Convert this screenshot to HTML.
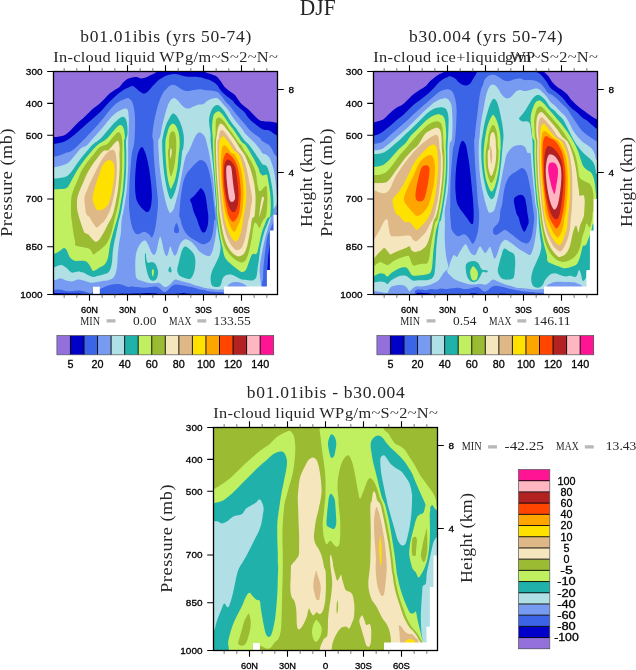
<!DOCTYPE html>
<html lang="en">
<head>
<meta charset="utf-8">
<title>DJF In-cloud liquid WP</title>
<style>
html,body{margin:0;padding:0;background:#fff;}
body{width:636px;height:670px;overflow:hidden;}
svg{display:block;}
.se{font-family:"Liberation Serif", "DejaVu Serif", serif;fill:#262626;}
.sa{font-family:"Liberation Sans", "DejaVu Sans", sans-serif;}
</style>
</head>
<body>
<svg width="636" height="670" viewBox="0 0 636 670">
<rect width="636" height="670" fill="#fff"/>
<text x="299.8" y="15.1" font-size="23.5" class="se" textLength="35.8" lengthAdjust="spacingAndGlyphs">DJF</text>
<g id="p1">
<clipPath id="cp_p1"><rect x="53.5" y="71.5" width="224" height="223"/></clipPath>
<g clip-path="url(#cp_p1)">
<rect x="53.5" y="71.5" width="224" height="223" fill="#3c64e6"/>
<g transform="translate(53.5 71.5)">
<path d="M-4.3 85.2C-4.3 85.2 -2.2 85.4 -0.5 85.2C1.2 85.0 3.7 84.6 5.8 84.0C7.9 83.4 10.2 82.1 12.1 81.4C14.0 80.7 15.4 80.9 17.1 80.0C18.8 79.1 20.4 77.7 22.1 76.2C23.8 74.7 25.5 72.9 27.2 71.2C28.9 69.5 30.5 67.9 32.2 66.2C33.9 64.5 35.5 62.9 37.2 61.1C38.9 59.3 40.6 57.4 42.3 55.5C44.0 53.6 45.6 51.8 47.3 49.8C49.0 47.8 50.6 45.6 52.3 43.5C54.0 41.4 55.7 39.1 57.4 37.2C59.1 35.3 60.7 33.6 62.4 32.2C64.1 30.9 65.7 30.0 67.4 29.1C69.1 28.2 71.2 27.3 72.5 26.9C73.8 26.5 72.7 26.8 75.0 26.5C77.3 26.2 82.6 25.9 86.6 25.3C90.6 24.7 95.2 23.8 99.2 22.8C103.2 21.9 107.9 20.9 110.5 19.6C113.1 18.3 113.4 16.2 114.9 15.2C116.4 14.1 117.7 13.3 119.3 13.3C120.9 13.3 122.6 14.3 124.3 15.2C126.0 16.0 127.7 17.7 129.4 18.4C131.1 19.1 132.5 19.4 134.4 19.4C136.3 19.4 138.6 18.7 140.7 18.4C142.8 18.1 145.3 17.7 147.0 17.7C148.7 17.7 149.1 18.2 150.8 18.4C152.5 18.6 155.0 18.7 157.1 19.0C159.2 19.3 161.7 19.6 163.4 20.3C165.1 21.0 165.8 22.0 167.1 23.4C168.3 24.8 169.4 26.6 170.9 28.4C172.4 30.2 174.5 32.4 175.9 34.1C177.3 35.8 178.4 37.2 179.5 38.6C180.6 40.0 181.5 41.1 182.5 42.4C183.5 43.6 184.6 44.9 185.6 46.1C186.6 47.3 187.6 48.4 188.6 49.5C189.6 50.6 190.6 51.7 191.6 52.9C192.6 54.1 193.5 55.4 194.6 56.7C195.7 58.0 197.1 59.4 198.4 60.5C199.7 61.6 200.9 62.6 202.2 63.5C203.4 64.4 204.8 65.1 205.9 66.1C207.0 67.1 207.6 68.7 208.6 69.6C209.6 70.5 210.8 70.8 212.0 71.5C213.2 72.2 214.6 72.7 215.7 73.8C216.8 74.9 217.9 76.8 218.8 78.3C219.7 79.8 219.8 81.3 221.0 82.8C222.2 84.3 226.3 87.4 226.3 87.4L227.5 227.6L-4.3 227.6L-4.3 85.2Z" fill="#789bf2"/>
<path d="M76.5 23.4C76.5 23.4 75.0 25.4 75.3 26.5C75.6 27.6 77.6 28.1 78.4 29.7C79.2 31.3 79.8 33.7 80.3 36.0C80.8 38.3 81.1 40.8 81.3 43.5C81.5 46.2 81.6 49.1 81.6 52.3C81.6 55.4 81.5 59.0 81.3 62.4C81.1 65.8 81.1 69.2 80.6 72.5C80.1 75.8 79.0 78.4 78.4 82.1C77.8 85.8 77.6 90.5 77.2 94.7C76.8 98.9 76.5 103.0 76.3 107.2C76.0 111.4 75.8 115.6 75.7 119.8C75.6 124.0 75.5 129.1 75.5 132.4C75.5 135.7 75.6 136.6 75.9 139.5C76.2 142.4 76.6 146.4 77.2 149.6C77.8 152.8 78.6 156.2 79.7 158.4C80.8 160.6 82.3 162.5 84.1 162.8C85.9 163.1 88.5 160.3 90.4 160.3C92.3 160.3 94.1 161.9 95.4 162.8C96.8 163.7 97.5 166.4 98.5 165.9C99.5 165.4 100.4 162.3 101.1 159.6C101.8 156.9 102.4 152.9 102.9 149.6C103.4 146.2 103.7 142.8 104.0 139.5C104.3 136.2 104.6 133.2 104.5 129.9C104.4 126.6 104.0 123.6 103.6 119.8C103.2 116.0 102.7 111.4 102.3 107.2C101.9 103.0 101.4 98.9 101.1 94.7C100.8 90.5 100.4 86.3 100.2 82.1C100.0 77.9 100.0 72.4 99.8 69.5C99.6 66.6 98.9 67.4 98.9 64.9C98.9 62.5 99.3 58.1 99.8 54.8C100.3 51.4 101.0 48.1 101.7 44.8C102.4 41.4 103.3 37.9 104.2 34.7C105.1 31.6 106.2 28.4 107.3 25.9C108.3 23.4 109.8 21.5 110.5 19.6C111.2 17.7 111.8 14.6 111.8 14.6L76.5 23.4Z" fill="#3c64e6"/>
<path d="M-4.3 -4.3L-4.3 72.5C-4.3 72.5 -2.0 72.6 -0.5 72.5C1.0 72.4 2.8 72.1 4.5 71.8C6.2 71.5 7.9 71.2 9.6 70.6C11.3 70.0 12.9 69.1 14.6 68.1C16.3 67.0 17.9 65.7 19.6 64.3C21.3 62.9 23.0 61.4 24.7 59.9C26.4 58.4 28.0 57.0 29.7 55.5C31.4 54.0 33.0 52.6 34.7 51.1C36.4 49.6 38.1 48.2 39.8 46.7C41.5 45.2 43.1 43.9 44.8 42.3C46.5 40.7 48.1 39.0 49.8 37.2C51.5 35.4 53.1 33.4 54.8 31.6C56.5 29.8 58.2 28.1 59.9 26.5C61.6 24.9 63.2 23.5 64.9 22.1C66.6 20.8 68.2 19.4 69.9 18.4C71.6 17.4 73.5 16.5 75.0 15.9C76.5 15.3 77.7 14.4 79.0 14.6C80.3 14.8 81.5 16.2 82.8 17.1C84.1 18.1 85.3 19.5 86.6 20.3C87.9 21.1 89.2 22.1 90.4 22.1C91.7 22.1 92.8 21.3 94.1 20.3C95.3 19.3 96.6 17.3 97.9 15.9C99.2 14.5 100.4 13.4 101.7 12.1C103.0 10.8 104.0 9.5 105.5 8.3C107.0 7.2 108.8 6.0 110.5 5.2C112.2 4.4 113.6 3.7 115.5 3.3C117.4 2.9 119.7 2.5 121.8 2.6C123.9 2.7 126.0 3.5 128.1 3.9C130.2 4.3 132.3 5.0 134.4 5.2C136.5 5.4 138.6 5.1 140.7 5.2C142.8 5.3 145.3 5.5 147.0 5.8C148.7 6.1 149.1 6.5 150.8 7.0C152.5 7.5 155.2 8.1 157.1 8.9C159.0 9.8 160.7 10.9 162.1 12.1C163.5 13.3 164.2 14.5 165.3 15.9C166.4 17.3 167.1 18.8 168.4 20.3C169.8 21.8 171.7 23.3 173.4 24.7C175.1 26.1 177.5 27.6 178.8 28.8C180.1 30.0 180.0 30.7 181.0 31.8C182.0 32.9 183.5 34.1 184.8 35.2C186.1 36.3 187.3 37.4 188.6 38.6C189.8 39.8 191.3 41.1 192.3 42.4C193.3 43.6 193.7 45.0 194.6 46.1C195.5 47.2 196.5 48.2 197.6 49.2C198.7 50.2 200.1 51.2 201.4 52.2C202.7 53.2 203.9 54.3 205.2 55.2C206.5 56.1 207.9 57.2 209.0 57.8C210.1 58.4 210.9 58.4 212.0 58.6C213.1 58.8 214.6 58.6 215.7 59.0C216.8 59.4 217.8 60.2 218.8 60.9C219.8 61.6 220.4 62.3 221.8 63.1C223.2 63.9 227.1 65.8 227.1 65.8L227.5 -4.3L-4.3 -4.3Z" fill="#0000c8"/>
<path d="M-4.3 -4.3L-4.3 65.5C-4.3 65.5 -2.2 65.6 -0.5 65.5C1.2 65.4 3.9 65.2 5.8 64.9C7.7 64.6 9.1 64.5 10.8 63.7C12.5 62.9 14.2 61.4 15.9 59.9C17.6 58.4 19.2 56.5 20.9 54.8C22.6 53.1 24.2 51.4 25.9 49.8C27.6 48.2 29.2 47.0 30.9 45.4C32.6 43.8 34.3 42.0 36.0 40.4C37.7 38.8 39.3 37.4 41.0 36.0C42.7 34.6 44.3 33.7 46.0 32.2C47.7 30.7 49.4 28.9 51.1 27.2C52.8 25.5 54.4 23.6 56.1 22.1C57.8 20.6 59.4 19.5 61.1 18.4C62.8 17.2 64.7 16.5 66.2 15.2C67.7 13.9 68.4 12.2 69.9 10.8C71.4 9.4 72.8 7.9 75.0 7.0C77.2 6.1 80.6 5.5 82.8 5.5C85.0 5.5 86.2 7.0 87.9 7.0C89.6 7.0 91.2 6.4 92.9 5.8C94.6 5.2 96.2 4.2 97.9 3.3C99.6 2.4 101.9 1.8 102.9 0.5C104.0 -0.8 104.2 -4.3 104.2 -4.3L-4.3 -4.3Z" fill="#9370db"/>
<path d="M149.5 -4.3C149.5 -4.3 149.5 -1.1 150.8 0.1C152.1 1.3 155.0 1.8 157.1 2.6C159.2 3.5 161.7 4.0 163.4 5.2C165.1 6.4 165.8 7.9 167.1 9.6C168.3 11.3 169.4 13.5 170.9 15.2C172.4 16.9 174.2 18.2 175.9 19.6C177.7 21.0 180.1 22.2 181.4 23.5C182.8 24.8 183.1 26.0 184.0 27.3C184.9 28.6 186.0 30.1 187.1 31.4C188.2 32.6 189.6 33.7 190.8 34.8C192.1 35.9 193.3 36.7 194.6 37.8C195.9 38.9 197.1 40.3 198.4 41.6C199.7 42.9 200.9 44.3 202.2 45.4C203.4 46.5 204.9 47.7 205.9 48.4C206.9 49.1 207.1 49.2 208.2 49.5C209.3 49.8 211.2 50.0 212.7 50.1C214.2 50.2 215.8 50.1 217.3 50.3C218.8 50.4 220.2 50.8 221.8 51.0C223.4 51.2 227.1 51.8 227.1 51.8L227.5 -4.3L149.5 -4.3Z" fill="#9370db"/>
<path d="M88.5 75.5C89.5 75.7 90.7 78.5 91.6 80.8C92.5 83.1 93.4 86.4 94.1 89.6C94.8 92.8 95.5 96.3 96.0 99.7C96.5 103.1 96.9 106.5 97.3 109.8C97.7 113.1 98.0 116.7 98.2 119.8C98.4 122.9 98.5 125.7 98.2 128.6C98.0 131.5 97.5 135.4 96.7 137.4C95.9 139.4 94.7 140.5 93.5 140.6C92.3 140.7 91.0 139.2 89.7 138.1C88.5 136.9 87.2 135.5 86.0 133.7C84.8 131.9 83.5 130.1 82.8 127.4C82.1 124.7 81.8 120.7 81.6 117.3C81.4 113.9 81.5 110.5 81.6 107.2C81.7 103.9 81.9 100.6 82.2 97.2C82.5 93.8 82.9 90.0 83.4 87.1C83.9 84.2 84.5 81.5 85.3 79.6C86.1 77.7 87.5 75.3 88.5 75.5Z" fill="#0000c8"/>
<path d="M147.0 88.4C148.5 88.4 150.6 89.2 152.0 90.9C153.4 92.6 154.3 95.7 155.2 98.4C156.0 101.1 156.5 104.1 157.1 107.2C157.7 110.3 158.1 113.9 158.6 117.3C159.1 120.7 159.4 124.1 159.8 127.4C160.2 130.8 160.6 134.1 160.9 137.4C161.2 140.8 162.0 145.5 161.9 147.5C161.8 149.5 161.0 147.6 160.6 149.6C160.2 151.6 160.2 156.5 159.6 159.6C159.0 162.7 158.4 166.3 157.1 168.4C155.8 170.5 153.5 171.5 152.0 172.2C150.5 172.9 149.7 172.9 148.2 172.5C146.7 172.1 145.1 170.8 143.2 169.7C141.3 168.6 138.8 167.4 136.9 165.9C135.0 164.4 133.3 162.8 131.9 160.9C130.5 159.0 129.5 156.9 128.7 154.6C127.8 152.3 127.3 148.6 126.8 147.0C126.3 145.4 125.9 146.6 125.8 145.0C125.7 143.4 126.0 139.9 126.2 137.4C126.4 134.9 126.5 132.8 126.8 129.9C127.1 127.0 127.6 123.2 128.1 119.8C128.6 116.4 129.2 112.7 130.0 109.8C130.8 106.9 131.7 104.5 133.1 102.2C134.5 99.9 136.5 97.8 138.2 95.9C139.9 94.0 141.7 92.2 143.2 90.9C144.7 89.7 145.5 88.4 147.0 88.4Z" fill="#3c64e6"/>
<path d="M147.6 116.7C148.8 117.1 150.4 119.7 151.4 122.3C152.4 124.9 152.8 129.0 153.3 132.4C153.8 135.8 154.3 140.3 154.6 142.5C154.8 144.7 154.9 144.0 154.8 145.8C154.8 147.6 154.7 151.0 154.3 153.3C153.9 155.6 153.0 158.1 152.3 159.4C151.6 160.7 150.9 160.8 150.2 160.9C149.5 161.0 148.9 161.0 148.2 159.9C147.4 158.8 146.5 156.8 145.7 154.6C144.9 152.4 144.1 149.4 143.2 147.0C142.3 144.6 140.9 142.3 140.1 139.9C139.3 137.5 138.8 134.4 138.2 132.4C137.6 130.4 136.3 129.4 136.7 128.0C137.1 126.6 139.4 125.6 140.7 124.2C142.0 122.8 143.3 121.0 144.5 119.8C145.7 118.5 146.4 116.3 147.6 116.7Z" fill="#0000c8"/>
<path d="M123.1 151.4C123.9 151.6 125.4 156.7 125.6 158.4C125.8 160.1 125.0 161.1 124.3 161.5C123.6 161.9 121.8 161.6 121.2 160.9C120.6 160.2 120.3 158.7 120.6 157.1C120.9 155.5 122.3 151.2 123.1 151.4Z" fill="#3c64e6"/>
<path d="M-4.3 95.9C-4.3 95.9 -2.2 96.1 -0.5 95.9C1.2 95.7 3.7 95.2 5.8 94.7C7.9 94.2 10.4 93.5 12.1 92.8C13.8 92.1 14.4 91.7 15.9 90.3C17.4 88.9 19.0 86.8 20.9 84.6C22.8 82.4 25.1 78.8 27.2 77.0C29.3 75.2 31.6 75.2 33.5 73.7C35.4 72.2 36.8 70.0 38.5 68.1C40.2 66.2 41.8 64.3 43.5 62.4C45.2 60.5 46.9 58.7 48.6 56.7C50.3 54.7 51.9 52.4 53.6 50.4C55.3 48.4 56.9 46.5 58.6 44.8C60.3 43.1 62.0 41.5 63.7 40.4C65.4 39.2 67.4 38.5 68.7 37.9C70.0 37.3 70.9 36.9 71.8 37.0C72.7 37.1 73.7 36.8 74.3 38.5C74.9 40.2 75.1 44.1 75.3 47.3C75.5 50.4 75.3 53.7 75.2 57.4C75.1 61.1 74.8 65.4 74.7 69.5C74.6 73.6 74.7 77.9 74.7 82.1C74.7 86.3 74.7 90.5 74.6 94.7C74.5 98.9 74.2 103.0 74.0 107.2C73.8 111.4 73.5 116.0 73.1 119.8C72.7 123.6 72.1 126.6 71.6 129.9C71.1 133.2 70.5 136.8 69.9 139.9C69.3 143.0 68.5 145.2 68.1 148.7C67.7 152.2 67.8 157.0 67.4 160.9C67.0 164.8 66.0 168.4 65.5 172.2C65.0 176.0 64.6 179.9 64.3 183.5C64.0 187.1 64.0 190.7 63.7 193.6C63.4 196.5 63.0 199.0 62.4 201.1C61.8 203.2 61.2 204.9 59.9 206.2C58.6 207.5 56.5 208.2 54.8 208.7C53.1 209.2 51.7 209.0 49.8 209.3C47.9 209.6 45.6 210.3 43.5 210.6C41.4 210.9 39.3 211.4 37.2 211.2C35.1 211.0 33.0 209.8 30.9 209.3C28.8 208.8 26.8 208.0 24.7 208.1C22.6 208.2 20.5 209.8 18.4 209.9C16.3 210.0 14.0 209.2 12.1 208.7C10.2 208.2 8.5 206.9 7.0 206.8C5.5 206.7 4.5 207.8 3.3 208.1C2.0 208.4 0.8 208.6 -0.5 208.7C-1.8 208.8 -4.3 208.7 -4.3 208.7L-4.3 95.9Z" fill="#b0e0e6"/>
<path d="M117.0 141.4C116.2 141.5 115.7 140.4 114.9 138.7C114.1 137.0 113.2 134.2 112.4 131.1C111.6 127.9 110.7 123.8 109.9 119.8C109.1 115.8 108.3 111.4 107.7 107.2C107.1 103.0 106.5 98.9 106.1 94.7C105.7 90.5 105.4 86.3 105.2 82.1C105.0 77.9 104.5 72.4 104.8 69.5C105.0 66.6 106.1 67.4 106.7 64.9C107.3 62.5 107.9 58.1 108.6 54.8C109.3 51.4 110.3 47.9 111.1 44.8C111.9 41.7 112.6 38.6 113.6 36.0C114.5 33.4 115.6 30.7 116.8 29.1C118.0 27.5 119.3 26.5 120.6 26.5C121.8 26.5 123.0 27.9 124.3 29.1C125.5 30.3 126.8 32.2 128.1 33.5C129.4 34.8 130.6 36.0 131.9 36.6C133.2 37.2 134.4 37.2 135.7 37.0C136.9 36.8 137.9 35.9 139.4 35.3C140.9 34.7 142.8 33.6 144.5 33.2C146.2 32.8 148.0 33.4 149.5 32.8C151.0 32.2 151.8 30.6 153.3 29.7C154.8 28.8 156.6 27.7 158.3 27.2C160.0 26.7 162.0 26.2 163.4 26.5C164.8 26.8 165.4 28.1 166.5 29.1C167.6 30.2 168.3 31.2 169.7 32.8C171.1 34.4 173.1 36.3 174.7 38.5C176.3 40.7 178.2 44.2 179.5 46.1C180.8 48.0 181.5 48.6 182.5 49.9C183.5 51.2 184.6 52.4 185.6 53.7C186.6 55.0 187.6 56.1 188.6 57.5C189.6 58.9 190.6 60.8 191.6 62.0C192.6 63.2 193.6 64.0 194.6 65.0C195.6 66.0 196.6 67.0 197.6 68.0C198.6 69.0 199.6 69.5 200.7 70.7C201.8 71.9 203.4 74.0 204.4 75.3C205.4 76.6 205.9 77.2 206.7 78.3C207.5 79.4 208.1 81.0 209.0 81.7C209.9 82.5 211.0 82.2 212.0 82.8C213.0 83.4 214.1 84.1 215.0 85.1C215.9 86.1 216.7 87.5 217.3 88.9C217.9 90.3 218.3 91.8 218.8 93.4C219.3 95.0 219.9 96.8 220.3 98.7C220.7 100.6 221.1 102.7 221.4 104.7C221.7 106.7 222.0 108.8 222.2 110.8C222.4 112.8 222.5 114.9 222.7 116.8C222.8 118.7 223.0 119.7 223.1 122.3C223.2 124.9 223.8 129.5 223.1 132.4C222.4 135.3 219.8 136.6 218.7 139.5C217.6 142.4 217.5 146.7 216.8 149.6C216.1 152.5 215.1 154.4 214.3 157.1C213.5 159.8 212.6 162.6 211.8 165.9C211.0 169.2 210.0 173.6 209.3 177.2C208.6 180.8 207.9 183.9 207.4 187.3C206.9 190.7 206.2 194.1 206.1 197.4C206.0 200.8 206.6 204.5 206.8 207.4C207.0 210.3 207.7 213.2 207.4 215.0C207.1 216.8 211.0 217.6 204.9 218.1C198.8 218.6 177.8 218.1 170.9 218.1C164.0 218.1 166.6 218.4 163.4 218.1C160.2 217.8 154.7 217.0 152.0 216.5C149.3 216.0 148.7 215.5 147.0 215.0C145.3 214.5 144.0 214.3 141.9 213.7C139.8 213.1 136.9 211.9 134.4 211.2C131.9 210.5 128.9 209.8 126.8 209.3C124.7 208.8 123.0 208.0 121.8 208.1C120.5 208.2 120.3 209.0 119.3 209.9C118.2 210.8 116.8 212.8 115.5 213.7C114.2 214.6 113.0 215.6 111.8 215.6C110.6 215.6 109.6 214.4 108.6 213.7C107.5 213.0 106.9 211.5 105.5 211.2C104.1 210.9 102.3 211.8 100.4 211.8C98.5 211.8 96.2 211.6 94.1 211.2C92.0 210.8 89.8 210.1 87.9 209.3C86.0 208.5 83.8 208.4 82.8 206.2C81.8 204.0 81.9 199.7 81.8 196.1C81.7 192.5 81.8 188.0 82.2 184.8C82.6 181.7 83.1 179.5 84.1 177.2C85.0 174.9 86.7 172.2 87.9 170.9C89.2 169.6 90.4 168.7 91.6 169.1C92.8 169.5 93.8 171.7 94.8 173.5C95.8 175.3 96.4 178.1 97.3 179.8C98.2 181.5 99.5 183.5 100.4 183.5C101.3 183.5 102.2 181.9 102.9 179.8C103.6 177.7 104.2 173.3 104.8 170.9C105.4 168.5 106.1 165.3 106.7 165.3C107.3 165.3 108.0 168.5 108.6 170.9C109.2 173.3 109.8 177.5 110.5 179.8C111.2 182.1 112.3 184.6 113.0 184.8C113.7 185.0 114.3 182.7 114.9 181.0C115.5 179.3 116.2 174.9 116.8 174.7C117.4 174.5 118.0 178.2 118.7 179.8C119.4 181.4 120.4 184.0 121.2 184.2C122.0 184.4 123.0 182.6 123.7 181.0C124.4 179.4 124.9 176.5 125.6 174.7C126.3 172.9 127.0 171.5 128.1 170.3C129.2 169.2 130.4 167.9 131.9 167.8C133.4 167.7 135.2 168.5 136.9 169.7C138.6 170.8 140.4 173.0 141.9 174.7C143.4 176.4 144.1 178.3 145.7 179.8C147.3 181.3 149.7 182.8 151.5 183.5C153.3 184.2 155.1 185.2 156.4 184.2C157.8 183.1 158.7 180.4 159.6 177.2C160.5 173.9 161.5 168.9 162.1 164.7C162.7 160.5 163.2 156.3 163.4 152.1C163.6 147.9 163.4 142.8 163.1 139.5C162.8 136.2 162.0 135.7 161.6 132.4C161.2 129.1 160.9 124.0 160.6 119.8C160.3 115.6 160.0 111.0 159.6 107.2C159.2 103.4 158.6 100.8 158.1 97.2C157.6 93.7 157.0 89.3 156.4 85.9C155.8 82.5 155.2 79.7 154.6 77.0C154.0 74.3 153.2 71.4 152.7 69.5C152.2 67.6 152.1 66.7 151.5 65.5C150.9 64.3 149.9 63.1 148.9 62.4C147.9 61.7 146.8 60.9 145.7 61.1C144.6 61.3 143.6 62.2 142.6 63.7C141.6 65.2 140.4 67.6 139.4 69.9C138.4 72.2 137.6 74.8 136.3 77.5C135.1 80.2 133.1 82.6 131.9 85.9C130.8 89.2 130.1 93.7 129.4 97.2C128.7 100.8 128.2 103.4 127.5 107.2C126.8 111.0 125.8 116.0 125.0 119.8C124.2 123.6 123.2 126.9 122.4 129.9C121.6 133.0 120.8 136.2 119.9 138.1C119.0 140.0 117.8 141.3 117.0 141.4Z" fill="#b0e0e6"/>
<path d="M-4.3 107.2C-4.3 107.2 -2.2 107.3 -0.5 107.2C1.2 107.1 3.7 106.9 5.8 106.6C7.9 106.3 10.4 106.0 12.1 105.3C13.8 104.6 14.4 104.1 15.9 102.5C17.4 100.9 19.0 98.5 20.9 95.9C22.8 93.3 25.1 89.8 27.2 87.1C29.3 84.4 31.4 82.0 33.5 79.6C35.6 77.2 37.7 74.5 39.8 72.6C41.9 70.7 44.1 69.8 46.0 68.1C47.9 66.4 49.4 64.3 51.1 62.4C52.8 60.5 54.4 58.6 56.1 56.7C57.8 54.8 59.4 52.8 61.1 51.1C62.8 49.4 64.7 47.7 66.2 46.7C67.7 45.8 68.9 45.2 69.9 45.4C71.0 45.6 71.9 46.5 72.5 47.9C73.1 49.3 73.5 51.2 73.7 53.6C74.0 56.0 74.2 59.8 74.0 62.4C73.8 65.0 72.7 66.2 72.5 69.5C72.3 72.8 72.8 77.9 72.8 82.1C72.8 86.3 72.8 90.5 72.7 94.7C72.6 98.9 72.4 103.0 72.1 107.2C71.8 111.4 71.4 116.0 70.9 119.8C70.4 123.6 69.8 126.6 69.3 129.9C68.8 133.2 68.3 136.8 67.7 139.9C67.1 143.0 66.1 146.2 65.5 148.7C64.9 151.1 64.8 152.1 64.3 154.6C63.8 157.1 63.0 160.5 62.4 163.4C61.8 166.3 61.0 169.3 60.5 172.2C60.0 175.1 59.5 178.1 59.2 181.0C58.9 183.9 58.9 187.3 58.6 189.8C58.3 192.3 58.0 194.2 57.4 196.1C56.8 198.0 56.1 199.9 54.8 201.1C53.5 202.2 51.5 202.5 49.8 203.0C48.1 203.5 46.5 203.9 44.8 204.3C43.1 204.7 41.5 205.6 39.8 205.5C38.1 205.4 36.4 204.4 34.7 203.7C33.0 203.0 31.4 201.7 29.7 201.1C28.0 200.5 26.6 199.9 24.7 199.9C22.8 199.9 20.1 201.4 18.4 201.1C16.7 200.8 15.9 199.1 14.6 198.0C13.3 196.9 12.1 195.5 10.8 194.8C9.5 194.1 8.2 193.6 7.0 193.6C5.8 193.6 4.5 194.4 3.3 194.8C2.0 195.2 0.8 195.9 -0.5 196.1C-1.8 196.3 -4.3 196.1 -4.3 196.1L-4.3 107.2Z" fill="#20b2aa"/>
<path d="M119.3 42.0C120.3 41.6 121.4 42.4 122.4 43.5C123.5 44.6 124.6 46.7 125.6 48.6C126.5 50.5 127.4 52.5 128.1 54.8C128.8 57.1 129.6 59.9 130.0 62.4C130.4 64.9 130.5 67.4 130.4 69.9C130.3 72.4 129.9 75.9 129.6 77.5C129.3 79.1 129.0 77.2 128.7 79.6C128.3 82.0 128.1 87.9 127.5 92.1C126.9 96.3 126.1 100.5 125.3 104.7C124.5 108.9 123.3 114.0 122.4 117.3C121.5 120.5 120.8 122.5 119.9 124.2C119.0 125.9 118.0 128.3 117.0 127.6C116.0 126.9 114.9 123.2 114.0 119.8C113.1 116.4 112.2 111.4 111.5 107.2C110.8 103.0 110.3 98.9 109.9 94.7C109.5 90.5 109.2 86.3 109.0 82.1C108.8 77.9 108.6 72.0 108.6 69.5C108.6 67.0 108.7 69.0 109.0 67.4C109.3 65.8 109.8 62.4 110.5 59.9C111.2 57.4 112.0 54.6 113.0 52.3C114.0 50.0 115.2 47.7 116.2 46.0C117.2 44.3 118.3 42.4 119.3 42.0Z" fill="#20b2aa"/>
<path d="M163.4 33.5C164.6 33.3 165.2 33.7 166.5 34.7C167.8 35.8 169.3 37.6 170.9 39.8C172.5 42.0 174.5 45.7 175.9 47.9C177.3 50.1 178.4 51.4 179.5 52.9C180.6 54.4 181.5 55.3 182.5 56.7C183.5 58.1 184.6 59.7 185.6 61.2C186.6 62.7 187.6 64.4 188.6 65.8C189.6 67.2 190.6 68.4 191.6 69.5C192.6 70.6 193.6 71.2 194.6 72.3C195.6 73.4 196.6 74.6 197.6 76.0C198.6 77.4 199.7 79.1 200.7 80.6C201.7 82.1 202.7 83.6 203.7 85.1C204.7 86.6 205.8 88.3 206.7 89.6C207.6 90.9 208.1 92.0 209.0 92.7C209.9 93.4 211.1 93.2 212.0 93.8C212.9 94.4 213.6 95.2 214.2 96.4C214.8 97.6 215.2 99.4 215.7 101.0C216.1 102.6 216.5 104.3 216.9 106.2C217.3 108.1 217.7 110.5 218.0 112.3C218.3 114.1 218.5 114.7 218.8 116.8C219.1 118.9 219.5 121.8 219.7 124.8C219.9 127.8 220.0 132.0 220.0 134.9C220.0 137.8 220.3 140.5 219.7 142.5C219.1 144.5 217.2 145.2 216.2 147.0C215.2 148.8 214.5 151.2 213.7 153.3C212.9 155.4 212.0 157.1 211.2 159.6C210.4 162.1 209.4 165.5 208.7 168.4C208.0 171.3 207.3 174.0 206.8 177.2C206.3 180.3 205.9 184.2 205.5 187.3C205.1 190.5 204.6 193.2 204.2 196.1C203.8 199.0 203.7 202.8 203.0 204.9C202.3 207.0 201.2 208.1 199.8 208.7C198.4 209.3 196.7 208.8 194.8 208.7C192.9 208.6 190.6 208.7 188.5 208.1C186.4 207.5 184.1 205.8 182.2 204.9C180.3 204.1 178.9 203.2 177.2 203.0C175.5 202.8 173.6 203.0 172.2 203.7C170.8 204.4 169.8 205.7 169.0 207.4C168.2 209.1 168.0 212.3 167.1 213.7C166.2 215.1 164.9 215.6 163.4 215.6C161.9 215.6 159.4 215.3 158.3 213.7C157.2 212.1 157.0 208.7 157.1 206.2C157.2 203.7 158.2 200.9 159.0 198.6C159.8 196.3 160.9 194.8 162.1 192.3C163.2 189.8 165.1 186.4 165.9 183.5C166.7 180.6 167.2 177.8 167.1 174.7C167.0 171.6 165.9 168.5 165.3 164.7C164.7 160.9 164.0 156.3 163.6 152.1C163.2 147.9 162.9 142.8 162.7 139.5C162.5 136.2 162.7 135.7 162.5 132.4C162.3 129.1 161.8 124.0 161.5 119.8C161.2 115.6 160.9 111.4 160.6 107.2C160.3 103.0 160.0 98.9 159.6 94.7C159.2 90.5 158.7 86.3 158.3 82.1C157.9 77.9 157.3 72.8 157.1 69.5C156.9 66.2 157.3 65.0 157.1 62.4C156.9 59.8 156.1 56.1 155.8 53.6C155.6 51.1 155.4 49.4 155.6 47.3C155.8 45.2 156.4 42.9 157.1 41.0C157.8 39.1 158.5 37.2 159.6 36.0C160.7 34.8 162.2 33.7 163.4 33.5Z" fill="#20b2aa"/>
<path d="M-4.3 117.9C-4.3 117.9 -2.2 118.0 -0.5 117.9C1.2 117.9 3.7 117.8 5.8 117.6C7.9 117.4 10.5 117.6 12.1 117.0C13.7 116.4 14.0 115.8 15.2 114.2C16.3 112.6 17.4 110.0 19.0 107.2C20.6 104.4 22.7 100.3 24.7 97.2C26.7 94.1 28.8 91.1 30.9 88.4C33.0 85.7 35.1 83.2 37.2 80.8C39.3 78.4 41.0 76.0 43.5 73.9C46.0 71.8 50.0 70.0 52.3 68.1C54.6 66.2 55.7 64.3 57.4 62.4C59.1 60.5 60.9 58.2 62.4 56.7C63.9 55.2 65.2 54.0 66.2 53.6C67.2 53.2 68.0 53.4 68.7 54.2C69.4 55.0 70.1 56.6 70.6 58.6C71.0 60.6 71.4 64.4 71.4 66.2C71.4 68.0 70.7 66.8 70.6 69.5C70.5 72.2 70.9 77.9 70.9 82.1C71.0 86.3 71.0 90.5 70.9 94.7C70.8 98.9 70.5 103.0 70.2 107.2C69.9 111.4 69.6 116.0 69.1 119.8C68.6 123.6 68.0 126.6 67.4 129.9C66.8 133.2 66.1 137.0 65.5 139.9C64.9 142.8 64.4 144.8 63.7 147.5C63.0 150.2 62.0 153.0 61.1 155.9C60.2 158.8 59.3 162.0 58.6 164.7C57.9 167.4 57.2 169.7 56.7 172.2C56.2 174.7 55.9 177.3 55.5 179.8C55.1 182.3 54.9 185.1 54.2 187.3C53.5 189.5 52.5 191.5 51.1 193.0C49.7 194.5 47.5 195.2 46.0 196.1C44.5 197.0 43.4 198.1 42.3 198.6C41.1 199.1 40.1 200.0 39.1 199.2C38.1 198.4 37.1 195.2 36.0 193.6C34.9 192.0 33.7 190.5 32.2 189.8C30.7 189.1 29.0 189.3 27.2 189.2C25.4 189.1 23.3 189.7 21.5 189.2C19.7 188.7 17.8 187.5 16.5 186.0C15.2 184.5 14.9 182.0 14.0 180.4C13.1 178.8 12.2 176.7 10.8 176.6C9.4 176.5 7.7 178.8 5.8 179.8C3.9 180.9 1.2 182.4 -0.5 182.9C-2.2 183.4 -4.3 182.9 -4.3 182.9L-4.3 117.9Z" fill="#c0f060"/>
<path d="M118.7 52.3C119.8 51.9 120.9 52.5 121.8 53.6C122.7 54.7 123.6 56.7 124.3 58.6C125.0 60.5 125.5 62.6 125.8 64.9C126.1 67.2 126.2 70.0 126.2 72.5C126.2 75.0 125.8 78.4 125.6 80.0C125.4 81.6 125.5 79.6 125.3 82.1C125.0 84.5 124.7 90.5 124.1 94.7C123.5 98.9 122.6 104.1 121.8 107.2C121.0 110.3 120.1 111.9 119.3 113.5C118.5 115.1 117.8 118.0 117.0 117.0C116.2 116.0 115.0 110.9 114.3 107.2C113.6 103.5 113.2 98.9 112.8 94.7C112.4 90.5 112.1 86.3 112.0 82.1C111.9 77.9 111.7 72.8 112.0 69.5C112.3 66.2 113.0 64.6 113.6 62.4C114.2 60.2 114.7 57.8 115.5 56.1C116.3 54.4 117.7 52.7 118.7 52.3Z" fill="#c0f060"/>
<path d="M164.0 40.0C165.2 39.6 165.9 40.1 167.1 41.0C168.2 41.9 169.4 43.4 170.9 45.4C172.4 47.4 174.5 51.0 175.9 53.0C177.3 55.0 178.4 56.0 179.5 57.5C180.6 59.0 181.5 60.5 182.5 62.0C183.5 63.5 184.6 65.0 185.6 66.5C186.6 68.0 187.6 69.9 188.6 71.0C189.6 72.1 190.6 71.9 191.6 73.0C192.6 74.1 193.6 76.0 194.6 77.6C195.6 79.2 196.6 81.0 197.6 82.8C198.6 84.5 199.8 86.4 200.7 88.1C201.6 89.8 202.2 91.2 202.9 92.7C203.7 94.2 204.6 95.8 205.2 97.2C205.8 98.6 205.7 99.9 206.3 101.0C206.9 102.1 208.2 103.6 209.0 104.0C209.8 104.4 210.4 103.7 211.2 103.6C211.9 103.5 213.0 102.8 213.5 103.2C214.0 103.6 213.9 104.9 214.2 106.2C214.4 107.5 214.8 109.3 215.0 110.8C215.2 112.3 215.4 113.4 215.7 115.3C216.0 117.2 216.4 119.9 216.7 122.3C216.9 124.7 217.1 127.4 217.2 129.9C217.3 132.4 217.3 134.9 217.2 137.4C217.1 139.9 217.0 143.4 216.4 145.0C215.8 146.6 214.6 145.6 213.7 147.0C212.8 148.4 212.0 151.2 211.2 153.3C210.4 155.4 209.4 157.3 208.7 159.6C208.0 161.9 207.4 164.5 206.8 167.2C206.2 169.9 205.5 173.5 204.9 176.0C204.3 178.5 204.1 181.2 203.0 182.3C201.9 183.5 200.0 181.2 198.6 182.9C197.2 184.6 195.9 189.7 194.8 192.3C193.8 194.9 193.4 197.2 192.3 198.6C191.2 200.0 190.0 200.7 188.5 200.5C187.0 200.3 185.4 198.8 183.5 197.4C181.6 196.0 179.2 194.2 177.2 192.3C175.2 190.4 172.9 188.7 171.5 186.0C170.1 183.3 169.8 179.6 169.0 176.0C168.2 172.4 167.2 168.7 166.5 164.7C165.8 160.7 165.1 156.3 164.6 152.1C164.1 147.9 163.6 142.8 163.4 139.5C163.2 136.2 163.6 135.7 163.4 132.4C163.2 129.1 162.8 124.0 162.5 119.8C162.2 115.6 161.8 111.4 161.5 107.2C161.2 103.0 160.9 98.9 160.6 94.7C160.3 90.5 160.0 86.3 159.8 82.1C159.6 77.9 159.4 72.2 159.3 69.5C159.2 66.8 159.4 68.2 159.3 66.2C159.2 64.2 158.7 60.1 158.6 57.4C158.5 54.7 158.7 52.1 159.0 49.8C159.3 47.5 159.4 45.1 160.2 43.5C161.0 41.9 162.8 40.4 164.0 40.0Z" fill="#c0f060"/>
<path d="M53.6 72.5C55.7 71.0 57.0 68.6 58.6 66.8C60.2 65.0 61.7 62.8 63.0 61.8C64.3 60.8 65.4 60.6 66.2 61.1C67.0 61.6 67.6 63.0 68.1 64.9C68.5 66.8 68.8 69.6 68.9 72.5C69.0 75.4 68.7 78.4 68.7 82.1C68.7 85.8 68.8 90.5 68.7 94.7C68.6 98.9 68.4 103.0 68.1 107.2C67.8 111.4 67.3 116.0 66.8 119.8C66.3 123.6 65.8 126.8 65.2 129.9C64.6 133.1 64.1 135.8 63.4 138.7C62.7 141.6 61.8 144.6 61.1 147.5C60.4 150.4 59.9 153.0 59.2 155.9C58.5 158.8 57.7 162.0 56.7 164.7C55.7 167.4 54.5 170.1 53.0 172.2C51.5 174.3 49.5 175.8 47.9 177.2C46.3 178.6 44.9 179.4 43.5 180.4C42.1 181.4 40.8 183.2 39.8 182.9C38.8 182.6 38.2 179.6 37.2 178.5C36.2 177.4 35.2 177.1 33.5 176.6C31.8 176.1 29.1 175.7 27.2 175.3C25.3 174.9 23.1 175.0 22.1 174.1C21.2 173.2 21.9 172.1 21.5 169.7C21.1 167.3 20.1 162.9 19.6 159.6C19.1 156.2 18.7 152.0 18.4 149.6C18.1 147.2 17.8 147.4 17.7 145.0C17.6 142.6 17.4 138.3 17.5 134.9C17.6 131.5 17.5 128.0 18.1 124.8C18.7 121.6 19.8 118.9 20.9 116.0C22.0 113.1 23.4 110.1 24.7 107.2C25.9 104.3 26.9 101.1 28.4 98.4C29.9 95.7 31.6 93.4 33.5 90.9C35.4 88.4 37.7 85.8 39.8 83.3C41.9 80.8 43.7 77.6 46.0 75.8C48.3 74.0 51.5 74.0 53.6 72.5Z" fill="#9abb32"/>
<path d="M118.7 59.9C119.5 59.7 120.6 60.0 121.2 61.1C121.8 62.2 122.1 64.1 122.4 66.2C122.7 68.3 122.8 71.2 122.8 73.7C122.8 76.2 122.6 78.7 122.4 81.3C122.2 83.9 122.0 86.8 121.6 89.6C121.2 92.4 120.6 95.9 119.9 98.4C119.2 100.9 118.1 104.9 117.4 104.7C116.7 104.5 115.9 99.9 115.5 97.2C115.1 94.5 115.1 91.3 114.9 88.4C114.7 85.5 114.4 81.6 114.5 79.6C114.6 77.6 115.1 78.0 115.3 76.2C115.5 74.4 115.3 71.0 115.5 68.7C115.7 66.4 116.0 63.9 116.5 62.4C117.0 60.9 117.9 60.1 118.7 59.9Z" fill="#9abb32"/>
<path d="M165.3 46.0C166.2 45.9 166.8 46.4 167.8 47.3C168.8 48.1 170.2 49.3 171.5 51.1C172.8 52.9 174.6 56.1 175.9 58.0C177.2 59.9 178.4 61.2 179.5 62.7C180.6 64.2 181.5 65.8 182.5 67.3C183.5 68.8 184.7 70.7 185.6 71.8C186.5 72.9 186.9 72.6 187.8 73.8C188.7 75.0 189.8 77.5 190.8 79.1C191.8 80.7 192.9 82.0 193.9 83.6C194.9 85.2 196.0 87.0 196.9 88.5C197.8 90.0 198.3 91.1 199.1 92.7C199.8 94.3 200.8 96.3 201.4 97.9C202.0 99.5 202.2 100.9 202.5 102.5C202.8 104.1 203.1 106.0 203.3 107.7C203.6 109.5 203.5 111.0 204.0 113.0C204.5 115.0 205.0 119.6 206.4 119.8C207.8 120.0 211.2 114.2 212.4 114.2C213.6 114.2 213.4 117.4 213.7 119.8C213.9 122.2 213.9 125.7 213.9 128.6C213.9 131.5 213.7 134.7 213.4 137.4C213.2 140.1 213.0 143.2 212.4 145.0C211.8 146.8 210.7 146.9 209.9 148.3C209.1 149.7 208.0 151.9 207.4 153.3C206.8 154.7 206.8 156.7 206.1 156.5C205.4 156.3 203.8 152.9 203.0 152.1C202.2 151.2 201.6 150.8 201.1 151.4C200.6 152.0 200.2 153.7 199.8 155.9C199.4 158.1 199.1 161.6 198.6 164.7C198.1 167.8 197.3 171.8 196.7 174.7C196.1 177.6 195.5 180.0 194.8 182.3C194.1 184.6 193.4 187.1 192.3 188.6C191.2 190.1 190.2 191.1 188.5 191.1C186.8 191.1 184.2 189.9 182.2 188.6C180.2 187.3 178.4 185.6 176.6 183.5C174.8 181.4 172.9 179.1 171.5 176.0C170.1 172.9 169.0 168.7 168.1 164.7C167.2 160.7 166.5 156.3 165.9 152.1C165.3 147.9 164.8 142.8 164.6 139.5C164.3 136.2 164.6 135.7 164.4 132.4C164.2 129.1 163.7 124.0 163.4 119.8C163.1 115.6 162.8 111.4 162.5 107.2C162.2 103.0 161.9 98.9 161.7 94.7C161.5 90.5 161.2 86.3 161.1 82.1C161.0 77.9 160.7 72.8 160.9 69.5C161.1 66.2 161.9 64.8 162.1 62.4C162.3 59.9 162.0 57.2 162.1 54.8C162.2 52.4 162.2 49.4 162.7 47.9C163.2 46.4 164.5 46.1 165.3 46.0Z" fill="#9abb32"/>
<path d="M54.8 78.7C56.5 77.6 58.4 74.7 59.9 73.1C61.4 71.5 62.8 69.6 63.7 69.3C64.6 69.0 65.1 69.8 65.5 71.2C65.9 72.6 66.1 75.7 66.2 77.5C66.3 79.3 65.9 79.2 65.9 82.1C65.9 85.0 66.3 90.5 66.2 94.7C66.1 98.9 65.8 103.0 65.5 107.2C65.2 111.4 64.8 116.0 64.3 119.8C63.8 123.6 63.0 126.8 62.4 129.9C61.8 133.1 61.2 136.0 60.5 138.7C59.8 141.4 59.0 144.0 58.0 146.2C57.0 148.4 55.9 149.9 54.8 152.1C53.6 154.3 52.4 157.3 51.1 159.6C49.9 161.9 48.3 164.3 47.3 165.9C46.2 167.5 45.6 168.4 44.8 169.1C44.0 169.8 43.3 170.6 42.3 170.3C41.2 170.0 39.8 168.4 38.5 167.2C37.2 165.9 36.0 163.9 34.7 162.8C33.4 161.8 31.9 162.3 30.9 160.9C29.8 159.5 29.2 156.9 28.4 154.6C27.6 152.3 26.6 149.5 25.9 147.0C25.2 144.5 24.4 141.1 24.0 139.5C23.6 137.9 23.8 139.4 23.7 137.4C23.6 135.4 23.3 130.3 23.7 127.4C24.1 124.5 24.9 122.5 25.9 119.8C26.9 117.1 28.4 113.9 29.7 111.0C31.0 108.1 32.1 104.9 33.5 102.2C34.9 99.5 36.2 97.2 37.9 94.7C39.6 92.2 41.5 89.6 43.5 87.1C45.5 84.6 47.9 81.0 49.8 79.6C51.7 78.2 53.1 79.8 54.8 78.7Z" fill="#f5e6be"/>
<path d="M117.2 76.8C117.5 76.2 118.1 77.5 118.2 78.6C118.3 79.7 118.1 81.8 117.9 83.3C117.7 84.8 117.4 87.6 117.2 87.4C117.0 87.2 116.5 83.9 116.5 82.1C116.5 80.3 116.9 77.4 117.2 76.8Z" fill="#f5e6be"/>
<path d="M167.1 52.1C167.9 51.7 168.6 52.6 169.7 53.6C170.8 54.6 172.1 56.3 173.4 58.0C174.8 59.7 176.3 61.7 177.8 63.7C179.3 65.7 180.8 67.8 182.2 69.9C183.6 72.0 184.5 74.0 186.0 76.2C187.5 78.4 189.5 80.7 191.0 83.3C192.5 85.9 193.6 89.2 194.8 92.1C196.0 95.0 197.1 97.8 198.0 100.9C198.9 104.1 199.9 107.8 200.5 111.0C201.1 114.2 201.4 116.9 201.7 119.8C202.0 122.7 202.1 125.7 202.1 128.6C202.1 131.5 201.9 134.7 201.7 137.4C201.5 140.1 201.4 143.4 200.9 145.0C200.4 146.6 199.2 145.2 198.6 147.0C198.0 148.8 197.8 152.8 197.3 155.9C196.8 159.1 196.0 162.8 195.4 165.9C194.8 169.0 194.4 172.0 193.6 174.7C192.8 177.4 191.7 180.6 190.4 182.3C189.1 184.0 187.2 184.5 186.0 184.8C184.8 185.1 184.1 184.7 182.9 184.2C181.8 183.7 180.6 183.2 179.1 181.6C177.6 180.0 175.6 177.5 174.1 174.7C172.6 171.9 171.4 168.5 170.3 164.7C169.2 160.9 168.5 156.3 167.8 152.1C167.1 147.9 166.3 142.8 165.9 139.5C165.5 136.2 165.8 135.7 165.6 132.4C165.4 129.1 164.9 124.0 164.6 119.8C164.3 115.6 163.9 111.4 163.6 107.2C163.3 103.0 163.2 98.9 163.0 94.7C162.8 90.5 162.6 86.3 162.5 82.1C162.4 77.9 162.3 72.8 162.5 69.5C162.7 66.2 163.2 64.6 163.6 62.4C163.9 60.2 164.0 57.8 164.6 56.1C165.2 54.4 166.2 52.5 167.1 52.1Z" fill="#f5e6be"/>
<path d="M208.7 125.5C209.2 125.0 210.4 125.5 210.5 126.7C210.6 127.9 209.8 130.2 209.3 132.4C208.8 134.6 208.0 137.8 207.4 139.9C206.8 142.0 206.1 145.4 205.9 145.0C205.7 144.6 206.1 139.9 206.4 137.4C206.7 134.9 207.2 131.9 207.6 129.9C208.0 127.9 208.2 126.0 208.7 125.5Z" fill="#f5e6be"/>
<path d="M59.2 78.3C60.4 78.4 61.2 79.1 61.8 80.8C62.4 82.5 62.7 85.5 63.0 88.4C63.3 91.3 63.4 95.1 63.4 98.4C63.4 101.8 63.1 105.1 62.8 108.5C62.5 111.9 61.9 115.4 61.4 118.6C60.9 121.8 60.3 124.5 59.6 127.4C58.9 130.3 58.3 133.5 57.4 136.2C56.5 138.9 55.4 141.4 54.2 143.7C53.0 146.0 51.5 148.6 50.4 150.0C49.3 151.4 48.8 151.2 47.9 152.1C47.0 153.0 45.6 154.6 44.8 155.2C44.0 155.8 43.7 156.4 42.9 155.9C42.1 155.4 40.9 153.8 39.8 152.1C38.6 150.4 37.2 147.4 36.0 145.8C34.8 144.2 33.5 144.3 32.8 142.5C32.1 140.7 31.9 137.6 31.6 134.9C31.3 132.2 30.5 129.0 30.9 126.1C31.3 123.2 32.9 120.2 34.1 117.3C35.3 114.4 36.6 111.2 37.9 108.5C39.1 105.8 40.4 103.4 41.6 100.9C42.9 98.4 44.0 95.9 45.4 93.4C46.8 90.9 48.2 88.1 49.8 85.9C51.4 83.7 53.2 81.5 54.8 80.2C56.4 78.9 58.0 78.2 59.2 78.3Z" fill="#deb887"/>
<path d="M168.4 58.6C169.3 58.6 170.3 59.8 171.5 61.1C172.7 62.4 173.9 64.3 175.3 66.2C176.7 68.1 178.3 70.4 179.7 72.5C181.1 74.6 182.1 76.9 183.5 78.7C184.9 80.5 186.5 81.1 187.9 83.3C189.3 85.5 190.6 88.9 191.7 92.1C192.8 95.2 193.5 98.8 194.2 102.2C194.9 105.6 195.5 109.0 196.1 112.3C196.7 115.6 197.6 119.6 198.0 122.3C198.4 125.0 198.7 126.3 198.6 128.6C198.5 130.9 197.7 133.5 197.3 136.2C196.9 138.9 196.5 142.8 196.1 145.0C195.7 147.2 195.3 146.9 194.8 149.6C194.3 152.2 193.6 157.3 192.9 160.9C192.2 164.5 191.2 168.3 190.4 170.9C189.6 173.5 188.8 175.3 187.9 176.6C187.0 177.9 185.9 178.3 184.8 178.5C183.8 178.7 182.9 178.8 181.6 177.9C180.3 177.0 178.7 175.2 177.2 172.8C175.7 170.4 174.1 166.9 172.8 163.4C171.6 159.9 170.5 156.1 169.7 152.1C168.9 148.1 168.2 142.8 167.8 139.5C167.4 136.2 167.4 135.7 167.1 132.4C166.8 129.1 166.2 124.0 165.9 119.8C165.6 115.6 165.2 111.4 165.0 107.2C164.8 103.0 164.6 98.9 164.4 94.7C164.2 90.5 164.1 86.3 164.0 82.1C163.9 77.9 163.8 72.0 164.0 69.5C164.2 67.0 165.0 68.8 165.3 67.4C165.7 66.0 165.6 62.6 166.1 61.1C166.6 59.6 167.5 58.6 168.4 58.6Z" fill="#deb887"/>
<path d="M56.1 88.6C57.4 88.8 59.1 89.9 59.9 91.5C60.7 93.1 61.0 95.8 61.1 98.4C61.2 101.0 60.8 104.3 60.5 107.2C60.2 110.1 59.7 113.1 59.2 116.0C58.7 118.9 58.1 122.1 57.4 124.8C56.7 127.5 55.8 130.4 54.8 132.4C53.8 134.4 52.5 135.8 51.1 136.8C49.8 137.9 48.1 138.5 46.7 138.7C45.3 138.9 43.9 138.9 42.9 138.1C41.9 137.3 41.6 135.5 41.0 133.7C40.4 131.9 39.2 129.7 39.1 127.4C39.0 125.1 39.8 122.5 40.4 119.8C41.0 117.1 42.0 113.9 42.9 111.0C43.8 108.1 45.0 104.9 46.0 102.2C47.0 99.5 47.6 96.7 48.6 94.7C49.6 92.7 51.0 91.3 52.3 90.3C53.5 89.3 54.8 88.4 56.1 88.6Z" fill="#ffe100"/>
<path d="M169.7 64.7C170.8 64.5 171.7 66.7 172.8 68.1C174.0 69.5 175.3 71.3 176.6 73.1C177.8 74.9 178.8 77.0 180.3 78.7C181.8 80.4 184.0 81.1 185.4 83.3C186.8 85.5 187.6 88.9 188.5 92.1C189.4 95.2 190.4 98.6 191.0 102.2C191.6 105.8 192.0 109.7 192.3 113.5C192.6 117.3 193.0 121.0 192.9 124.8C192.8 128.6 192.2 132.6 191.7 136.2C191.2 139.8 190.3 142.9 189.8 146.2C189.3 149.5 189.1 152.8 188.5 155.9C187.9 159.0 186.9 162.4 186.0 164.7C185.1 167.0 184.1 169.2 182.9 169.7C181.8 170.2 180.5 169.5 179.1 167.8C177.7 166.1 176.0 162.6 174.7 159.6C173.4 156.6 172.3 152.9 171.5 149.6C170.7 146.2 170.1 142.4 169.7 139.5C169.3 136.6 169.4 135.7 169.0 132.4C168.6 129.1 167.9 124.0 167.5 119.8C167.1 115.6 166.8 111.4 166.5 107.2C166.2 103.0 166.1 98.9 165.9 94.7C165.8 90.5 165.6 86.3 165.6 82.1C165.6 77.9 165.4 72.4 166.1 69.5C166.8 66.6 168.6 64.9 169.7 64.7Z" fill="#ffe100"/>
<path d="M170.9 73.7C171.8 73.6 172.9 74.9 174.1 76.2C175.2 77.5 176.7 80.2 177.8 81.3C179.0 82.4 179.8 81.3 181.0 82.7C182.2 84.1 183.7 86.8 184.8 89.6C186.0 92.4 187.1 96.1 187.9 99.7C188.7 103.3 189.2 107.0 189.5 111.0C189.8 115.0 190.1 119.4 190.0 123.6C189.9 127.8 189.6 132.4 189.2 136.2C188.8 140.0 188.2 143.1 187.3 146.2C186.5 149.3 185.2 152.2 184.1 154.6C183.0 156.9 182.2 160.1 181.0 160.3C179.8 160.5 178.3 157.9 177.2 155.9C176.0 153.9 175.0 151.0 174.1 148.3C173.2 145.6 172.3 143.2 171.5 139.5C170.7 135.8 170.0 130.4 169.4 126.1C168.8 121.8 168.4 117.7 168.1 113.5C167.8 109.3 167.6 105.1 167.5 100.9C167.4 96.7 167.3 92.4 167.5 88.4C167.7 84.4 167.8 79.5 168.4 77.0C169.0 74.5 170.0 73.8 170.9 73.7Z" fill="#ffa500"/>
<path d="M172.8 81.4C174.2 80.8 176.2 83.0 177.8 84.6C179.4 86.2 181.0 88.4 182.2 90.9C183.4 93.4 184.3 96.4 185.0 99.7C185.7 103.0 186.2 107.2 186.6 111.0C187.0 114.8 187.3 118.5 187.3 122.3C187.3 126.1 187.0 130.1 186.6 133.7C186.2 137.3 186.0 140.9 184.8 143.7C183.7 146.4 181.3 150.1 179.7 150.2C178.1 150.3 176.5 147.1 175.3 144.5C174.2 141.9 173.6 138.4 172.8 134.9C172.0 131.4 171.3 127.6 170.7 123.6C170.1 119.6 169.7 115.2 169.4 111.0C169.1 106.8 168.9 102.2 169.0 98.4C169.1 94.6 169.1 91.2 169.7 88.4C170.3 85.6 171.5 82.0 172.8 81.4Z" fill="#ff4500"/>
<path d="M174.4 88.1C175.6 88.0 177.3 89.6 178.5 90.9C179.7 92.2 180.8 93.6 181.6 95.9C182.4 98.2 182.7 101.6 183.2 104.7C183.7 107.8 184.2 111.5 184.5 114.8C184.8 118.1 185.1 121.7 185.0 124.8C184.9 127.9 184.7 131.2 184.1 133.7C183.5 136.2 182.5 138.9 181.6 139.9C180.7 140.9 179.6 140.7 178.5 139.9C177.4 139.1 176.2 137.2 175.3 134.9C174.4 132.6 173.5 129.2 172.8 126.1C172.1 122.9 171.6 119.3 171.2 116.0C170.8 112.7 170.6 109.1 170.5 106.0C170.4 102.9 170.3 99.6 170.5 97.2C170.7 94.8 170.8 93.0 171.5 91.5C172.2 90.0 173.2 88.2 174.4 88.1Z" fill="#b22222"/>
<path d="M173.2 94.7C173.9 93.4 176.2 93.8 177.0 94.4C177.8 95.0 177.8 96.3 178.2 98.4C178.5 100.5 178.8 104.1 179.1 107.2C179.4 110.3 179.9 114.0 180.3 117.3C180.7 120.5 181.9 124.5 181.6 126.7C181.3 128.9 179.4 130.3 178.5 130.5C177.6 130.7 176.6 129.8 175.9 128.0C175.2 126.2 174.8 122.6 174.4 119.8C174.0 117.0 173.7 113.9 173.4 111.0C173.1 108.1 172.8 104.9 172.8 102.2C172.8 99.5 172.5 96.0 173.2 94.7Z" fill="#ffb6c1"/>
<path d="M92.3 181.6C92.5 182.2 92.6 185.7 92.9 187.3C93.2 188.9 93.2 190.6 94.1 191.1C95.0 191.6 97.2 190.2 98.5 190.4C99.8 190.6 100.8 191.1 101.7 192.3C102.6 193.5 103.5 195.7 104.0 197.4C104.5 199.1 104.7 200.7 104.5 202.4C104.3 204.1 103.7 206.2 102.9 207.4C102.1 208.6 100.8 209.2 99.8 209.3C98.8 209.4 97.7 209.2 96.7 208.1C95.8 206.9 94.8 204.4 94.1 202.4C93.4 200.4 93.0 198.2 92.6 196.1C92.2 194.0 91.8 191.9 91.6 189.8C91.4 187.7 91.3 184.9 91.4 183.5C91.5 182.1 92.0 181.0 92.3 181.6Z" fill="#20b2aa"/>
<path d="M99.4 197.4C99.7 197.4 100.3 198.4 100.4 199.2C100.5 200.0 100.4 201.4 100.2 202.4C100.0 203.4 99.7 204.9 99.4 204.9C99.1 204.9 98.7 203.4 98.5 202.4C98.3 201.4 98.3 200.0 98.5 199.2C98.7 198.4 99.1 197.4 99.4 197.4Z" fill="#c0f060"/>
<path d="M116.5 194.8C117.0 194.7 117.8 197.6 118.0 198.6C118.2 199.6 117.9 201.0 117.4 201.1C116.9 201.2 115.1 200.2 114.9 199.2C114.8 198.1 116.0 194.9 116.5 194.8Z" fill="#20b2aa"/>
<path d="M131.9 175.1C133.3 175.1 135.4 177.1 136.9 178.5C138.4 179.9 139.9 181.6 140.7 183.5C141.5 185.4 141.8 187.5 141.9 189.8C142.0 192.1 141.7 195.1 141.3 197.4C140.9 199.7 140.2 202.0 139.4 203.7C138.6 205.4 137.8 207.0 136.3 207.4C134.8 207.8 132.4 206.8 130.6 206.2C128.8 205.6 126.8 205.0 125.6 203.7C124.4 202.4 123.8 200.5 123.7 198.6C123.6 196.7 124.5 194.6 125.0 192.3C125.5 190.0 126.2 187.1 126.8 184.8C127.4 182.5 127.8 180.1 128.7 178.5C129.5 176.9 130.5 175.1 131.9 175.1Z" fill="#20b2aa"/>
<path d="M131.2 182.9 L132.3 191.1Z" fill="#c0f060"/>
<path d="M174.7 215.6C172.1 215.0 175.9 212.6 177.2 211.8C178.4 211.0 180.3 210.6 182.2 210.6C184.1 210.6 186.7 211.0 188.5 211.8C190.3 212.6 195.2 215.0 192.9 215.6C190.6 216.2 177.3 216.2 174.7 215.6Z" fill="#789bf2"/>
<path d="M222.6 141.9C221.2 143.4 220.6 148.2 219.6 150.9C218.6 153.7 217.5 156.2 216.6 158.4C215.7 160.6 214.8 161.8 214.1 164.3C213.4 166.8 213.1 169.8 212.6 173.3C212.1 176.8 211.5 181.5 211.1 185.2C210.7 188.9 210.2 192.2 209.9 195.7C209.7 199.2 209.6 202.7 209.6 206.1C209.6 209.5 206.8 214.3 209.9 216.0C213.0 217.7 228.0 216.0 228.0 216.0L228.0 141.9C228.0 141.9 224.0 140.4 222.6 141.9Z" fill="#3c64e6"/>
<path d="M216.6 172.5C216.1 173.1 216.2 174.6 216.0 176.0C215.8 177.4 215.4 179.0 215.2 181.0C214.9 183.0 214.7 185.8 214.5 188.0C214.3 190.2 214.2 192.2 214.2 194.0C214.1 195.8 213.4 198.2 214.2 199.0C215.0 199.8 219.0 199.0 219.0 199.0L219.0 172.5C219.0 172.5 217.1 171.9 216.6 172.5Z" fill="#0000c8"/>
<path d="M-4.3 218.7C-4.3 218.7 -2.2 218.8 -0.5 218.7C1.2 218.6 3.7 218.0 5.8 218.1C7.9 218.2 10.0 219.1 12.1 219.4C14.2 219.7 16.3 219.9 18.4 219.8C20.5 219.7 22.6 219.0 24.7 219.0C26.8 219.0 28.8 219.5 30.9 220.0C33.0 220.5 35.7 221.9 37.2 221.9C38.7 221.9 38.2 220.7 39.8 220.0C41.4 219.3 44.6 218.3 46.7 217.5C48.8 216.7 50.3 215.7 52.3 215.0C54.3 214.3 56.5 213.5 58.6 213.1C60.7 212.7 63.0 212.4 64.9 212.5C66.8 212.6 68.2 213.2 69.9 213.7C71.6 214.2 73.7 215.4 75.0 215.6C76.3 215.8 76.3 215.0 77.8 215.0C79.3 215.0 82.0 215.4 84.1 215.6C86.2 215.8 88.3 216.2 90.4 216.2C92.5 216.2 94.6 215.8 96.7 215.6C98.8 215.4 101.2 214.7 102.9 215.0C104.6 215.3 105.4 216.6 106.7 217.5C108.0 218.4 109.2 220.4 110.5 220.6C111.8 220.8 113.0 219.6 114.3 218.7C115.5 217.8 116.8 215.9 118.0 215.0C119.2 214.1 120.1 213.3 121.8 213.1C123.5 212.9 126.0 213.4 128.1 213.7C130.2 214.0 132.3 214.6 134.4 215.0C136.5 215.4 138.6 215.7 140.7 216.2C142.8 216.7 145.2 217.7 147.0 218.1C148.8 218.5 149.8 218.4 151.5 218.7C153.2 219.0 155.1 219.7 157.1 220.0C159.1 220.3 161.2 220.4 163.4 220.6C165.6 220.8 169.3 220.1 170.5 221.3C171.7 222.5 170.5 227.6 170.5 227.6L-4.3 227.6L-4.3 218.7Z" fill="#3c64e6"/>
<path d="M-4.3 221.5C-4.3 221.5 7.3 221.8 12.1 221.9C16.9 222.0 20.5 221.8 24.7 222.0C28.9 222.2 27.3 222.8 37.2 222.8C47.1 222.8 74.6 222.2 84.1 222.0C93.6 221.8 91.0 221.5 94.1 221.5C97.2 221.5 100.4 221.7 102.9 222.0C105.4 222.3 105.6 223.0 109.2 223.1C112.8 223.2 120.9 222.6 124.3 222.3C127.7 222.0 127.7 221.5 129.4 221.5C131.1 221.5 132.3 222.1 134.4 222.3C136.5 222.6 139.8 222.1 141.9 223.0C144.0 223.9 147.0 227.6 147.0 227.6L-4.3 227.6L-4.3 221.5Z" fill="#0000c8"/>
<path d="M39.5 215.3L46.3 215.3L46.3 227.6L39.5 227.6Z" fill="#fff"/>
<path d="M170.5 215.0L213.4 215.0L213.4 198.6L216.4 198.6L216.4 159.0L220.0 159.0L220.0 143.3L230.0 143.3L230.0 230.0L170.5 230.0Z" fill="#fff"/>
</g></g>
<rect x="53.5" y="71.5" width="224" height="223" fill="none" stroke="#000" stroke-width="1.3"/>
<path d="M64.17 294.50v3.4M64.17 71.50v-3.4M76.83 294.50v3.4M76.83 71.50v-3.4M102.17 294.50v3.4M102.17 71.50v-3.4M114.83 294.50v3.4M114.83 71.50v-3.4M140.17 294.50v3.4M140.17 71.50v-3.4M152.83 294.50v3.4M152.83 71.50v-3.4M178.17 294.50v3.4M178.17 71.50v-3.4M190.83 294.50v3.4M190.83 71.50v-3.4M216.17 294.50v3.4M216.17 71.50v-3.4M228.83 294.50v3.4M228.83 71.50v-3.4M254.17 294.50v3.4M254.17 71.50v-3.4M266.83 294.50v3.4M266.83 71.50v-3.4" stroke="#555" stroke-width="0.8" fill="none"/>
<path d="M89.50 294.50v6.3M89.50 71.50v-6.3M127.50 294.50v6.3M127.50 71.50v-6.3M165.50 294.50v6.3M165.50 71.50v-6.3M203.50 294.50v6.3M203.50 71.50v-6.3M241.50 294.50v6.3M241.50 71.50v-6.3M53.50 71.50h-6.3M53.50 103.36h-6.3M53.50 135.21h-6.3M53.50 198.93h-6.3M53.50 246.71h-6.3M53.50 294.50h-6.3M277.50 89.50h6.3M277.50 172.50h6.3" stroke="#000" stroke-width="1.1" fill="none"/>
<text x="80.9808" y="312.9" font-size="9.4" class="sa" textLength="17.04" lengthAdjust="spacingAndGlyphs" stroke="#000" stroke-width="0.3" xml:space="preserve">60N</text>
<text x="118.981" y="312.9" font-size="9.4" class="sa" textLength="17.04" lengthAdjust="spacingAndGlyphs" stroke="#000" stroke-width="0.3" xml:space="preserve">30N</text>
<text x="162.725" y="312.9" font-size="9.4" class="sa" textLength="5.55" lengthAdjust="spacingAndGlyphs" stroke="#000" stroke-width="0.3" xml:space="preserve">0</text>
<text x="194.981" y="312.9" font-size="9.4" class="sa" textLength="17.04" lengthAdjust="spacingAndGlyphs" stroke="#000" stroke-width="0.3" xml:space="preserve">30S</text>
<text x="232.981" y="312.9" font-size="9.4" class="sa" textLength="17.04" lengthAdjust="spacingAndGlyphs" stroke="#000" stroke-width="0.3" xml:space="preserve">60S</text>
<text x="25.85" y="75" font-size="9.4" class="sa" textLength="16.65" lengthAdjust="spacingAndGlyphs" stroke="#000" stroke-width="0.3" xml:space="preserve">300</text>
<text x="25.85" y="106.857" font-size="9.4" class="sa" textLength="16.65" lengthAdjust="spacingAndGlyphs" stroke="#000" stroke-width="0.3" xml:space="preserve">400</text>
<text x="25.85" y="138.714" font-size="9.4" class="sa" textLength="16.65" lengthAdjust="spacingAndGlyphs" stroke="#000" stroke-width="0.3" xml:space="preserve">500</text>
<text x="25.85" y="202.429" font-size="9.4" class="sa" textLength="16.65" lengthAdjust="spacingAndGlyphs" stroke="#000" stroke-width="0.3" xml:space="preserve">700</text>
<text x="25.85" y="250.214" font-size="9.4" class="sa" textLength="16.65" lengthAdjust="spacingAndGlyphs" stroke="#000" stroke-width="0.3" xml:space="preserve">850</text>
<text x="20.3" y="298" font-size="9.4" class="sa" textLength="22.2" lengthAdjust="spacingAndGlyphs" stroke="#000" stroke-width="0.3" xml:space="preserve">1000</text>
<text x="288.5" y="93" font-size="9.4" class="sa" textLength="5.55" lengthAdjust="spacingAndGlyphs" stroke="#000" stroke-width="0.3" xml:space="preserve">8</text>
<text x="288.5" y="176" font-size="9.4" class="sa" textLength="5.55" lengthAdjust="spacingAndGlyphs" stroke="#000" stroke-width="0.3" xml:space="preserve">4</text>
<text transform="translate(11.5 236.8) rotate(-90) scale(1.1 1)" font-size="16.5" class="se" textLength="98.45" lengthAdjust="spacing" xml:space="preserve">Pressure (mb)</text>
<text transform="translate(312 227.1) rotate(-90) scale(1.08 1)" font-size="16.5" class="se" textLength="83.33" lengthAdjust="spacing" xml:space="preserve">Height (km)</text>
<text transform="translate(80.3 42.1) scale(1.08 1)" font-size="16.2" class="se" textLength="158.33" lengthAdjust="spacing" xml:space="preserve">b01.01ibis (yrs 50-74)</text>
<text transform="translate(53.2 62.1) scale(1.12 1)" font-size="14.6" class="se" textLength="116.96" lengthAdjust="spacing" xml:space="preserve">In-cloud liquid WP</text>
<text transform="translate(185.1 62.1) scale(1.12 1)" font-size="14.6" class="se" textLength="82.77" lengthAdjust="spacing" xml:space="preserve">g/m~S~2~N~</text>
</g>
<g id="p2">
<clipPath id="cp_p2"><rect x="373.5" y="71.5" width="224" height="223"/></clipPath>
<g clip-path="url(#cp_p2)">
<rect x="373.5" y="71.5" width="224" height="223" fill="#3c64e6"/>
<g transform="translate(373.5 71.5)">
<path d="M-4.3 72.5C-4.3 72.5 -2.0 72.6 -0.5 72.5C1.0 72.4 2.8 72.2 4.5 71.8C6.2 71.4 7.9 71.0 9.6 69.9C11.3 68.9 12.9 67.0 14.6 65.5C16.3 64.0 17.9 62.6 19.6 61.1C21.3 59.6 23.0 58.2 24.7 56.7C26.4 55.2 28.0 53.8 29.7 52.3C31.4 50.8 33.0 49.5 34.7 47.9C36.4 46.3 38.1 44.5 39.8 42.9C41.5 41.3 43.1 40.0 44.8 38.5C46.5 37.0 48.1 35.6 49.8 34.1C51.5 32.6 53.1 31.2 54.8 29.7C56.5 28.2 58.2 26.8 59.9 25.3C61.6 23.8 63.2 22.0 64.9 20.9C66.6 19.8 68.2 18.9 69.9 18.4C71.6 17.9 72.2 17.8 75.0 17.7C77.8 17.6 82.6 17.8 86.6 17.7C90.6 17.6 95.6 17.4 99.2 17.1C102.8 16.8 106.0 17.4 108.0 15.9C110.0 14.4 109.8 10.3 111.1 8.3C112.3 6.3 113.9 4.7 115.5 3.9C117.1 3.1 118.9 3.0 120.6 3.3C122.3 3.6 123.9 4.9 125.6 5.8C127.3 6.7 128.9 8.3 130.6 8.9C132.3 9.5 134.0 9.8 135.7 9.6C137.4 9.4 138.8 8.1 140.7 7.7C142.6 7.3 145.3 6.8 147.0 7.0C148.7 7.2 149.1 8.3 150.8 8.6C152.5 8.9 155.2 8.4 157.1 8.6C159.0 8.8 160.4 9.0 162.1 9.6C163.8 10.2 165.6 10.9 167.1 12.1C168.6 13.2 169.6 14.9 170.9 16.5C172.2 18.1 173.4 20.3 174.7 21.5C176.0 22.7 177.5 22.7 178.8 23.5C180.1 24.3 181.2 25.4 182.5 26.5C183.8 27.6 185.0 29.0 186.3 30.3C187.6 31.6 188.8 32.9 190.1 34.1C191.4 35.4 192.8 36.4 193.9 37.8C195.0 39.2 195.9 40.9 196.9 42.4C197.9 43.9 198.9 45.4 199.9 46.9C200.9 48.4 201.9 49.9 202.9 51.4C203.9 52.9 204.9 54.6 205.9 56.0C206.9 57.4 207.9 58.6 209.0 59.7C210.1 60.8 211.4 61.8 212.7 62.7C213.9 63.7 215.2 64.5 216.5 65.4C217.8 66.3 219.3 67.3 220.3 68.0C221.3 68.7 221.6 68.9 222.7 69.5C223.8 70.1 227.1 71.8 227.1 71.8L227.5 227.6L-4.3 227.6L-4.3 72.5Z" fill="#789bf2"/>
<path d="M76.5 15.2C76.5 15.2 75.0 17.0 75.3 17.7C75.6 18.4 77.5 18.4 78.4 19.6C79.3 20.8 80.2 22.6 80.9 24.7C81.6 26.8 82.2 29.5 82.6 32.2C83.0 34.9 83.1 38.1 83.1 41.0C83.1 43.9 82.9 46.6 82.8 49.8C82.7 52.9 82.5 56.5 82.2 59.9C82.0 63.2 81.7 67.2 81.3 69.9C80.9 72.6 80.2 73.8 79.8 75.8C79.4 77.8 79.3 78.9 79.0 82.1C78.7 85.2 78.3 90.5 78.0 94.7C77.7 98.9 77.4 103.0 77.2 107.2C77.0 111.4 76.9 115.6 76.8 119.8C76.7 124.0 76.8 129.1 76.8 132.4C76.8 135.7 76.4 136.6 76.5 139.5C76.6 142.4 76.9 146.4 77.2 149.6C77.5 152.8 77.2 155.9 78.4 158.4C79.6 160.9 82.1 164.0 84.1 164.7C86.1 165.4 88.6 162.6 90.4 162.8C92.2 163.0 93.3 164.3 94.8 165.9C96.3 167.5 98.0 172.0 99.2 172.2C100.5 172.4 101.4 169.3 102.3 167.2C103.2 165.1 104.0 162.5 104.5 159.6C105.0 156.7 105.3 152.9 105.5 149.6C105.7 146.2 105.7 142.4 105.5 139.5C105.3 136.6 104.8 135.7 104.5 132.4C104.2 129.1 103.9 124.0 103.6 119.8C103.3 115.6 103.0 111.4 102.7 107.2C102.4 103.0 102.0 98.9 101.7 94.7C101.4 90.5 101.3 86.3 101.1 82.1C100.9 77.9 100.7 72.4 100.7 69.5C100.8 66.6 101.1 67.4 101.4 64.9C101.7 62.5 101.9 58.1 102.3 54.8C102.7 51.4 103.2 48.1 103.6 44.8C104.0 41.4 104.4 38.1 104.8 34.7C105.2 31.4 105.6 27.8 106.1 24.7C106.6 21.6 107.5 18.2 108.0 15.9C108.5 13.6 109.2 10.8 109.2 10.8L76.5 15.2Z" fill="#3c64e6"/>
<path d="M-4.3 -4.3L-4.3 64.3C-4.3 64.3 -2.0 64.5 -0.5 64.3C1.0 64.1 2.8 63.7 4.5 63.0C6.2 62.3 7.9 61.0 9.6 59.9C11.3 58.8 12.9 57.5 14.6 56.1C16.3 54.7 17.9 53.2 19.6 51.7C21.3 50.2 23.0 48.7 24.7 47.3C26.4 45.9 28.0 45.0 29.7 43.5C31.4 42.0 33.0 40.2 34.7 38.5C36.4 36.8 38.1 35.0 39.8 33.5C41.5 32.0 43.1 31.0 44.8 29.7C46.5 28.4 48.1 27.2 49.8 25.9C51.5 24.6 53.1 23.6 54.8 22.1C56.5 20.6 58.4 18.7 59.9 17.1C61.4 15.5 62.2 14.2 63.7 12.7C65.2 11.2 67.0 9.5 68.7 8.3C70.4 7.2 72.4 6.4 73.7 5.8C75.0 5.2 75.2 4.6 76.5 4.8C77.8 5.0 80.1 6.0 81.6 7.0C83.1 8.0 84.0 9.8 85.3 10.8C86.5 11.9 87.8 12.8 89.1 13.3C90.4 13.8 91.6 14.2 92.9 14.0C94.2 13.8 95.6 13.3 96.7 12.1C97.8 10.9 98.8 8.7 99.8 7.0C100.8 5.3 102.1 3.9 102.9 2.0C103.7 0.1 104.8 -4.3 104.8 -4.3L-4.3 -4.3Z" fill="#0000c8"/>
<path d="M160.9 -4.3C160.9 -4.3 161.3 -1.0 162.1 0.1C162.9 1.2 164.6 1.0 165.9 2.0C167.2 3.0 168.4 4.3 169.7 5.8C170.9 7.3 172.2 9.1 173.4 10.8C174.6 12.5 175.3 14.4 176.6 15.9C177.9 17.4 179.4 18.4 181.0 19.6C182.6 20.9 184.4 22.0 186.0 23.4C187.6 24.8 189.0 26.2 190.4 27.8C191.8 29.4 192.8 31.2 194.2 32.8C195.6 34.4 197.0 35.8 198.6 37.2C200.2 38.6 201.9 39.5 203.6 41.0C205.3 42.5 207.0 44.6 208.7 46.0C210.4 47.4 212.0 47.9 213.7 49.2C215.4 50.5 217.2 52.4 218.7 53.6C220.2 54.9 221.0 55.7 222.5 56.7C224.0 57.8 227.5 59.9 227.5 59.9L227.5 -4.3L160.9 -4.3Z" fill="#0000c8"/>
<path d="M-4.3 -4.3L-4.3 51.1C-4.3 51.1 -2.0 51.3 -0.5 51.1C1.0 50.9 2.8 50.3 4.5 49.8C6.2 49.3 8.1 48.7 9.6 47.9C11.1 47.1 11.8 46.1 13.3 44.8C14.8 43.4 16.7 41.3 18.4 39.8C20.1 38.3 21.7 37.0 23.4 36.0C25.1 35.0 26.7 34.6 28.4 33.5C30.1 32.4 31.8 30.7 33.5 29.1C35.2 27.5 36.8 25.5 38.5 24.0C40.2 22.5 41.8 21.4 43.5 20.3C45.2 19.2 47.1 18.1 48.6 17.1C50.1 16.2 51.0 15.8 52.3 14.6C53.5 13.4 54.8 11.5 56.1 10.2C57.4 8.9 58.4 8.2 59.9 7.0C61.4 5.8 63.2 4.3 64.9 3.3C66.6 2.3 68.5 2.1 69.9 0.8C71.3 -0.5 73.1 -4.3 73.1 -4.3L-4.3 -4.3Z" fill="#9370db"/>
<path d="M169.0 -4.3C169.0 -4.3 169.4 -1.4 170.3 0.1C171.2 1.6 173.3 2.8 174.7 4.5C176.1 6.2 177.0 8.4 178.5 10.2C180.0 12.0 181.8 13.8 183.5 15.2C185.2 16.6 186.8 17.1 188.5 18.4C190.2 19.7 192.1 21.2 193.6 22.8C195.1 24.4 196.0 26.2 197.3 27.8C198.7 29.4 200.2 30.8 201.7 32.2C203.2 33.6 204.5 34.7 206.1 36.0C207.7 37.3 209.5 38.5 211.2 39.8C212.9 41.0 214.5 42.4 216.2 43.5C217.9 44.6 219.3 45.8 221.2 46.7C223.1 47.7 227.5 49.2 227.5 49.2L227.5 -4.3L169.0 -4.3Z" fill="#9370db"/>
<path d="M89.1 69.3C90.0 69.3 91.5 71.2 92.3 73.3C93.1 75.4 93.5 79.0 94.1 82.1C94.7 85.2 95.2 88.8 95.7 92.1C96.2 95.4 96.5 98.8 96.9 102.2C97.3 105.6 97.6 109.0 97.9 112.3C98.2 115.6 98.6 118.9 98.9 122.3C99.2 125.7 99.6 129.0 99.8 132.4C100.0 135.8 100.2 139.6 100.2 142.5C100.2 145.4 100.1 148.4 99.9 150.0C99.8 151.6 99.7 152.0 99.3 152.3C98.9 152.6 98.2 152.7 97.3 151.9C96.4 151.1 95.2 149.1 94.1 147.5C92.9 145.9 91.7 144.2 90.4 142.5C89.2 140.8 87.8 139.3 86.6 137.4C85.4 135.5 84.1 133.6 83.4 131.1C82.7 128.6 82.5 125.4 82.2 122.3C81.9 119.2 81.8 115.6 81.8 112.3C81.8 109.0 82.0 105.6 82.2 102.2C82.4 98.8 82.7 95.4 83.1 92.1C83.5 88.8 84.1 85.2 84.7 82.1C85.3 79.0 85.9 75.4 86.6 73.3C87.3 71.2 88.1 69.3 89.1 69.3Z" fill="#0000c8"/>
<path d="M148.2 96.5C149.7 96.4 150.9 97.5 152.0 99.1C153.1 100.7 153.9 103.4 154.6 106.0C155.3 108.6 155.8 111.7 156.4 114.8C157.0 117.9 157.6 121.4 158.1 124.8C158.6 128.2 158.9 131.5 159.3 134.9C159.7 138.3 160.4 142.1 160.6 145.0C160.8 147.9 160.6 148.8 160.2 152.1C159.8 155.4 159.2 161.4 158.3 164.7C157.4 167.9 156.1 170.6 154.6 171.6C153.1 172.6 150.8 171.2 149.5 170.9C148.2 170.6 148.3 170.5 147.0 169.7C145.7 168.9 143.6 167.2 141.9 165.9C140.2 164.6 138.6 163.3 136.9 162.1C135.2 160.8 133.4 158.7 131.9 158.4C130.4 158.1 129.6 159.5 128.1 160.3C126.6 161.1 124.5 163.1 123.1 163.4C121.7 163.7 120.4 163.2 119.9 162.1C119.4 161.0 119.2 158.8 119.9 157.1C120.6 155.4 123.2 153.8 124.3 152.1C125.3 150.4 125.8 149.1 126.2 147.0C126.6 144.9 126.4 141.9 126.8 139.5C127.2 137.1 128.2 135.3 128.7 132.4C129.2 129.5 129.5 125.5 130.0 122.3C130.5 119.1 131.2 116.0 131.9 113.5C132.6 111.0 133.4 109.0 134.4 107.2C135.4 105.4 136.7 104.0 138.2 102.8C139.7 101.5 141.5 100.8 143.2 99.7C144.9 98.7 146.7 96.6 148.2 96.5Z" fill="#3c64e6"/>
<path d="M147.0 123.3C148.5 123.3 149.9 124.0 150.8 125.5C151.8 127.0 152.2 129.8 152.7 132.4C153.2 135.0 153.5 138.3 153.9 141.2C154.3 144.1 155.2 147.8 155.2 150.0C155.2 152.2 154.6 152.9 153.9 154.6C153.2 156.3 151.9 160.3 150.8 160.3C149.8 160.3 148.6 157.0 147.6 154.6C146.6 152.2 145.8 147.8 145.1 145.8C144.4 143.8 143.8 144.3 143.2 142.5C142.6 140.7 141.8 137.2 141.3 134.9C140.8 132.6 140.3 130.2 140.4 128.6C140.5 127.0 140.8 126.4 141.9 125.5C143.0 124.6 145.5 123.3 147.0 123.3Z" fill="#0000c8"/>
<path d="M-4.3 78.7C-4.3 78.7 -2.0 78.7 -0.5 78.7C1.0 78.7 2.8 78.8 4.5 78.5C6.2 78.2 7.9 77.8 9.6 76.9C11.3 76.0 12.9 74.5 14.6 73.1C16.3 71.7 17.9 70.2 19.6 68.7C21.3 67.2 23.0 65.8 24.7 64.3C26.4 62.8 28.0 61.4 29.7 59.9C31.4 58.4 33.0 57.1 34.7 55.5C36.4 53.9 38.1 52.1 39.8 50.4C41.5 48.7 43.1 47.1 44.8 45.4C46.5 43.7 48.1 42.0 49.8 40.4C51.5 38.8 53.1 37.5 54.8 36.0C56.5 34.5 58.2 32.9 59.9 31.6C61.6 30.3 63.2 29.2 64.9 28.4C66.6 27.6 68.4 27.1 69.9 26.9C71.4 26.7 72.7 26.7 73.7 27.2C74.8 27.7 75.5 28.4 76.2 29.7C76.9 30.9 77.7 32.6 78.1 34.7C78.5 36.8 78.5 39.4 78.7 42.3C78.9 45.2 79.0 48.1 79.0 52.3C79.0 56.5 78.9 64.1 78.4 67.4C77.9 70.7 76.7 69.5 76.2 72.0C75.8 74.5 75.8 78.3 75.7 82.1C75.6 85.9 75.7 90.5 75.6 94.7C75.5 98.9 75.4 103.0 75.2 107.2C75.0 111.4 74.7 116.0 74.3 119.8C73.9 123.6 73.3 126.6 72.8 129.9C72.3 133.2 71.4 136.2 71.2 139.9C71.0 143.6 71.4 148.0 71.4 152.1C71.4 156.2 71.1 160.5 71.2 164.7C71.3 168.9 71.5 173.4 71.8 177.2C72.1 181.0 72.6 184.2 73.1 187.3C73.6 190.5 75.2 193.7 74.7 196.1C74.2 198.5 71.3 199.9 69.9 201.8C68.5 203.7 67.5 205.9 66.2 207.4C65.0 208.9 63.9 209.7 62.4 210.6C60.9 211.5 59.1 212.5 57.4 213.1C55.7 213.7 54.0 214.0 52.3 214.3C50.6 214.6 49.0 214.9 47.3 215.0C45.6 215.1 43.8 214.6 42.3 215.0C40.8 215.4 39.5 216.7 38.5 217.5C37.5 218.3 36.6 219.9 36.0 220.0C35.4 220.1 35.3 218.9 34.7 218.1C34.1 217.3 33.2 215.8 32.2 215.0C31.2 214.2 29.9 213.7 28.4 213.5C26.9 213.3 25.1 213.4 23.4 213.7C21.7 213.9 19.6 214.4 18.4 215.0C17.1 215.6 16.6 216.4 15.9 217.5C15.2 218.6 15.1 220.7 14.0 221.3C12.9 221.9 11.2 221.2 9.6 221.0C8.0 220.8 6.2 220.3 4.5 220.0C2.8 219.7 1.0 219.5 -0.5 219.4C-2.0 219.3 -4.3 219.4 -4.3 219.4L-4.3 78.7Z" fill="#b0e0e6"/>
<path d="M115.5 141.0C114.8 140.7 114.9 140.3 114.3 138.7C113.7 137.0 112.6 134.2 111.8 131.1C111.0 127.9 110.0 123.3 109.2 119.8C108.5 116.2 107.8 113.1 107.3 109.8C106.8 106.5 106.4 103.1 106.1 99.7C105.8 96.3 105.7 92.9 105.5 89.6C105.3 86.2 105.2 82.9 105.2 79.6C105.2 76.2 105.3 72.0 105.5 69.5C105.7 67.0 105.8 67.4 106.1 64.9C106.3 62.5 106.6 58.1 107.0 54.8C107.4 51.4 108.0 48.1 108.6 44.8C109.2 41.4 109.9 38.1 110.5 34.7C111.1 31.4 111.7 27.6 112.4 24.7C113.1 21.8 114.0 19.0 114.9 17.1C115.8 15.2 116.8 13.8 118.0 13.3C119.2 12.8 120.6 13.3 121.8 14.0C123.0 14.7 124.0 16.2 125.0 17.7C126.0 19.2 126.9 21.3 128.1 22.8C129.2 24.3 130.6 25.9 131.9 26.5C133.2 27.1 134.4 27.0 135.7 26.5C136.9 26.0 138.2 24.5 139.4 23.4C140.7 22.2 141.9 20.4 143.2 19.6C144.5 18.8 145.7 18.4 147.0 18.4C148.3 18.4 149.1 19.6 150.8 19.6C152.5 19.6 155.2 18.8 157.1 18.4C159.0 18.0 160.5 17.1 162.1 17.1C163.7 17.1 165.1 17.6 166.5 18.4C167.9 19.2 169.0 20.8 170.3 22.1C171.6 23.5 173.1 25.2 174.1 26.5C175.1 27.8 175.5 28.8 176.5 29.9C177.5 31.0 179.1 32.1 180.3 33.3C181.6 34.5 182.8 35.8 184.0 37.1C185.2 38.4 186.5 39.6 187.8 40.9C189.1 42.1 190.5 43.2 191.6 44.6C192.7 46.0 193.7 47.7 194.6 49.2C195.5 50.7 196.2 52.2 196.9 53.7C197.7 55.2 198.2 56.7 199.1 58.2C200.0 59.7 201.2 61.3 202.2 62.7C203.2 64.1 204.2 65.4 205.2 66.5C206.2 67.6 207.3 68.7 208.2 69.5C209.1 70.3 209.5 70.8 210.5 71.5C211.5 72.2 212.9 72.9 214.2 73.8C215.4 74.7 217.0 75.7 218.0 76.8C219.0 77.9 219.7 79.3 220.3 80.6C220.9 81.8 221.4 83.0 221.8 84.3C222.2 85.5 221.8 87.0 222.7 88.1C223.6 89.2 227.1 91.1 227.1 91.1L227.5 217.5C227.5 217.5 221.8 215.6 212.4 215.6C203.0 215.6 179.1 217.1 170.9 217.5C162.7 217.9 166.6 218.2 163.4 218.1C160.2 218.0 155.4 217.2 152.0 216.9C148.6 216.6 145.7 216.6 143.2 216.2C140.7 215.8 139.0 214.9 136.9 214.3C134.8 213.7 132.7 213.2 130.6 212.5C128.5 211.8 126.2 210.6 124.3 209.9C122.4 209.2 120.8 207.9 119.3 208.1C117.8 208.3 116.8 210.4 115.5 211.2C114.2 212.0 113.3 212.9 111.8 213.1C110.3 213.3 108.6 212.5 106.7 212.5C104.8 212.5 102.5 213.1 100.4 213.1C98.3 213.1 96.2 212.9 94.1 212.5C92.0 212.1 90.0 211.3 87.9 210.6C85.8 209.9 83.5 209.2 81.6 208.1C79.7 206.9 77.8 205.1 76.5 203.7C75.2 202.3 73.9 201.4 73.7 199.9C73.5 198.4 75.0 196.5 75.6 194.8C76.2 193.1 76.4 191.7 77.2 189.8C78.0 187.9 79.3 184.2 80.3 183.5C81.3 182.8 82.6 185.6 83.4 185.4C84.2 185.2 84.3 183.9 85.3 182.3C86.2 180.7 87.9 177.6 89.1 176.0C90.3 174.4 91.3 172.6 92.3 172.8C93.2 173.0 93.9 175.6 94.8 177.2C95.7 178.8 96.8 181.2 97.9 182.3C99.1 183.4 100.7 184.1 101.7 183.5C102.8 182.9 103.4 180.0 104.2 178.5C105.0 177.0 105.9 174.7 106.7 174.7C107.5 174.7 108.4 177.3 109.2 178.5C110.0 179.7 111.0 181.6 111.8 181.6C112.6 181.6 113.5 179.6 114.3 178.5C115.1 177.4 115.8 174.9 116.5 175.3C117.2 175.7 117.9 179.0 118.7 181.0C119.5 183.0 120.3 187.3 121.2 187.3C122.1 187.3 123.4 183.3 124.3 181.0C125.2 178.7 125.7 175.6 126.8 173.5C127.9 171.4 129.5 168.8 131.2 168.4C132.9 168.0 135.1 169.9 136.9 170.9C138.7 171.9 140.2 173.4 141.9 174.7C143.6 176.0 145.4 177.4 147.0 178.5C148.6 179.6 149.9 180.2 151.5 181.0C153.1 181.8 155.1 184.1 156.4 183.5C157.8 182.9 158.7 180.3 159.6 177.2C160.5 174.1 161.5 168.9 162.1 164.7C162.7 160.5 163.2 156.3 163.4 152.1C163.6 147.9 163.7 142.8 163.4 139.5C163.2 136.2 162.4 135.7 161.9 132.4C161.4 129.1 161.0 124.0 160.6 119.8C160.2 115.6 159.7 111.4 159.3 107.2C158.9 103.0 158.5 98.9 158.1 94.7C157.7 90.5 157.8 84.3 157.1 82.1C156.4 79.9 154.8 82.3 153.9 81.3C153.1 80.3 152.9 77.5 152.0 76.2C151.1 74.9 150.0 74.0 148.3 73.7C146.6 73.4 143.8 73.7 141.9 74.3C140.0 74.9 138.4 76.0 136.9 77.5C135.4 79.0 134.1 81.1 133.1 83.3C132.1 85.5 131.8 88.2 131.2 90.9C130.6 93.6 130.0 96.6 129.4 99.7C128.8 102.8 128.1 106.5 127.5 109.8C126.9 113.1 126.2 116.7 125.6 119.8C125.0 122.9 124.4 125.7 123.7 128.6C123.0 131.5 122.0 135.4 121.2 137.4C120.4 139.4 119.7 140.0 118.7 140.6C117.8 141.2 116.2 141.3 115.5 141.0Z" fill="#b0e0e6"/>
<path d="M-4.3 82.5C-4.3 82.5 -2.4 82.6 -0.5 82.5C1.4 82.4 4.9 82.3 7.0 81.9C9.1 81.5 10.4 81.0 12.1 80.0C13.8 79.0 15.4 77.6 17.1 76.2C18.8 74.8 20.4 73.3 22.1 71.8C23.8 70.3 25.5 69.0 27.2 67.4C28.9 65.8 30.5 64.0 32.2 62.4C33.9 60.8 35.5 59.6 37.2 58.0C38.9 56.4 40.6 54.7 42.3 53.0C44.0 51.3 45.6 49.6 47.3 47.9C49.0 46.2 50.6 44.4 52.3 42.9C54.0 41.4 55.7 40.1 57.4 39.1C59.1 38.1 60.7 37.2 62.4 36.6C64.1 36.0 65.9 35.7 67.4 35.7C68.9 35.7 70.2 35.9 71.2 36.6C72.2 37.3 73.1 38.2 73.7 39.8C74.3 41.4 74.8 43.5 75.0 46.0C75.2 48.5 75.1 51.6 75.0 54.8C74.9 57.9 74.8 61.2 74.6 64.9C74.4 68.6 74.1 72.0 74.0 77.0C73.9 82.0 74.1 89.7 74.0 94.7C73.9 99.7 73.8 103.0 73.5 107.2C73.2 111.4 72.7 116.0 72.2 119.8C71.7 123.6 71.2 126.6 70.7 129.9C70.2 133.2 69.6 136.8 69.1 139.9C68.5 143.0 67.9 146.9 67.4 148.7C66.9 150.5 66.4 148.6 65.9 150.8C65.4 153.0 64.8 158.3 64.3 162.1C63.8 165.9 63.3 169.7 63.0 173.5C62.7 177.3 62.6 181.2 62.4 184.8C62.2 188.4 62.0 191.9 61.8 194.8C61.5 197.7 61.4 200.4 60.9 202.4C60.4 204.4 59.6 205.8 58.6 206.8C57.6 207.8 56.3 208.1 54.8 208.4C53.3 208.7 51.5 208.6 49.8 208.7C48.1 208.8 46.5 208.6 44.8 208.7C43.1 208.8 41.3 209.6 39.8 209.3C38.3 209.0 37.3 207.6 36.0 206.8C34.7 206.0 33.7 204.7 32.2 204.3C30.7 203.9 28.9 204.0 27.2 204.3C25.5 204.6 23.8 205.4 22.1 206.2C20.4 207.0 18.5 208.2 17.1 209.3C15.8 210.4 15.1 212.3 14.0 212.5C12.9 212.7 12.0 211.0 10.8 210.6C9.6 210.2 8.2 209.9 7.0 209.9C5.8 209.9 4.5 210.4 3.3 210.6C2.0 210.8 0.8 211.1 -0.5 211.2C-1.8 211.3 -4.3 211.2 -4.3 211.2L-4.3 82.5Z" fill="#20b2aa"/>
<path d="M119.9 27.4C121.0 27.0 122.1 28.1 123.1 29.7C124.0 31.3 124.9 34.5 125.6 37.2C126.3 39.9 126.9 43.1 127.5 46.0C128.1 48.9 128.7 51.8 129.1 54.8C129.5 57.8 129.9 60.8 130.0 63.7C130.1 66.6 129.6 69.3 129.4 72.0C129.2 74.7 128.9 76.7 128.7 79.6C128.4 82.5 128.2 86.2 127.9 89.6C127.6 92.9 127.1 96.3 126.6 99.7C126.1 103.1 125.7 106.5 125.0 109.8C124.3 113.1 123.1 117.2 122.4 119.8C121.7 122.4 121.4 124.2 120.6 125.5C119.8 126.8 118.6 128.3 117.4 127.6C116.2 126.9 114.7 124.1 113.6 121.1C112.5 118.1 111.5 113.4 110.7 109.8C109.9 106.2 109.5 103.1 109.0 99.7C108.5 96.3 108.2 92.9 108.0 89.6C107.8 86.2 107.7 82.9 107.7 79.6C107.7 76.2 107.8 71.7 108.0 69.5C108.2 67.3 108.3 68.2 108.6 66.2C108.9 64.2 109.4 60.3 109.9 57.4C110.4 54.5 111.1 51.5 111.8 48.6C112.5 45.7 113.5 42.5 114.3 39.8C115.1 37.1 115.9 34.3 116.8 32.2C117.7 30.1 118.9 27.8 119.9 27.4Z" fill="#20b2aa"/>
<path d="M164.0 23.4C165.5 23.2 166.9 24.2 168.4 25.3C169.9 26.4 171.5 28.0 172.8 29.7C174.2 31.4 175.2 34.1 176.5 35.6C177.8 37.1 179.1 37.5 180.3 38.6C181.6 39.7 182.8 41.1 184.0 42.4C185.2 43.6 186.7 44.9 187.8 46.1C188.9 47.4 189.9 48.5 190.8 49.9C191.7 51.3 192.3 52.9 193.1 54.4C193.9 55.9 194.7 57.5 195.4 59.0C196.2 60.5 196.8 62.0 197.6 63.5C198.3 65.0 199.1 66.6 199.9 68.0C200.7 69.4 201.2 70.3 202.2 71.8C203.2 73.3 204.8 75.3 205.9 76.8C207.0 78.3 208.0 79.5 209.0 80.6C210.0 81.7 210.9 82.6 212.0 83.6C213.1 84.6 214.6 85.6 215.7 86.6C216.8 87.6 217.9 88.5 218.8 89.6C219.7 90.7 220.4 91.9 221.0 93.4C221.6 94.9 221.9 97.3 222.2 98.7C222.5 100.1 221.9 100.7 222.7 101.7C223.5 102.7 227.1 104.7 227.1 104.7L227.5 199.9C227.5 199.9 218.8 198.6 216.4 198.6C214.0 198.6 213.8 198.6 213.1 199.9C212.4 201.2 213.0 204.6 212.4 206.2C211.8 207.8 210.1 209.9 209.3 209.3C208.5 208.7 208.0 204.2 207.4 202.4C206.8 200.6 206.1 198.4 205.5 198.6C204.9 198.8 204.3 202.5 203.6 203.7C202.9 204.8 202.1 205.4 201.1 205.5C200.1 205.6 198.8 204.4 197.3 204.3C195.8 204.2 194.0 205.0 192.3 204.9C190.6 204.8 189.2 204.2 187.3 203.7C185.4 203.2 182.9 201.8 181.0 201.8C179.1 201.8 177.5 202.5 175.9 203.7C174.3 204.8 172.7 207.0 171.5 208.7C170.3 210.4 170.2 212.4 169.0 213.7C167.8 214.9 166.2 216.1 164.6 216.2C163.0 216.3 160.8 215.8 159.6 214.3C158.4 212.8 157.8 209.8 157.7 207.4C157.6 205.0 158.3 202.4 159.0 199.9C159.7 197.4 160.9 195.0 162.1 192.3C163.2 189.6 164.9 186.4 165.9 183.5C166.9 180.6 167.7 177.8 167.8 174.7C167.9 171.6 166.9 168.5 166.5 164.7C166.1 160.9 165.6 156.3 165.3 152.1C165.0 147.9 165.0 142.8 164.6 139.5C164.2 136.2 163.5 135.7 163.1 132.4C162.7 129.1 162.3 124.0 161.9 119.8C161.5 115.6 161.2 111.4 160.9 107.2C160.6 103.0 160.3 98.9 160.0 94.7C159.7 90.5 159.5 86.3 159.3 82.1C159.1 77.9 159.3 73.2 159.0 69.5C158.7 65.8 158.1 62.8 157.7 59.9C157.3 57.0 157.1 54.0 156.4 52.3C155.7 50.6 154.7 50.2 153.3 49.8C152.0 49.4 149.6 50.3 148.3 49.8C147.0 49.3 145.5 48.0 145.5 47.0C145.5 46.0 147.2 44.9 148.3 43.5C149.4 42.1 150.8 40.4 152.0 38.5C153.2 36.6 154.5 34.2 155.8 32.2C157.1 30.2 158.2 28.0 159.6 26.5C161.0 25.0 162.5 23.6 164.0 23.4Z" fill="#20b2aa"/>
<path d="M-4.3 95.3C-4.3 95.3 -2.2 95.4 -0.5 95.3C1.2 95.2 3.9 95.1 5.8 94.7C7.7 94.3 9.2 93.8 10.8 92.8C12.4 91.8 13.6 90.6 15.2 89.0C16.8 87.4 18.5 85.3 20.3 83.3C22.1 81.3 23.9 79.0 25.9 77.0C27.9 75.0 30.3 73.5 32.2 71.4C34.1 69.3 35.5 66.3 37.2 64.3C38.9 62.3 40.6 60.9 42.3 59.2C44.0 57.5 45.6 55.9 47.3 54.2C49.0 52.5 50.6 50.7 52.3 49.2C54.0 47.7 55.7 46.4 57.4 45.4C59.1 44.4 60.9 43.7 62.4 43.3C63.9 42.9 65.0 42.8 66.2 42.9C67.4 43.0 68.5 43.4 69.3 44.2C70.1 45.0 70.7 46.1 71.2 47.9C71.7 49.7 72.0 52.0 72.2 54.8C72.5 57.6 72.7 61.6 72.7 64.9C72.7 68.2 72.2 71.6 72.2 74.5C72.2 77.4 72.5 78.7 72.5 82.1C72.5 85.5 72.6 90.5 72.5 94.7C72.4 98.9 72.1 103.0 71.8 107.2C71.5 111.4 71.0 116.0 70.6 119.8C70.1 123.6 69.6 126.6 69.1 129.9C68.6 133.2 68.0 136.8 67.4 139.9C66.8 143.0 66.3 145.4 65.5 148.7C64.7 152.0 63.2 155.9 62.4 159.6C61.6 163.3 61.4 167.1 60.9 170.9C60.4 174.7 59.9 178.7 59.6 182.3C59.3 185.9 59.2 189.6 58.9 192.3C58.6 195.0 58.5 197.0 58.0 198.6C57.5 200.2 57.1 201.1 56.1 201.8C55.1 202.5 53.8 202.7 52.3 203.0C50.8 203.3 49.0 203.5 47.3 203.7C45.6 203.9 43.8 204.3 42.3 204.3C40.8 204.3 39.5 204.4 38.5 203.7C37.5 203.0 37.0 201.2 36.0 199.9C35.0 198.6 34.1 196.7 32.8 196.1C31.5 195.5 30.0 195.8 28.4 196.1C26.8 196.4 25.1 197.2 23.4 198.0C21.7 198.8 20.0 199.9 18.4 201.1C16.8 202.2 15.3 204.7 14.0 204.9C12.7 205.1 12.0 202.9 10.8 202.4C9.6 201.9 8.2 201.7 7.0 201.8C5.8 201.9 4.5 202.4 3.3 203.0C2.0 203.6 0.8 205.1 -0.5 205.5C-1.8 205.9 -4.3 205.5 -4.3 205.5L-4.3 95.3Z" fill="#c0f060"/>
<path d="M119.3 43.5C120.2 43.1 121.0 44.5 121.8 46.0C122.6 47.5 123.6 50.0 124.3 52.3C125.0 54.6 125.7 57.2 126.2 59.9C126.7 62.6 126.9 65.8 127.1 68.7C127.2 71.6 127.1 75.7 127.1 77.5C127.0 79.3 126.9 77.6 126.8 79.6C126.7 81.6 126.5 86.2 126.2 89.6C125.9 92.9 125.6 96.3 125.0 99.7C124.4 103.1 123.5 107.0 122.8 109.8C122.1 112.6 121.5 115.0 120.6 116.7C119.7 118.4 118.7 121.0 117.4 119.8C116.1 118.6 114.0 113.1 113.0 109.8C112.0 106.5 111.6 103.1 111.1 99.7C110.6 96.3 110.3 92.9 110.2 89.6C110.1 86.2 110.1 82.2 110.2 79.6C110.3 76.9 110.4 76.2 110.7 73.7C111.0 71.2 111.3 67.8 111.8 64.9C112.3 62.0 112.9 58.8 113.6 56.1C114.3 53.4 115.2 50.7 116.2 48.6C117.2 46.5 118.4 43.9 119.3 43.5Z" fill="#c0f060"/>
<path d="M165.9 29.1C167.2 29.2 168.3 30.4 169.7 31.6C171.1 32.9 172.6 34.9 174.1 36.6C175.6 38.3 177.0 39.9 178.5 41.6C180.0 43.3 181.4 45.0 182.9 46.7C184.4 48.4 185.8 49.9 187.3 51.7C188.8 53.5 190.2 55.4 191.7 57.4C193.2 59.4 194.8 61.6 196.1 63.7C197.4 65.8 198.7 67.8 199.8 69.9C201.0 72.0 202.2 74.4 203.0 76.2C203.8 78.0 204.2 78.8 204.9 80.8C205.6 82.8 206.6 86.1 207.4 88.4C208.2 90.7 208.9 93.0 209.9 94.7C210.9 96.4 212.4 97.4 213.7 98.4C215.0 99.4 216.4 99.6 217.5 100.9C218.6 102.2 219.3 103.9 220.0 106.0C220.7 108.1 221.1 110.8 221.5 113.5C221.9 116.2 222.2 120.0 222.5 122.3C222.8 124.6 222.3 126.4 223.1 127.4C223.9 128.5 227.5 128.6 227.5 128.6L227.5 152.1C227.5 152.1 221.6 151.0 220.0 152.1C218.4 153.2 218.9 155.9 218.1 158.4C217.2 160.9 215.8 164.7 214.9 167.2C214.0 169.7 213.3 172.2 212.4 173.5C211.5 174.8 210.1 173.2 209.3 174.7C208.5 176.2 208.1 179.8 207.4 182.3C206.7 184.8 205.7 187.9 204.9 189.8C204.1 191.7 203.7 192.7 202.4 193.6C201.1 194.5 199.2 195.0 197.3 195.5C195.4 196.0 193.1 196.8 191.0 196.7C188.9 196.6 186.9 195.5 184.8 194.8C182.7 194.1 180.3 193.1 178.5 192.3C176.7 191.5 174.9 191.3 174.1 189.8C173.2 188.3 174.0 186.4 173.4 183.5C172.8 180.6 171.2 176.0 170.3 172.2C169.4 168.4 168.7 164.7 168.1 160.9C167.5 157.1 166.9 153.2 166.5 149.6C166.1 146.0 165.9 142.4 165.6 139.5C165.2 136.6 164.8 135.7 164.4 132.4C164.0 129.1 163.5 124.0 163.1 119.8C162.7 115.6 162.4 111.4 162.1 107.2C161.8 103.0 161.6 98.9 161.4 94.7C161.2 90.5 161.0 86.3 160.9 82.1C160.8 77.9 161.2 72.2 160.9 69.5C160.6 66.8 159.5 68.2 159.0 66.2C158.5 64.2 158.4 60.1 158.1 57.4C157.8 54.7 157.2 52.3 157.1 49.8C157.0 47.3 157.3 44.6 157.7 42.3C158.1 40.0 158.9 37.9 159.6 36.0C160.3 34.1 161.0 32.0 162.1 30.9C163.2 29.8 164.6 29.0 165.9 29.1Z" fill="#c0f060"/>
<path d="M-4.3 103.5C-4.3 103.5 -2.2 103.5 -0.5 103.5C1.2 103.5 3.7 103.6 5.8 103.2C7.9 102.8 10.4 101.9 12.1 100.9C13.8 99.9 14.4 98.9 15.9 97.2C17.4 95.5 19.1 93.2 20.9 90.9C22.7 88.6 24.5 85.7 26.5 83.3C28.5 80.9 30.6 78.9 32.8 76.4C35.0 73.9 37.8 70.4 39.8 68.1C41.8 65.8 43.1 64.2 44.8 62.4C46.5 60.6 48.1 59.0 49.8 57.4C51.5 55.8 53.1 54.2 54.8 53.0C56.5 51.8 58.3 50.9 59.9 50.4C61.5 49.9 63.0 49.6 64.3 49.8C65.5 50.0 66.6 50.7 67.4 51.7C68.2 52.8 68.5 53.9 68.9 56.1C69.3 58.3 69.5 61.8 69.7 64.9C69.9 68.1 70.0 72.1 70.2 75.0C70.4 77.9 70.8 78.8 70.9 82.1C71.0 85.4 71.0 90.5 70.9 94.7C70.8 98.9 70.5 103.0 70.2 107.2C69.9 111.4 69.4 116.0 68.9 119.8C68.4 123.6 68.0 126.6 67.4 129.9C66.8 133.2 66.1 136.8 65.5 139.9C64.9 143.0 64.3 146.9 63.7 148.7C63.1 150.5 62.4 148.8 61.8 150.8C61.2 152.8 60.5 157.6 59.9 160.9C59.3 164.2 58.5 167.8 58.0 170.9C57.5 174.1 57.1 177.1 56.7 179.8C56.3 182.5 56.0 185.3 55.5 187.3C55.0 189.3 54.6 190.9 53.6 191.7C52.6 192.5 51.3 192.1 49.8 192.3C48.3 192.5 46.4 192.7 44.8 193.0C43.2 193.3 41.4 194.3 40.4 194.2C39.4 194.1 39.1 193.5 38.5 192.3C37.9 191.2 37.2 188.7 36.6 187.3C36.0 186.0 35.9 184.5 34.7 184.2C33.6 183.9 31.4 184.9 29.7 185.4C28.0 185.9 26.4 186.6 24.7 187.3C23.0 188.0 21.3 188.8 19.6 189.8C17.9 190.9 16.1 193.2 14.6 193.6C13.1 194.0 12.1 192.8 10.8 192.3C9.5 191.8 8.2 190.4 7.0 190.4C5.8 190.4 4.5 191.5 3.3 192.3C2.0 193.2 0.8 195.0 -0.5 195.5C-1.8 196.0 -4.3 195.5 -4.3 195.5L-4.3 103.5Z" fill="#9abb32"/>
<path d="M119.0 53.6C119.7 53.2 120.5 53.8 121.2 54.8C121.9 55.8 122.6 57.8 123.1 59.9C123.6 62.0 123.9 64.9 124.1 67.4C124.3 69.9 124.1 73.0 124.3 75.0C124.5 77.0 125.0 77.4 125.0 79.6C125.0 81.8 124.9 85.5 124.6 88.4C124.3 91.3 123.9 94.3 123.3 97.2C122.7 100.1 122.1 103.6 121.2 106.0C120.3 108.4 118.8 111.6 117.8 111.6C116.8 111.6 115.7 108.4 114.9 106.0C114.1 103.6 113.3 100.1 112.8 97.2C112.3 94.3 112.1 91.3 112.0 88.4C111.9 85.5 112.1 82.5 112.4 79.6C112.7 76.7 113.6 73.8 114.0 71.2C114.4 68.6 114.4 66.0 114.9 63.7C115.4 61.4 116.1 59.1 116.8 57.4C117.5 55.7 118.3 54.0 119.0 53.6Z" fill="#9abb32"/>
<path d="M166.5 34.7C167.7 34.7 168.9 35.9 170.3 37.2C171.7 38.5 173.2 40.6 174.7 42.3C176.2 44.0 177.6 45.6 179.1 47.3C180.6 49.0 182.0 50.5 183.5 52.3C185.0 54.1 186.4 56.0 187.9 58.0C189.4 60.0 190.9 62.2 192.3 64.3C193.7 66.4 194.9 68.5 196.1 70.6C197.2 72.7 198.3 74.8 199.2 76.9C200.1 79.0 201.0 81.0 201.7 83.3C202.4 85.6 203.1 88.2 203.6 90.9C204.1 93.6 204.5 97.2 204.9 99.7C205.3 102.2 205.1 104.3 206.1 106.0C207.1 107.7 209.5 108.8 211.2 109.8C212.9 110.8 214.9 111.0 216.2 112.3C217.4 113.5 218.1 115.4 218.7 117.3C219.3 119.2 219.7 121.7 220.0 123.6C220.3 125.5 219.3 127.8 220.6 128.6C221.8 129.4 227.5 128.6 227.5 128.6L227.5 139.5C227.5 139.5 221.5 138.2 220.0 139.5C218.5 140.8 219.3 144.3 218.7 147.0C218.1 149.7 217.1 155.1 216.2 155.9C215.3 156.8 213.9 151.7 213.1 152.1C212.3 152.5 211.9 156.1 211.2 158.4C210.5 160.7 209.4 163.2 208.7 165.9C208.0 168.6 207.7 172.0 206.8 174.7C206.0 177.4 205.0 180.2 203.6 182.3C202.2 184.4 200.3 186.1 198.6 187.3C196.9 188.6 195.3 189.3 193.6 189.8C191.9 190.3 190.2 190.6 188.5 190.4C186.8 190.2 185.4 189.9 183.5 188.6C181.6 187.2 179.1 185.0 177.2 182.3C175.3 179.6 173.5 175.8 172.2 172.2C170.9 168.6 170.2 164.7 169.4 160.9C168.6 157.1 168.0 153.2 167.5 149.6C167.0 146.0 166.8 142.4 166.5 139.5C166.2 136.6 165.9 135.7 165.6 132.4C165.2 129.1 164.8 124.0 164.4 119.8C164.0 115.6 163.7 111.4 163.4 107.2C163.1 103.0 162.9 98.9 162.7 94.7C162.5 90.5 162.4 86.3 162.4 82.1C162.4 77.9 162.7 72.2 162.5 69.5C162.3 66.8 161.8 68.2 161.5 66.2C161.2 64.2 161.1 60.1 160.9 57.4C160.8 54.7 160.5 52.1 160.6 49.8C160.7 47.5 161.0 45.6 161.5 43.5C162.0 41.4 162.6 38.7 163.4 37.2C164.2 35.7 165.3 34.7 166.5 34.7Z" fill="#9abb32"/>
<path d="M-4.3 111.6C-4.3 111.6 -2.4 111.6 -0.5 111.6C1.4 111.6 4.7 111.8 7.0 111.6C9.3 111.4 11.6 111.2 13.3 110.4C15.0 109.6 15.7 108.3 17.1 106.6C18.5 104.9 19.9 102.5 21.5 100.3C23.1 98.1 24.7 95.8 26.5 93.4C28.3 91.0 30.2 88.3 32.2 85.9C34.2 83.5 36.4 81.0 38.5 78.9C40.6 76.8 42.7 76.0 44.8 73.3C46.9 70.6 49.2 65.3 51.1 63.0C53.0 60.6 54.4 60.2 56.1 59.2C57.8 58.2 59.6 57.1 61.1 56.7C62.6 56.3 63.9 56.2 64.9 56.7C65.9 57.2 66.7 58.1 67.2 59.9C67.7 61.7 67.9 64.5 68.1 67.4C68.3 70.3 68.2 75.0 68.3 77.5C68.4 80.0 68.7 80.3 68.9 82.1C69.1 83.9 69.3 85.3 69.3 88.4C69.3 91.5 69.3 96.7 69.1 100.9C68.9 105.1 68.5 109.3 68.1 113.5C67.6 117.7 67.0 122.3 66.4 126.1C65.8 129.9 65.4 133.0 64.7 136.2C64.0 139.3 63.1 143.0 62.4 145.0C61.7 147.0 61.1 146.5 60.5 148.3C59.9 150.1 59.2 153.4 58.6 155.9C58.0 158.4 57.3 161.1 56.7 163.4C56.1 165.7 55.5 167.8 54.8 169.7C54.1 171.6 53.3 173.3 52.3 174.7C51.3 176.1 49.9 177.1 48.6 177.9C47.4 178.8 46.1 179.4 44.8 179.8C43.5 180.2 42.1 180.6 41.0 180.4C39.9 180.2 38.7 179.4 37.9 178.5C37.1 177.6 37.0 175.0 36.0 174.7C35.0 174.4 33.7 176.0 32.2 176.6C30.7 177.2 29.1 177.8 27.2 178.5C25.3 179.2 22.6 180.3 20.9 181.0C19.2 181.7 18.2 183.1 17.1 182.9C16.0 182.7 15.1 180.9 14.0 179.8C12.9 178.8 12.0 176.6 10.8 176.6C9.6 176.6 8.2 178.7 7.0 179.8C5.8 181.0 4.5 182.2 3.3 183.5C2.0 184.8 0.8 187.2 -0.5 187.9C-1.8 188.6 -4.3 187.9 -4.3 187.9L-4.3 111.6Z" fill="#f5e6be"/>
<path d="M119.0 60.5C119.6 60.2 120.3 60.6 120.8 61.8C121.3 62.9 121.8 65.2 122.1 67.4C122.4 69.6 122.3 73.0 122.4 75.0C122.5 77.0 122.8 77.4 122.8 79.6C122.8 81.8 122.7 85.5 122.4 88.4C122.1 91.3 121.6 94.5 120.8 97.2C120.0 99.9 118.8 104.5 117.8 104.5C116.8 104.5 115.5 99.9 114.9 97.2C114.3 94.5 114.4 91.3 114.3 88.4C114.2 85.5 114.2 81.4 114.5 79.6C114.8 77.8 115.5 79.1 115.8 77.5C116.1 75.9 116.0 72.2 116.2 69.9C116.4 67.6 116.5 65.3 117.0 63.7C117.5 62.1 118.4 60.8 119.0 60.5Z" fill="#f5e6be"/>
<path d="M167.8 40.4C168.9 40.4 169.7 41.6 170.9 42.9C172.2 44.1 173.8 46.2 175.3 47.9C176.8 49.6 178.2 51.2 179.7 53.0C181.2 54.8 182.6 56.6 184.1 58.6C185.6 60.6 186.9 63.1 188.5 64.9C190.1 66.7 192.2 67.7 193.6 69.5C195.0 71.3 195.8 73.5 196.7 75.8C197.6 78.1 198.4 80.6 199.2 83.3C200.0 86.0 200.8 89.2 201.4 92.1C202.0 95.0 202.5 97.8 203.0 100.9C203.5 104.1 203.8 107.8 204.2 111.0C204.6 114.2 205.2 117.6 205.5 119.8C205.8 122.0 205.4 123.6 206.1 124.2C206.8 124.8 209.1 122.9 209.9 123.6C210.8 124.3 211.0 126.3 211.2 128.6C211.4 130.9 211.1 134.7 210.9 137.4C210.7 140.1 210.9 142.3 210.2 145.0C209.5 147.7 207.7 150.7 206.8 153.3C205.9 156.0 205.5 160.7 204.9 160.9C204.3 161.1 203.6 155.4 203.0 154.6C202.4 153.8 201.7 154.7 201.1 155.9C200.5 157.2 199.8 159.6 199.2 162.1C198.6 164.6 198.0 168.2 197.3 170.9C196.6 173.6 195.9 176.4 194.8 178.5C193.8 180.6 192.5 182.3 191.0 183.5C189.5 184.7 187.2 185.3 186.0 185.4C184.8 185.5 184.8 185.3 183.5 184.2C182.2 183.0 180.1 180.9 178.5 178.5C176.9 176.1 175.4 172.8 174.1 169.7C172.8 166.5 171.8 162.9 170.9 159.6C170.1 156.2 169.5 152.9 169.0 149.6C168.5 146.2 168.2 142.4 167.8 139.5C167.5 136.6 167.3 135.7 166.9 132.4C166.5 129.1 166.0 124.0 165.6 119.8C165.2 115.6 164.8 111.4 164.6 107.2C164.3 103.0 164.2 98.9 164.1 94.7C163.9 90.5 163.7 86.3 163.7 82.1C163.7 77.9 164.1 72.4 164.0 69.5C163.9 66.6 163.3 67.1 163.1 64.9C162.9 62.7 162.7 58.8 162.7 56.1C162.7 53.4 162.8 50.8 163.1 48.6C163.4 46.4 163.8 44.3 164.6 42.9C165.4 41.5 166.8 40.4 167.8 40.4Z" fill="#f5e6be"/>
<path d="M-4.3 119.8C-4.3 119.8 -1.6 119.9 -0.5 119.8C0.6 119.7 0.9 119.0 2.0 119.2C3.0 119.4 4.3 120.7 5.8 121.1C7.3 121.5 9.3 121.9 10.8 121.7C12.3 121.5 13.5 120.8 14.6 119.8C15.7 118.8 16.1 118.1 17.1 116.0C18.2 113.9 19.6 109.7 20.9 107.2C22.2 104.7 23.2 103.2 24.7 100.9C26.2 98.6 28.0 95.7 29.7 93.4C31.4 91.1 32.8 89.4 34.7 87.1C36.6 84.8 38.9 81.9 41.0 79.6C43.1 77.3 44.6 75.6 47.3 73.3C50.0 71.0 55.0 67.2 57.4 65.5C59.8 63.9 60.6 63.6 61.8 63.4C62.9 63.2 63.7 63.4 64.3 64.3C64.9 65.2 65.2 66.5 65.5 68.7C65.8 70.9 65.9 75.3 66.2 77.5C66.5 79.7 67.0 80.3 67.2 82.1C67.4 83.9 67.4 85.3 67.4 88.4C67.4 91.5 67.4 96.7 67.2 100.9C67.0 105.1 66.6 109.3 66.2 113.5C65.8 117.7 65.3 122.3 64.7 126.1C64.1 129.9 63.3 133.0 62.6 136.2C61.9 139.3 61.5 142.3 60.5 145.0C59.5 147.7 57.9 149.9 56.7 152.1C55.6 154.3 54.8 156.5 53.6 158.4C52.5 160.3 51.1 161.9 49.8 163.4C48.5 164.9 47.1 166.1 46.0 167.2C44.9 168.2 43.9 169.5 42.9 169.7C41.9 169.9 40.8 169.2 39.8 168.4C38.8 167.6 38.2 165.4 37.2 164.7C36.2 164.0 35.2 164.0 33.5 164.0C31.8 164.0 29.3 164.6 27.2 164.7C25.1 164.8 22.6 164.8 20.9 164.7C19.2 164.6 18.1 165.5 17.1 164.0C16.2 162.5 15.7 158.5 15.2 155.9C14.7 153.3 14.7 149.4 14.0 148.3C13.3 147.2 12.0 148.1 10.8 149.6C9.6 151.1 8.2 154.8 7.0 157.1C5.8 159.4 4.5 161.5 3.3 163.4C2.0 165.3 0.8 167.6 -0.5 168.4C-1.8 169.2 -4.3 168.4 -4.3 168.4L-4.3 119.8Z" fill="#deb887"/>
<path d="M117.0 74.5C117.3 74.1 118.0 77.7 118.3 79.6C118.6 81.5 118.8 83.8 118.7 85.9C118.7 88.0 118.3 91.7 118.0 92.1C117.7 92.5 117.2 90.1 117.0 88.4C116.8 86.7 116.5 84.4 116.5 82.1C116.5 79.8 116.7 74.9 117.0 74.5Z" fill="#deb887"/>
<path d="M168.4 45.8C169.3 45.9 170.2 47.3 171.5 48.6C172.8 49.9 174.4 51.8 175.9 53.6C177.4 55.4 178.8 57.2 180.3 59.2C181.8 61.2 183.0 63.8 184.8 65.5C186.6 67.2 189.5 67.8 191.0 69.5C192.5 71.2 193.0 73.5 193.8 75.8C194.7 78.1 195.5 80.6 196.1 83.3C196.7 86.0 197.2 88.9 197.6 92.1C198.0 95.2 198.4 98.6 198.6 102.2C198.8 105.8 198.8 109.5 198.8 113.5C198.8 117.5 198.9 122.1 198.8 126.1C198.7 130.1 198.6 133.8 198.3 137.4C198.1 141.0 197.6 144.0 197.3 147.5C197.0 151.0 196.8 155.1 196.3 158.4C195.8 161.7 195.1 164.5 194.2 167.2C193.3 169.9 191.9 172.8 191.0 174.7C190.1 176.6 189.3 177.7 188.5 178.5C187.7 179.3 187.4 180.3 186.0 179.8C184.6 179.3 182.0 177.4 180.3 175.3C178.6 173.2 177.2 170.0 175.9 167.2C174.6 164.4 173.3 161.6 172.4 158.4C171.5 155.2 170.9 151.5 170.3 148.3C169.7 145.2 169.4 142.2 169.0 139.5C168.6 136.8 168.4 135.7 168.1 132.4C167.8 129.1 167.3 124.0 166.9 119.8C166.5 115.6 166.2 111.4 165.9 107.2C165.6 103.0 165.5 98.9 165.3 94.7C165.2 90.5 165.0 86.3 165.0 82.1C165.0 77.9 165.4 73.0 165.3 69.5C165.2 66.0 164.7 63.8 164.6 61.1C164.5 58.5 164.7 55.8 164.9 53.6C165.1 51.4 165.3 49.2 165.9 47.9C166.5 46.6 167.5 45.7 168.4 45.8Z" fill="#deb887"/>
<path d="M59.9 73.0C61.0 73.2 62.3 73.9 63.0 75.8C63.7 77.7 64.0 81.4 64.3 84.6C64.6 87.8 64.8 90.9 64.7 94.7C64.6 98.5 64.3 103.0 63.9 107.2C63.5 111.4 63.0 116.0 62.4 119.8C61.8 123.6 61.2 126.8 60.5 129.9C59.8 133.1 59.0 136.0 58.0 138.7C57.0 141.4 55.9 144.1 54.8 146.2C53.6 148.3 52.6 149.6 51.1 151.3C49.6 153.0 47.4 155.3 46.0 156.5C44.6 157.7 43.9 158.7 42.9 158.4C41.9 158.1 40.9 155.9 39.8 154.6C38.6 153.3 37.5 151.5 36.0 150.8C34.5 150.1 32.6 151.2 30.9 150.2C29.2 149.1 27.2 145.8 25.9 144.5C24.5 143.2 23.7 143.9 22.8 142.5C21.9 141.1 20.9 138.3 20.3 136.2C19.7 134.1 19.0 131.6 19.0 129.9C19.0 128.2 19.4 127.6 20.3 126.1C21.2 124.6 23.1 123.2 24.7 121.1C26.3 119.0 28.2 116.0 29.7 113.5C31.2 111.0 32.2 108.5 33.5 106.0C34.8 103.5 36.0 100.9 37.2 98.4C38.5 95.9 39.5 93.2 41.0 90.9C42.5 88.6 44.3 86.6 46.0 84.6C47.7 82.6 49.4 80.6 51.1 78.9C52.8 77.2 54.6 75.5 56.1 74.5C57.6 73.5 58.8 72.8 59.9 73.0Z" fill="#ffe100"/>
<path d="M170.3 52.3C171.2 52.4 172.2 54.0 173.4 55.5C174.7 57.0 176.2 59.2 177.8 61.1C179.4 63.0 181.2 65.4 182.9 66.8C184.6 68.2 186.6 68.0 187.9 69.5C189.2 71.0 190.0 73.5 191.0 75.8C192.0 78.1 193.1 80.6 193.8 83.3C194.5 86.0 195.0 88.9 195.4 92.1C195.8 95.2 196.1 98.6 196.3 102.2C196.5 105.8 196.7 109.5 196.7 113.5C196.7 117.5 196.5 122.1 196.3 126.1C196.1 130.1 195.8 133.8 195.4 137.4C195.1 141.0 194.5 144.4 194.2 147.5C193.9 150.6 194.1 153.0 193.6 155.9C193.1 158.8 191.8 162.2 191.0 164.7C190.2 167.2 189.3 169.4 188.5 170.9C187.7 172.4 187.1 173.5 186.0 173.5C184.9 173.5 183.6 172.4 182.2 170.9C180.8 169.4 179.2 167.2 177.8 164.7C176.5 162.2 175.2 158.8 174.1 155.9C173.0 153.0 172.1 149.7 171.5 147.0C170.9 144.3 170.7 141.9 170.3 139.5C170.0 137.1 169.8 135.7 169.4 132.4C169.0 129.1 168.5 124.0 168.1 119.8C167.7 115.6 167.4 111.4 167.1 107.2C166.8 103.0 166.6 98.9 166.5 94.7C166.4 90.5 166.3 86.3 166.3 82.1C166.3 77.9 166.4 73.0 166.5 69.5C166.6 66.0 166.7 63.6 166.9 61.1C167.1 58.6 167.2 56.3 167.8 54.8C168.4 53.3 169.4 52.2 170.3 52.3Z" fill="#ffe100"/>
<path d="M56.7 83.6C58.0 83.8 59.1 84.7 59.9 86.5C60.7 88.3 61.2 91.7 61.4 94.7C61.6 97.7 61.4 101.4 61.1 104.7C60.9 108.0 60.4 111.7 59.9 114.8C59.4 117.9 58.7 120.7 58.0 123.6C57.3 126.5 56.5 129.9 55.5 132.4C54.5 134.9 53.1 136.9 51.7 138.7C50.3 140.5 48.8 142.2 47.3 143.1C45.8 144.0 44.4 144.8 42.9 144.3C41.4 143.8 40.0 141.5 38.5 139.9C37.0 138.3 35.4 136.6 34.1 134.9C32.8 133.2 31.5 131.5 30.9 129.9C30.3 128.3 30.4 127.2 30.7 125.5C31.0 123.8 31.9 122.0 32.8 119.8C33.7 117.6 34.8 114.8 36.0 112.3C37.2 109.8 38.6 107.2 39.8 104.7C40.9 102.2 41.6 99.7 42.9 97.2C44.1 94.7 45.7 91.6 47.3 89.6C48.9 87.6 50.7 86.2 52.3 85.2C53.9 84.2 55.4 83.4 56.7 83.6Z" fill="#ffa500"/>
<path d="M170.9 59.6C172.0 59.6 173.7 61.2 175.3 62.4C176.9 63.6 178.7 65.6 180.3 66.8C181.9 68.0 183.4 68.0 184.8 69.5C186.2 71.0 187.3 73.5 188.5 75.8C189.7 78.1 190.9 80.6 191.7 83.3C192.5 86.0 192.9 88.9 193.3 92.1C193.7 95.2 194.0 98.6 194.2 102.2C194.4 105.8 194.4 109.5 194.3 113.5C194.2 117.5 194.1 122.1 193.8 126.1C193.5 130.1 193.1 133.8 192.6 137.4C192.1 141.0 191.3 144.6 190.8 147.5C190.3 150.4 190.4 152.2 189.8 154.6C189.2 157.0 188.2 160.2 187.3 162.1C186.4 164.0 185.3 165.9 184.1 165.9C182.9 165.9 181.6 164.0 180.3 162.1C179.1 160.2 177.8 157.1 176.6 154.6C175.4 152.1 174.2 149.5 173.4 147.0C172.6 144.5 171.9 141.9 171.5 139.5C171.1 137.1 171.5 135.7 171.2 132.4C170.9 129.1 170.2 124.0 169.7 119.8C169.2 115.6 168.7 111.4 168.4 107.2C168.1 103.0 168.0 98.9 167.8 94.7C167.7 90.5 167.5 86.3 167.5 82.1C167.5 77.9 167.6 72.8 167.8 69.5C168.0 66.2 168.2 64.0 168.7 62.4C169.2 60.8 169.8 59.6 170.9 59.6Z" fill="#ffa500"/>
<path d="M49.2 94.7C50.4 93.8 52.5 93.7 53.6 94.0C54.7 94.3 55.6 94.7 55.9 96.5C56.2 98.3 55.8 101.9 55.5 104.7C55.2 107.5 54.7 110.6 54.2 113.5C53.7 116.4 52.9 119.9 52.3 122.3C51.7 124.7 51.3 126.7 50.4 128.0C49.5 129.3 48.0 129.8 46.7 129.9C45.5 130.0 43.7 129.7 42.9 128.6C42.1 127.5 42.0 125.7 42.0 123.6C42.0 121.5 42.4 118.7 42.9 116.0C43.4 113.3 44.2 109.9 44.8 107.2C45.4 104.5 46.0 101.8 46.7 99.7C47.4 97.6 48.1 95.7 49.2 94.7Z" fill="#ff4500"/>
<path d="M172.2 64.7C173.3 64.2 175.0 66.0 176.6 66.8C178.2 67.6 180.0 68.0 181.6 69.5C183.2 71.0 184.7 73.5 186.0 75.8C187.3 78.1 188.4 80.6 189.2 83.3C190.0 86.0 190.5 88.9 191.0 92.1C191.5 95.2 191.8 98.6 192.0 102.2C192.2 105.8 192.1 109.5 192.0 113.5C191.9 117.5 191.6 122.1 191.3 126.1C191.0 130.1 190.6 133.8 190.0 137.4C189.4 141.0 188.5 145.1 187.9 147.5C187.3 149.9 187.4 150.5 186.6 152.1C185.8 153.7 184.2 157.1 182.9 157.1C181.7 157.1 180.3 154.0 179.1 152.1C177.9 150.2 176.5 147.2 175.9 145.8C175.3 144.4 175.8 145.9 175.3 143.7C174.8 141.5 173.5 136.4 172.8 132.4C172.1 128.4 171.4 124.0 170.9 119.8C170.4 115.6 170.0 111.4 169.7 107.2C169.4 103.0 169.1 98.9 169.0 94.7C168.9 90.5 168.9 86.3 169.0 82.1C169.1 77.9 169.2 72.4 169.7 69.5C170.2 66.6 171.0 65.2 172.2 64.7Z" fill="#ff4500"/>
<path d="M174.7 74.5C175.9 74.2 178.1 75.2 179.7 76.4C181.3 77.6 182.7 79.4 184.1 81.4C185.5 83.4 187.0 85.8 187.9 88.4C188.8 91.0 189.2 94.1 189.5 97.2C189.8 100.3 190.0 103.6 190.0 107.2C190.0 110.8 189.8 115.0 189.5 118.6C189.2 122.2 188.9 125.2 188.5 128.6C188.1 131.9 187.6 135.8 187.0 138.7C186.4 141.6 185.6 144.7 184.8 146.2C184.0 147.7 183.1 147.9 182.2 147.7C181.2 147.5 180.1 146.5 179.1 145.0C178.1 143.5 177.0 141.2 176.2 138.7C175.4 136.2 174.8 133.1 174.1 129.9C173.4 126.8 172.7 123.4 172.2 119.8C171.7 116.2 171.2 112.3 170.9 108.5C170.6 104.7 170.5 101.0 170.5 97.2C170.5 93.4 170.6 89.1 170.9 85.9C171.2 82.8 171.6 80.2 172.2 78.3C172.8 76.4 173.4 74.8 174.7 74.5Z" fill="#b22222"/>
<path d="M176.6 82.7C177.7 82.7 179.6 83.4 181.0 84.6C182.4 85.8 183.8 87.7 184.8 89.6C185.9 91.5 186.8 93.4 187.3 95.9C187.8 98.4 187.9 101.6 187.9 104.7C187.9 107.8 187.6 111.5 187.3 114.8C187.0 118.1 186.5 121.7 186.0 124.8C185.5 127.9 184.9 131.5 184.1 133.7C183.3 135.9 182.1 137.9 181.2 138.1C180.3 138.3 179.4 136.7 178.5 134.9C177.6 133.1 176.6 130.1 175.9 127.4C175.2 124.7 174.6 121.8 174.1 118.6C173.6 115.4 173.1 111.9 172.8 108.5C172.5 105.1 172.1 101.6 172.2 98.4C172.3 95.2 172.8 91.9 173.2 89.6C173.6 87.3 174.1 85.8 174.7 84.6C175.3 83.4 175.5 82.7 176.6 82.7Z" fill="#ffb6c1"/>
<path d="M175.9 91.9C176.7 91.0 178.5 90.8 179.7 91.1C180.9 91.3 182.1 92.2 182.9 93.4C183.7 94.6 184.3 96.3 184.5 98.4C184.7 100.5 184.4 103.5 184.1 106.0C183.8 108.5 183.4 110.8 182.9 113.5C182.4 116.2 181.8 121.5 181.2 122.3C180.6 123.1 179.8 120.5 179.1 118.6C178.4 116.7 177.6 113.5 177.0 111.0C176.4 108.5 175.7 105.9 175.3 103.5C174.9 101.1 174.6 98.4 174.7 96.5C174.8 94.6 175.1 92.8 175.9 91.9Z" fill="#ff1493"/>
<path d="M92.3 193.6C92.7 191.6 94.1 191.1 95.4 190.4C96.8 189.7 98.8 189.4 100.4 189.6C102.0 189.8 103.5 190.4 104.8 191.7C106.1 193.0 106.8 196.2 108.0 197.4C109.2 198.6 110.8 198.3 111.8 198.6C112.8 198.9 114.1 198.8 114.3 199.2C114.5 199.6 113.8 200.9 113.0 201.1C112.2 201.3 110.2 199.9 109.2 200.5C108.2 201.1 107.6 203.4 106.7 204.9C105.8 206.4 104.8 208.4 103.6 209.3C102.3 210.2 100.6 210.8 99.2 210.6C97.8 210.4 96.5 209.5 95.4 208.1C94.4 206.7 93.4 204.8 92.9 202.4C92.4 200.0 91.9 195.6 92.3 193.6Z" fill="#20b2aa"/>
<path d="M99.8 194.8C100.6 195.0 102.1 196.7 102.9 198.0C103.7 199.3 104.5 200.7 104.5 202.4C104.5 204.1 103.8 207.1 102.9 208.1C102.0 209.1 100.1 209.2 99.2 208.7C98.3 208.2 97.7 206.4 97.3 204.9C96.9 203.4 96.6 201.3 96.7 199.9C96.8 198.5 97.4 197.5 97.9 196.7C98.4 195.8 99.0 194.6 99.8 194.8Z" fill="#c0f060"/>
<path d="M130.6 177.0C131.9 176.4 134.0 178.8 135.7 179.8C137.4 180.8 139.7 181.2 140.7 182.9C141.7 184.6 141.6 187.2 141.7 189.8C141.8 192.4 141.6 195.9 141.3 198.6C141.0 201.3 141.2 204.6 140.1 206.2C138.9 207.8 136.4 208.0 134.4 208.1C132.4 208.2 129.8 208.2 128.1 206.8C126.4 205.4 124.7 202.3 124.3 199.9C123.9 197.5 125.0 195.0 125.6 192.3C126.2 189.6 127.3 186.1 128.1 183.5C128.9 180.9 129.3 177.6 130.6 177.0Z" fill="#20b2aa"/>
<path d="M174.7 215.6C169.9 214.9 176.8 212.1 178.5 211.2C180.2 210.3 182.1 210.3 184.8 210.2C187.5 210.1 191.9 210.4 194.8 210.6C197.7 210.8 200.3 210.4 202.4 211.2C204.5 212.0 212.0 214.9 207.4 215.6C202.8 216.3 179.5 216.3 174.7 215.6Z" fill="#789bf2"/>
<path d="M39.8 227.6C39.8 227.6 40.6 224.0 41.0 222.5C41.4 221.0 41.2 219.4 42.3 218.7C43.3 218.0 45.6 218.1 47.3 218.1C49.0 218.1 50.6 218.8 52.3 218.7C54.0 218.6 55.7 217.6 57.4 217.5C59.1 217.4 60.7 218.2 62.4 218.1C64.1 218.0 65.7 217.0 67.4 216.9C69.1 216.8 69.7 217.6 72.5 217.5C75.3 217.4 81.1 216.2 84.1 216.2C87.1 216.2 88.3 217.4 90.4 217.5C92.5 217.6 94.6 217.2 96.7 216.9C98.8 216.6 101.2 215.6 102.9 215.6C104.6 215.6 105.4 216.2 106.7 216.9C108.0 217.6 109.2 219.7 110.5 220.0C111.8 220.3 113.0 219.4 114.3 218.7C115.5 218.0 116.8 216.3 118.0 215.6C119.2 214.9 120.3 214.4 121.8 214.3C123.3 214.2 125.1 214.7 126.8 215.0C128.5 215.3 130.2 215.8 131.9 216.2C133.6 216.6 135.0 217.1 136.9 217.5C138.8 217.9 140.8 218.3 143.2 218.7C145.6 219.1 149.2 219.7 151.5 220.0C153.8 220.3 155.1 220.4 157.1 220.6C159.1 220.8 161.2 221.1 163.4 221.3C165.6 221.5 169.3 220.9 170.5 221.9C171.7 222.9 170.5 227.6 170.5 227.6L39.8 227.6Z" fill="#3c64e6"/>
<path d="M42.3 227.6C42.3 227.6 41.6 222.9 42.9 221.9C44.1 220.9 47.6 221.5 49.8 221.5C52.0 221.5 54.0 221.8 56.1 222.0C58.2 222.2 56.1 222.8 62.4 223.0C68.7 223.2 88.4 223.2 94.1 223.0C99.8 222.8 95.2 222.1 96.7 221.9C98.2 221.7 100.8 221.8 102.9 222.0C105.0 222.2 105.6 222.8 109.2 223.0C112.8 223.2 121.4 223.2 124.3 223.0C127.2 222.8 125.9 222.0 126.8 221.9C127.7 221.8 128.1 222.1 129.4 222.3C130.7 222.5 133.6 222.1 134.4 223.0C135.2 223.9 134.4 227.6 134.4 227.6L42.3 227.6Z" fill="#0000c8"/>
<path d="M170.5 215.0L213.0 215.0L213.0 198.6L216.4 198.6L216.4 159.0L220.0 159.0L220.0 127.6L230.0 127.6L230.0 230.0L170.5 230.0Z" fill="#fff"/>
</g></g>
<rect x="373.5" y="71.5" width="224" height="223" fill="none" stroke="#000" stroke-width="1.3"/>
<path d="M384.17 294.50v3.4M384.17 71.50v-3.4M396.83 294.50v3.4M396.83 71.50v-3.4M422.17 294.50v3.4M422.17 71.50v-3.4M434.83 294.50v3.4M434.83 71.50v-3.4M460.17 294.50v3.4M460.17 71.50v-3.4M472.83 294.50v3.4M472.83 71.50v-3.4M498.17 294.50v3.4M498.17 71.50v-3.4M510.83 294.50v3.4M510.83 71.50v-3.4M536.17 294.50v3.4M536.17 71.50v-3.4M548.83 294.50v3.4M548.83 71.50v-3.4M574.17 294.50v3.4M574.17 71.50v-3.4M586.83 294.50v3.4M586.83 71.50v-3.4" stroke="#555" stroke-width="0.8" fill="none"/>
<path d="M409.50 294.50v6.3M409.50 71.50v-6.3M447.50 294.50v6.3M447.50 71.50v-6.3M485.50 294.50v6.3M485.50 71.50v-6.3M523.50 294.50v6.3M523.50 71.50v-6.3M561.50 294.50v6.3M561.50 71.50v-6.3M373.50 71.50h-6.3M373.50 103.36h-6.3M373.50 135.21h-6.3M373.50 198.93h-6.3M373.50 246.71h-6.3M373.50 294.50h-6.3M597.50 89.50h6.3M597.50 172.50h6.3" stroke="#000" stroke-width="1.1" fill="none"/>
<text x="400.981" y="312.9" font-size="9.4" class="sa" textLength="17.04" lengthAdjust="spacingAndGlyphs" stroke="#000" stroke-width="0.3" xml:space="preserve">60N</text>
<text x="438.981" y="312.9" font-size="9.4" class="sa" textLength="17.04" lengthAdjust="spacingAndGlyphs" stroke="#000" stroke-width="0.3" xml:space="preserve">30N</text>
<text x="482.725" y="312.9" font-size="9.4" class="sa" textLength="5.55" lengthAdjust="spacingAndGlyphs" stroke="#000" stroke-width="0.3" xml:space="preserve">0</text>
<text x="514.981" y="312.9" font-size="9.4" class="sa" textLength="17.04" lengthAdjust="spacingAndGlyphs" stroke="#000" stroke-width="0.3" xml:space="preserve">30S</text>
<text x="552.981" y="312.9" font-size="9.4" class="sa" textLength="17.04" lengthAdjust="spacingAndGlyphs" stroke="#000" stroke-width="0.3" xml:space="preserve">60S</text>
<text x="345.85" y="75" font-size="9.4" class="sa" textLength="16.65" lengthAdjust="spacingAndGlyphs" stroke="#000" stroke-width="0.3" xml:space="preserve">300</text>
<text x="345.85" y="106.857" font-size="9.4" class="sa" textLength="16.65" lengthAdjust="spacingAndGlyphs" stroke="#000" stroke-width="0.3" xml:space="preserve">400</text>
<text x="345.85" y="138.714" font-size="9.4" class="sa" textLength="16.65" lengthAdjust="spacingAndGlyphs" stroke="#000" stroke-width="0.3" xml:space="preserve">500</text>
<text x="345.85" y="202.429" font-size="9.4" class="sa" textLength="16.65" lengthAdjust="spacingAndGlyphs" stroke="#000" stroke-width="0.3" xml:space="preserve">700</text>
<text x="345.85" y="250.214" font-size="9.4" class="sa" textLength="16.65" lengthAdjust="spacingAndGlyphs" stroke="#000" stroke-width="0.3" xml:space="preserve">850</text>
<text x="340.3" y="298" font-size="9.4" class="sa" textLength="22.2" lengthAdjust="spacingAndGlyphs" stroke="#000" stroke-width="0.3" xml:space="preserve">1000</text>
<text x="608.5" y="93" font-size="9.4" class="sa" textLength="5.55" lengthAdjust="spacingAndGlyphs" stroke="#000" stroke-width="0.3" xml:space="preserve">8</text>
<text x="608.5" y="176" font-size="9.4" class="sa" textLength="5.55" lengthAdjust="spacingAndGlyphs" stroke="#000" stroke-width="0.3" xml:space="preserve">4</text>
<text transform="translate(331.5 236.8) rotate(-90) scale(1.1 1)" font-size="16.5" class="se" textLength="98.45" lengthAdjust="spacing" xml:space="preserve">Pressure (mb)</text>
<text transform="translate(632 227.1) rotate(-90) scale(1.08 1)" font-size="16.5" class="se" textLength="83.33" lengthAdjust="spacing" xml:space="preserve">Height (km)</text>
<text transform="translate(409.05 42.1) scale(1.08 1)" font-size="16.2" class="se" textLength="142.13" lengthAdjust="spacing" xml:space="preserve">b30.004 (yrs 50-74)</text>
<text transform="translate(373.2 62.1) scale(1.12 1)" font-size="14.6" class="se" textLength="144.64" lengthAdjust="spacing" xml:space="preserve">In-cloud ice+liquid WP</text>
<text transform="translate(505.1 62.1) scale(1.12 1)" font-size="14.6" class="se" textLength="82.77" lengthAdjust="spacing" xml:space="preserve">g/m~S~2~N~</text>
</g>
<g id="p3">
<clipPath id="cp_p3"><rect x="213.5" y="427.5" width="224" height="223"/></clipPath>
<g clip-path="url(#cp_p3)">
<rect x="213.5" y="427.5" width="224" height="223" fill="#9abb32"/>
<g transform="translate(213.5 427.5)">
<path d="M-4.3 61.8C-4.3 61.8 -2.0 62.2 -0.5 61.8C1.0 61.4 2.8 60.2 4.5 59.2C6.2 58.2 7.9 57.2 9.6 56.1C11.3 55.0 12.9 53.7 14.6 52.3C16.3 50.9 17.9 49.5 19.6 47.9C21.3 46.3 23.0 44.6 24.7 42.9C26.4 41.2 28.0 39.5 29.7 37.9C31.4 36.3 33.0 35.0 34.7 33.5C36.4 32.0 38.1 30.6 39.8 29.1C41.5 27.6 43.1 26.1 44.8 24.7C46.5 23.3 48.1 22.1 49.8 20.9C51.5 19.7 53.3 18.8 54.8 17.7C56.3 16.6 57.3 15.2 58.6 14.0C59.9 12.8 60.9 11.4 62.4 10.2C63.9 9.0 65.7 8.0 67.4 7.0C69.1 6.0 71.0 5.1 72.5 4.5C74.0 3.9 75.0 2.9 76.2 3.3C77.4 3.7 78.9 5.8 79.7 7.0C80.5 8.2 80.6 8.9 80.9 10.8C81.2 12.7 81.7 15.7 81.8 18.4C81.9 21.1 81.8 24.1 81.6 27.2C81.4 30.3 81.0 33.9 80.6 37.2C80.2 40.6 79.7 44.1 79.0 47.3C78.3 50.4 77.3 53.2 76.5 56.1C75.7 59.0 74.8 61.8 74.0 64.9C73.2 68.0 72.0 72.0 71.4 74.5C70.8 77.0 70.9 77.1 70.6 79.6C70.3 82.1 70.0 86.2 69.7 89.6C69.5 92.9 69.2 96.3 69.1 99.7C69.0 103.1 68.9 106.5 68.9 109.8C68.9 113.1 69.0 116.4 69.1 119.8C69.2 123.2 69.3 126.6 69.3 129.9C69.3 133.2 69.3 135.8 69.3 139.5C69.3 143.2 69.2 147.9 69.1 152.1C69.0 156.3 68.8 160.5 68.7 164.7C68.6 168.9 68.5 173.0 68.4 177.2C68.3 181.4 68.3 185.6 68.1 189.8C67.9 194.0 67.9 198.8 67.4 202.4C66.9 206.0 66.0 209.1 64.9 211.2C63.9 213.3 62.4 213.5 61.1 215.0C59.9 216.5 58.6 218.9 57.4 220.0C56.1 221.1 54.9 221.4 53.6 221.3C52.3 221.2 50.9 219.8 49.8 219.4C48.6 219.0 47.2 217.3 46.7 218.7C46.2 220.1 46.7 227.6 46.7 227.6L-4.3 227.6L-4.3 61.8Z" fill="#c0f060"/>
<path d="M-4.3 75.6C-4.3 75.6 -2.0 75.8 -0.5 75.6C1.0 75.4 2.8 75.1 4.5 74.7C6.2 74.3 7.9 74.0 9.6 73.1C11.3 72.2 12.9 70.7 14.6 69.3C16.3 67.9 17.9 66.5 19.6 64.9C21.3 63.3 23.0 61.6 24.7 59.9C26.4 58.2 28.0 56.5 29.7 54.8C31.4 53.1 33.0 51.5 34.7 49.8C36.4 48.1 38.1 46.5 39.8 44.8C41.5 43.1 43.1 41.4 44.8 39.8C46.5 38.2 48.1 36.8 49.8 35.3C51.5 33.8 53.1 32.4 54.8 30.9C56.5 29.4 58.4 27.5 59.9 26.5C61.4 25.5 62.5 25.1 63.7 24.7C65.0 24.3 66.2 23.9 67.4 24.0C68.6 24.1 69.8 24.4 70.6 25.3C71.4 26.2 72.0 27.5 72.5 29.1C73.0 30.7 73.5 32.5 73.5 34.7C73.5 36.9 73.1 39.8 72.7 42.3C72.3 44.8 71.7 47.3 71.2 49.8C70.7 52.3 70.2 54.9 69.7 57.4C69.2 59.9 68.7 61.6 68.1 64.9C67.5 68.2 66.7 73.5 66.2 77.0C65.7 80.5 65.3 83.0 64.9 85.9C64.5 88.9 64.1 91.6 63.9 94.7C63.7 97.8 63.7 101.4 63.7 104.7C63.7 108.0 63.8 111.5 63.9 114.8C64.0 118.1 64.2 121.4 64.3 124.8C64.4 128.2 64.2 132.5 64.3 134.9C64.4 137.3 64.7 136.6 64.7 139.5C64.7 142.4 64.4 147.9 64.3 152.1C64.2 156.3 64.1 160.5 63.9 164.7C63.7 168.9 63.4 173.0 63.0 177.2C62.6 181.4 62.3 186.0 61.8 189.8C61.3 193.6 60.6 196.9 59.9 199.9C59.2 202.9 58.2 206.5 57.4 208.1C56.5 209.7 55.6 209.6 54.8 209.3C53.9 209.0 53.0 208.0 52.3 206.2C51.6 204.4 51.0 201.3 50.4 198.6C49.8 195.9 49.3 192.7 48.8 189.8C48.3 186.9 47.7 183.7 47.3 181.0C46.9 178.3 47.0 175.0 46.3 173.5C45.6 172.0 44.1 173.0 42.9 172.2C41.7 171.3 40.3 169.6 39.1 168.4C37.9 167.2 36.9 165.1 35.7 165.3C34.6 165.5 33.3 167.7 32.2 169.7C31.1 171.7 30.2 174.7 29.1 177.2C28.0 179.7 26.6 182.3 25.3 184.8C24.0 187.3 22.6 189.8 21.5 192.3C20.4 194.8 19.3 197.2 18.4 199.9C17.5 202.6 16.5 206.2 15.9 208.7C15.3 211.2 14.7 213.1 14.6 215.0C14.5 216.9 15.0 217.9 15.2 220.0C15.4 222.1 15.9 227.6 15.9 227.6L-4.3 227.6L-4.3 75.6Z" fill="#20b2aa"/>
<path d="M46.0 71.8C47.0 71.8 47.9 73.7 48.6 75.2C49.3 76.7 50.0 78.6 50.1 80.8C50.2 83.0 49.6 85.9 49.2 88.4C48.8 90.9 48.5 93.4 47.9 95.9C47.3 98.4 46.4 101.0 45.4 103.5C44.4 106.0 42.9 108.5 41.6 111.0C40.4 113.5 39.1 116.1 37.9 118.6C36.6 121.1 35.5 123.6 34.1 126.1C32.7 128.6 31.1 131.4 29.7 133.7C28.3 136.0 26.9 137.7 25.9 139.9C24.8 142.1 24.1 144.3 23.4 147.0C22.7 149.7 22.1 153.0 21.5 155.9C20.9 158.8 20.2 162.0 19.6 164.7C19.0 167.4 18.5 169.7 17.7 172.2C16.9 174.7 15.8 179.2 14.6 179.8C13.4 180.4 11.9 175.8 10.8 176.0C9.8 176.2 9.2 178.9 8.3 181.0C7.4 183.1 6.2 186.1 5.2 188.6C4.2 191.1 3.3 193.8 2.6 196.1C1.9 198.4 2.0 200.5 0.8 202.4C-0.4 204.3 -4.3 207.4 -4.3 207.4L-4.3 94.0C-4.3 94.0 -2.0 94.0 -0.5 94.0C1.0 94.0 3.0 93.7 4.5 94.0C6.0 94.3 6.8 95.9 8.3 95.9C9.8 95.9 11.8 94.8 13.3 94.0C14.8 93.2 15.8 91.8 17.1 90.9C18.4 90.0 19.6 88.9 20.9 88.4C22.2 87.9 23.3 88.1 24.7 87.7C26.1 87.3 27.9 87.0 29.1 85.9C30.4 84.9 30.9 82.7 32.2 81.4C33.6 80.1 35.5 79.3 37.2 78.3C38.9 77.3 40.8 76.3 42.3 75.2C43.8 74.1 45.0 71.8 46.0 71.8Z" fill="#b0e0e6"/>
<path d="M35.3 186.0C35.9 186.6 36.7 190.0 37.0 192.3C37.3 194.6 37.3 197.4 37.0 199.9C36.7 202.4 36.0 204.9 35.3 207.4C34.6 209.9 33.7 213.2 32.8 215.0C31.9 216.8 30.8 217.7 29.7 218.1C28.6 218.5 26.7 218.0 25.9 217.5C25.1 217.0 24.6 216.5 24.7 215.0C24.8 213.5 25.8 211.0 26.5 208.7C27.2 206.4 28.0 203.6 28.7 201.1C29.4 198.6 30.1 195.7 30.9 193.6C31.7 191.5 32.8 189.9 33.5 188.6C34.2 187.3 34.7 185.4 35.3 186.0Z" fill="#9abb32"/>
<path d="M106.1 -4.3L170.3 -4.3C170.3 -4.3 169.6 -0.3 170.3 1.4C171.0 3.1 173.3 4.0 174.7 5.8C176.1 7.6 177.2 10.3 178.5 12.1C179.8 13.9 180.7 15.3 182.2 16.5C183.7 17.6 185.7 17.9 187.3 19.0C188.9 20.1 190.4 21.3 191.7 22.8C192.9 24.3 193.7 26.0 194.8 27.8C196.0 29.6 197.3 31.5 198.6 33.5C199.9 35.5 201.2 37.6 202.4 39.8C203.7 42.0 204.8 44.6 206.1 46.7C207.3 48.8 208.6 50.5 209.9 52.3C211.2 54.1 212.4 55.7 213.7 57.4C215.0 59.1 216.3 60.7 217.5 62.4C218.7 64.1 219.8 65.7 220.6 67.4C221.4 69.1 222.0 70.4 222.5 72.5C223.0 74.6 222.9 78.4 223.7 80.0C224.5 81.6 227.5 82.1 227.5 82.1L227.5 227.6L209.9 227.6C209.9 227.6 209.1 217.5 208.7 215.0C208.3 212.5 208.0 213.7 207.4 212.5C206.8 211.3 206.0 209.6 205.1 208.1C204.2 206.6 203.2 205.1 202.1 203.7C201.0 202.3 199.7 201.4 198.6 199.9C197.5 198.4 196.4 196.7 195.4 194.8C194.4 192.9 193.2 190.9 192.3 188.6C191.4 186.3 190.7 183.5 189.8 181.0C188.9 178.5 187.9 176.2 187.0 173.5C186.1 170.8 185.2 167.6 184.5 164.7C183.8 161.8 183.1 158.8 182.5 155.9C181.9 153.0 181.5 148.8 181.2 147.0C180.9 145.2 180.8 147.0 180.5 145.0C180.2 143.0 179.9 138.3 179.5 134.9C179.1 131.5 178.6 128.2 178.2 124.8C177.8 121.4 177.3 118.1 176.8 114.8C176.3 111.5 175.7 108.0 175.1 104.7C174.5 101.4 173.8 97.8 173.2 94.7C172.6 91.6 172.0 88.9 171.3 85.9C170.6 83.0 170.1 79.7 169.2 77.0C168.3 74.3 166.9 72.1 166.1 69.9C165.3 67.7 165.1 65.8 164.4 63.7C163.7 61.6 162.9 59.2 162.1 57.4C161.3 55.6 160.5 54.2 159.6 53.0C158.7 51.8 157.3 50.3 156.4 50.4C155.5 50.5 154.7 52.0 153.9 53.6C153.1 55.2 152.2 57.8 151.4 59.9C150.6 62.0 149.7 64.3 148.9 66.2C148.1 68.1 147.1 71.6 146.4 71.2C145.7 70.8 145.1 66.4 144.5 63.7C143.9 61.0 143.4 57.8 142.9 54.8C142.4 51.8 141.9 48.9 141.3 46.0C140.7 43.1 140.1 39.8 139.4 37.2C138.7 34.6 137.7 31.9 136.9 30.3C136.1 28.7 135.5 27.7 134.4 27.8C133.3 27.9 131.8 29.3 130.6 30.9C129.4 32.5 128.3 34.9 127.5 37.2C126.7 39.5 126.1 42.1 125.6 44.8C125.1 47.5 124.5 50.7 124.3 53.6C124.0 56.5 124.0 59.5 124.1 62.4C124.2 65.3 124.8 69.0 125.0 71.2C125.2 73.4 124.9 73.8 125.0 75.8C125.1 77.8 125.5 80.6 125.8 83.3C126.1 86.0 126.4 89.2 126.6 92.1C126.8 95.0 126.8 98.0 126.8 100.9C126.8 103.9 126.8 107.1 126.6 109.8C126.4 112.5 126.2 115.7 125.6 117.3C125.0 118.9 124.0 119.3 123.1 119.2C122.1 119.1 120.9 117.7 119.9 116.7C119.0 115.8 118.1 113.9 117.4 113.5C116.7 113.1 116.2 113.7 115.5 114.2C114.8 114.7 113.8 117.2 113.0 116.7C112.2 116.2 111.3 113.2 110.7 111.0C110.1 108.8 109.8 106.2 109.5 103.5C109.2 100.8 109.1 97.6 109.2 94.7C109.3 91.8 109.9 88.9 110.2 85.9C110.5 83.0 110.8 79.5 111.1 77.0C111.4 74.5 111.6 73.6 111.8 71.2C112.0 68.8 112.0 65.3 112.0 62.4C112.0 59.5 112.1 56.5 112.0 53.6C111.9 50.7 111.8 47.7 111.5 44.8C111.2 41.9 110.9 38.9 110.5 36.0C110.1 33.1 109.6 30.1 109.2 27.2C108.8 24.3 108.4 21.3 108.0 18.4C107.6 15.5 107.3 12.3 107.0 9.6C106.7 6.9 106.2 4.3 106.1 2.0C105.9 -0.3 106.1 -4.3 106.1 -4.3Z" fill="#c0f060"/>
<path d="M118.0 6.8C118.9 6.7 120.4 8.1 121.2 9.6C122.0 11.1 122.7 13.6 122.8 15.9C122.9 18.2 122.2 21.2 121.8 23.4C121.4 25.6 121.0 28.0 120.3 29.1C119.6 30.2 118.2 30.8 117.4 29.9C116.6 28.9 116.0 25.7 115.5 23.4C115.0 21.1 114.5 18.1 114.5 15.9C114.5 13.7 115.2 11.7 115.8 10.2C116.4 8.7 117.1 6.9 118.0 6.8Z" fill="#20b2aa"/>
<path d="M117.4 66.2C118.1 66.1 119.3 67.9 119.9 68.9C120.5 69.9 120.9 70.7 121.2 72.0C121.5 73.3 121.6 74.7 121.8 77.0C122.0 79.3 122.2 83.0 122.4 85.9C122.6 88.9 122.9 92.4 122.8 94.7C122.7 97.0 122.3 98.6 121.8 99.7C121.3 100.8 120.7 101.5 119.9 101.6C119.1 101.7 117.8 100.8 116.8 100.3C115.8 99.8 114.2 99.3 113.6 98.4C113.0 97.5 113.0 96.8 113.0 94.7C113.0 92.6 113.3 88.9 113.6 85.9C113.8 83.0 114.2 79.7 114.5 77.0C114.8 74.3 115.0 71.3 115.5 69.5C116.0 67.7 116.7 66.3 117.4 66.2Z" fill="#20b2aa"/>
<path d="M164.6 8.1C166.1 8.1 167.6 9.0 169.0 10.2C170.4 11.4 171.4 13.5 172.8 15.2C174.2 16.9 175.6 18.7 177.2 20.3C178.8 21.9 180.6 23.2 182.2 24.7C183.8 26.2 185.1 27.5 186.6 29.1C188.1 30.7 189.6 32.3 191.0 34.1C192.4 35.9 193.5 37.8 194.8 39.8C196.1 41.8 197.4 43.7 198.6 46.0C199.8 48.3 200.6 51.1 201.7 53.6C202.8 56.1 203.8 58.7 204.9 61.1C206.0 63.5 206.9 65.8 208.0 68.1C209.1 70.4 210.3 73.1 211.2 75.0C212.0 76.9 212.3 78.6 213.1 79.4C213.9 80.2 215.3 80.3 216.2 80.0C217.1 79.7 218.0 77.5 218.7 77.5C219.4 77.5 220.0 79.2 220.6 80.0C221.2 80.8 221.3 81.3 222.5 82.1C223.7 82.9 227.5 84.6 227.5 84.6L227.5 227.6L209.9 227.6C209.9 227.6 210.1 217.7 209.9 215.0C209.7 212.3 209.2 213.1 208.7 211.2C208.2 209.3 207.4 206.2 206.8 203.7C206.2 201.2 205.4 198.4 204.9 196.1C204.4 193.8 204.0 191.8 203.6 189.8C203.2 187.8 203.0 184.8 202.4 184.2C201.8 183.6 200.8 185.8 199.8 186.0C198.9 186.2 197.6 186.2 196.7 185.4C195.8 184.6 195.1 183.0 194.2 181.0C193.2 179.0 192.1 176.2 191.0 173.5C189.9 170.8 188.8 167.6 187.9 164.7C187.0 161.8 186.1 158.8 185.4 155.9C184.7 153.0 183.9 148.8 183.5 147.0C183.1 145.2 183.4 147.0 183.2 145.0C182.9 143.0 182.4 138.3 182.0 134.9C181.6 131.5 181.2 128.2 180.7 124.8C180.2 121.4 179.6 118.1 179.1 114.8C178.6 111.5 178.1 108.0 177.5 104.7C176.9 101.4 176.3 97.8 175.7 94.7C175.1 91.6 174.4 88.9 173.7 85.9C173.0 83.0 172.4 79.7 171.5 77.0C170.6 74.3 169.3 72.6 168.4 69.9C167.5 67.2 166.8 64.0 166.1 61.1C165.4 58.2 164.7 55.2 164.0 52.3C163.3 49.4 162.6 46.4 161.9 43.5C161.2 40.6 160.2 37.6 159.6 34.7C159.0 31.8 158.5 28.6 158.1 25.9C157.7 23.2 157.2 20.4 157.1 18.4C157.0 16.4 157.2 15.4 157.7 14.0C158.2 12.6 159.0 11.2 160.2 10.2C161.3 9.2 163.1 8.1 164.6 8.1Z" fill="#20b2aa"/>
<path d="M170.3 27.8C171.4 27.9 172.2 29.4 173.4 30.9C174.6 32.4 175.7 35.0 177.2 36.6C178.7 38.2 180.5 39.2 182.2 40.4C183.9 41.5 185.8 42.2 187.3 43.5C188.8 44.8 189.8 46.2 191.0 47.9C192.2 49.6 193.8 51.6 194.8 53.6C195.9 55.6 196.7 57.6 197.3 59.9C197.9 62.2 198.4 65.8 198.6 67.4C198.8 69.0 198.6 67.5 198.6 69.5C198.6 71.5 198.5 76.2 198.3 79.6C198.1 82.9 198.0 86.2 197.6 89.6C197.2 92.9 196.7 96.5 196.1 99.7C195.5 102.9 194.8 105.9 194.2 108.5C193.6 111.1 193.0 113.8 192.3 115.4C191.6 117.0 190.6 117.6 189.8 117.9C189.0 118.2 188.2 118.2 187.3 117.3C186.4 116.4 185.1 114.6 184.1 112.3C183.1 110.0 182.4 106.4 181.6 103.5C180.8 100.6 179.9 97.6 179.1 94.7C178.3 91.8 177.4 88.9 176.6 85.9C175.8 83.0 174.7 79.2 174.1 77.0C173.5 74.8 173.7 74.7 173.2 72.5C172.7 70.3 171.8 66.7 171.2 63.7C170.6 60.8 170.0 57.8 169.4 54.8C168.8 51.8 168.2 48.9 167.8 46.0C167.4 43.1 167.0 39.8 166.9 37.2C166.8 34.6 166.5 31.9 167.1 30.3C167.7 28.7 169.2 27.7 170.3 27.8Z" fill="#b0e0e6"/>
<path d="M227.5 107.2C227.5 107.2 223.8 109.1 222.5 110.4C221.2 111.7 220.6 113.2 220.0 114.8C219.4 116.4 219.2 117.5 218.7 119.8C218.2 122.1 217.4 125.7 216.8 128.6C216.2 131.5 215.5 134.7 214.9 137.4C214.3 140.1 213.7 143.4 213.4 145.0C213.1 146.6 213.3 145.2 213.1 147.0C212.9 148.8 213.0 154.0 212.4 155.9C211.8 157.8 209.9 156.9 209.3 158.4C208.7 159.9 208.9 162.0 208.7 164.7C208.5 167.4 208.2 171.3 208.0 174.7C207.8 178.0 207.5 181.5 207.4 184.8C207.3 188.2 207.3 191.5 207.4 194.8C207.5 198.2 207.7 201.8 208.0 204.9C208.3 208.1 209.0 211.6 209.3 213.7C209.6 215.8 206.9 216.9 209.9 217.5C212.9 218.1 227.5 217.5 227.5 217.5L227.5 107.2Z" fill="#b0e0e6"/>
<path d="M212.4 77.0C211.6 78.2 211.0 83.5 209.9 85.2C208.8 86.9 207.2 86.1 206.1 87.1C204.9 88.0 203.8 89.2 203.0 90.9C202.2 92.6 201.7 94.9 201.1 97.2C200.5 99.5 199.8 102.2 199.2 104.7C198.6 107.2 197.8 109.8 197.3 112.3C196.8 114.8 196.3 117.3 196.1 119.8C195.8 122.3 195.6 124.9 195.8 127.4C196.0 129.9 196.7 132.6 197.3 134.9C197.9 137.2 198.3 139.5 199.2 141.2C200.0 142.9 201.4 143.5 202.4 145.0C203.4 146.5 204.0 149.8 204.9 150.0C205.8 150.2 206.9 147.9 208.0 146.2C209.1 144.5 210.3 142.0 211.2 139.9C212.1 137.8 212.8 136.0 213.4 133.7C214.0 131.4 214.5 128.8 214.9 126.1C215.3 123.4 215.7 120.4 215.9 117.3C216.2 114.2 216.3 110.5 216.4 107.2C216.5 103.9 216.4 100.6 216.4 97.2C216.4 93.8 216.1 89.8 216.2 87.1C216.3 84.4 217.0 82.3 216.8 80.8C216.6 79.3 215.6 78.9 214.9 78.3C214.2 77.7 213.2 75.8 212.4 77.0Z" fill="#c0f060"/>
<path d="M199.2 110.4C199.8 109.7 201.7 109.0 202.4 109.5C203.1 110.0 203.4 111.4 203.4 113.5C203.4 115.6 202.8 119.9 202.6 122.3C202.4 124.7 202.7 127.2 202.1 128.0C201.5 128.8 199.4 128.8 198.8 127.4C198.2 126.0 198.3 122.1 198.3 119.8C198.3 117.5 198.4 115.1 198.6 113.5C198.8 111.9 198.6 111.1 199.2 110.4Z" fill="#9abb32"/>
<path d="M213.1 100.9C213.3 101.3 213.6 104.5 213.7 107.2C213.8 109.9 213.9 114.2 213.9 117.3C213.9 120.4 213.8 123.6 213.4 126.1C213.1 128.6 212.4 131.0 211.8 132.4C211.2 133.8 210.4 134.9 209.7 134.3C209.0 133.7 207.6 131.0 207.4 128.6C207.2 126.2 208.2 122.7 208.7 119.8C209.2 116.9 209.9 113.5 210.5 111.0C211.1 108.5 211.8 106.4 212.2 104.7C212.6 103.0 212.8 100.5 213.1 100.9Z" fill="#9abb32"/>
<path d="M99.2 29.9C100.6 29.8 101.9 30.8 102.9 32.2C103.9 33.6 104.6 36.0 105.2 38.5C105.8 41.0 106.3 44.4 106.7 47.3C107.1 50.2 107.5 53.2 107.7 56.1C107.9 59.0 108.2 61.8 108.0 64.9C107.8 68.0 107.0 72.5 106.7 74.5C106.4 76.5 106.5 75.3 106.1 77.0C105.7 78.7 105.1 81.9 104.5 84.6C103.9 87.3 102.9 90.5 102.3 93.4C101.7 96.3 101.4 99.5 101.1 102.2C100.8 104.9 100.3 107.5 100.4 109.8C100.5 112.1 101.0 114.1 101.7 116.0C102.4 117.9 103.9 119.4 104.8 121.1C105.7 122.8 106.6 124.2 107.3 126.1C108.0 128.0 108.6 130.1 109.2 132.4C109.8 134.7 110.2 138.1 110.7 139.9C111.2 141.7 111.7 141.3 112.0 143.3C112.3 145.3 112.3 149.0 112.4 152.1C112.5 155.2 112.5 158.8 112.4 162.1C112.3 165.4 112.1 169.2 111.8 172.2C111.5 175.1 111.0 177.7 110.5 179.8C110.0 181.9 109.3 183.7 108.6 184.8C107.9 186.0 107.0 186.7 106.1 186.7C105.1 186.7 104.0 184.6 102.9 184.8C101.9 185.0 100.7 187.9 99.8 187.9C98.9 187.9 98.0 186.0 97.3 184.8C96.6 183.7 96.0 180.4 95.4 181.0C94.8 181.6 94.2 186.3 93.5 188.6C92.8 190.9 91.9 192.9 91.0 194.8C90.1 196.7 89.0 198.7 87.9 199.9C86.9 201.1 85.5 202.2 84.7 201.8C84.0 201.4 83.7 199.4 83.4 197.4C83.1 195.4 83.2 192.5 83.1 189.8C83.0 187.1 83.0 183.7 82.6 181.0C82.2 178.3 81.7 175.6 80.9 173.5C80.1 171.4 78.5 170.7 77.8 168.4C77.1 166.1 76.9 162.7 76.8 159.6C76.7 156.5 77.1 152.9 77.2 149.6C77.3 146.2 77.3 141.6 77.5 139.5C77.7 137.4 77.6 138.0 78.4 136.8C79.2 135.6 81.1 134.0 82.2 132.4C83.3 130.8 84.7 129.5 85.3 127.4C85.9 125.3 85.5 123.2 85.6 119.8C85.6 116.4 85.7 111.4 85.6 107.2C85.5 103.0 85.2 98.9 85.1 94.7C84.9 90.5 84.8 86.3 84.7 82.1C84.6 77.9 84.2 73.2 84.3 69.5C84.4 65.8 84.8 63.0 85.1 59.9C85.4 56.8 85.7 53.6 86.3 51.1C86.9 48.6 87.6 46.9 88.5 44.8C89.4 42.7 90.5 40.5 91.6 38.5C92.6 36.5 93.5 34.2 94.8 32.8C96.1 31.4 97.8 30.0 99.2 29.9Z" fill="#f5e6be"/>
<path d="M102.7 143.3C103.2 143.8 104.1 147.5 104.8 149.6C105.5 151.7 106.3 154.0 106.7 155.9C107.1 157.8 107.3 159.0 107.3 160.9C107.3 162.8 106.8 165.3 106.5 167.2C106.2 169.1 106.3 171.4 105.7 172.2C105.1 173.0 103.7 173.1 102.9 172.0C102.1 170.9 101.6 168.0 101.1 165.9C100.6 163.8 99.9 161.9 99.8 159.6C99.7 157.3 100.1 154.3 100.4 152.1C100.7 149.9 101.3 147.9 101.7 146.4C102.1 144.9 102.2 142.8 102.7 143.3Z" fill="#deb887"/>
<path d="M117.0 127.1C117.3 126.7 117.9 128.6 118.3 129.9C118.7 131.2 119.0 133.3 119.3 134.9C119.6 136.5 119.5 137.5 119.9 139.5C120.3 141.5 121.2 144.7 121.8 147.0C122.4 149.3 123.0 152.9 123.7 153.3C124.4 153.7 125.6 150.7 126.2 149.6C126.8 148.5 127.1 146.6 127.5 147.0C127.9 147.4 128.2 150.2 128.7 152.1C129.2 154.0 130.0 156.6 130.6 158.4C131.2 160.2 131.4 161.8 132.5 162.8C133.6 163.9 135.8 163.8 136.9 164.7C138.1 165.6 138.8 166.5 139.4 168.4C140.0 170.3 140.4 173.5 140.7 176.0C140.9 178.5 141.0 181.0 140.9 183.5C140.8 186.0 140.6 189.0 140.1 191.1C139.6 193.2 138.9 194.4 138.2 196.1C137.5 197.8 136.5 200.6 135.7 201.1C134.8 201.6 134.1 199.4 133.1 199.2C132.1 198.9 130.6 199.2 129.4 199.6C128.2 200.0 127.2 200.7 126.2 201.8C125.2 202.9 124.0 204.6 123.1 206.2C122.2 207.8 121.3 209.3 120.6 211.2C119.9 213.1 119.2 214.8 118.7 217.5C118.2 220.2 117.8 227.6 117.8 227.6L105.5 227.6C105.5 227.6 106.2 222.1 106.7 220.0C107.2 217.9 108.0 216.5 108.6 215.0C109.2 213.5 109.7 212.2 110.5 211.2C111.3 210.1 113.0 210.2 113.6 208.7C114.2 207.2 114.1 205.1 114.3 202.4C114.5 199.7 114.3 195.7 114.5 192.3C114.7 189.0 115.1 185.4 115.5 182.3C115.9 179.2 116.4 176.4 116.8 173.5C117.2 170.6 117.7 167.6 118.0 164.7C118.3 161.8 118.7 158.8 118.7 155.9C118.7 153.0 118.3 149.7 118.0 147.0C117.7 144.3 117.2 141.9 117.0 139.5C116.8 137.1 116.5 134.5 116.5 132.4C116.5 130.3 116.7 127.5 117.0 127.1Z" fill="#f5e6be"/>
<path d="M123.7 172.8C124.0 172.4 124.5 175.4 124.6 177.2C124.7 179.0 124.5 182.0 124.3 183.5C124.1 185.0 123.5 186.6 123.3 186.0C123.1 185.4 123.0 182.0 123.1 179.8C123.2 177.6 123.5 173.2 123.7 172.8Z" fill="#9abb32"/>
<path d="M102.9 192.3C103.7 192.5 105.2 194.6 106.1 196.1C107.0 197.6 108.0 199.2 108.2 201.1C108.4 203.0 107.9 205.5 107.3 207.4C106.7 209.3 105.6 211.3 104.8 212.5C104.0 213.7 103.1 214.5 102.3 214.3C101.5 214.1 100.4 212.8 99.8 211.2C99.2 209.6 98.6 207.0 98.5 204.9C98.4 202.8 99.0 200.3 99.4 198.6C99.8 196.9 100.5 195.9 101.1 194.8C101.7 193.8 102.1 192.1 102.9 192.3Z" fill="#c0f060"/>
<path d="M148.9 187.9C149.5 188.3 150.2 190.7 150.8 192.3C151.4 193.9 151.8 196.7 152.7 197.4C153.6 198.1 155.6 195.9 156.4 196.7C157.2 197.5 157.5 200.2 157.7 202.4C157.9 204.6 157.8 207.6 157.7 209.9C157.6 212.2 157.5 214.6 157.1 216.2C156.7 217.8 155.9 219.2 155.2 219.4C154.5 219.6 153.4 218.9 152.7 217.5C152.0 216.1 151.4 213.3 150.8 211.2C150.2 209.1 149.5 207.0 148.9 204.9C148.3 202.8 147.5 200.5 147.0 198.6C146.5 196.7 145.8 195.1 145.8 193.6C145.8 192.1 146.5 190.8 147.0 189.8C147.5 188.9 148.3 187.5 148.9 187.9Z" fill="#f5e6be"/>
<path d="M160.2 63.7C160.7 63.5 161.5 64.7 162.1 66.2C162.7 67.7 162.8 70.7 163.6 72.5C164.4 74.3 166.0 74.8 166.9 77.0C167.8 79.2 168.3 83.0 169.0 85.9C169.7 88.9 170.3 91.6 170.9 94.7C171.5 97.8 172.2 101.4 172.8 104.7C173.4 108.0 174.1 111.5 174.7 114.8C175.3 118.1 175.7 121.4 176.2 124.8C176.7 128.2 177.1 131.5 177.5 134.9C177.9 138.3 178.2 143.0 178.5 145.0C178.8 147.0 178.8 145.2 179.1 147.0C179.4 148.8 179.8 153.0 180.3 155.9C180.8 158.8 181.4 161.8 182.2 164.7C182.9 167.6 184.0 170.8 184.8 173.5C185.7 176.2 186.5 178.5 187.3 181.0C188.1 183.5 188.9 186.3 189.8 188.6C190.7 190.9 191.9 192.9 192.9 194.8C193.9 196.7 194.9 198.4 196.1 199.9C197.2 201.4 198.7 202.3 199.8 203.7C201.0 205.1 202.1 206.6 203.0 208.1C203.9 209.6 204.9 211.3 205.5 212.5C206.1 213.7 206.6 212.5 206.8 215.0C207.0 217.5 206.8 227.6 206.8 227.6L177.5 227.6C177.5 227.6 177.6 218.2 177.5 215.0C177.4 211.8 177.3 210.8 177.0 208.7C176.7 206.6 176.4 204.5 175.7 202.4C175.0 200.3 173.9 198.0 172.8 196.1C171.7 194.2 170.2 193.0 169.0 191.1C167.8 189.2 167.0 186.9 165.9 184.8C164.8 182.7 164.0 180.6 162.7 178.5C161.4 176.4 159.5 174.5 158.3 172.2C157.2 169.9 156.4 167.4 155.8 164.7C155.2 162.0 154.8 158.8 154.8 155.9C154.8 153.0 155.3 149.7 155.6 147.0C155.9 144.3 156.2 141.9 156.4 139.5C156.6 137.1 156.7 135.7 156.8 132.4C156.9 129.1 157.0 124.0 157.1 119.8C157.2 115.6 157.3 111.4 157.3 107.2C157.3 103.0 157.2 98.9 157.1 94.7C157.0 90.5 156.8 85.2 156.8 82.1C156.8 78.9 156.9 77.2 157.1 75.8C157.3 74.4 157.8 75.1 158.1 73.7C158.4 72.3 158.7 69.1 159.0 67.4C159.3 65.7 159.7 63.9 160.2 63.7Z" fill="#f5e6be"/>
<path d="M163.1 79.6C163.7 79.6 164.6 82.5 165.3 84.6C166.0 86.7 166.5 89.4 167.1 92.1C167.7 94.8 168.4 97.8 169.0 100.9C169.6 104.1 170.2 107.6 170.7 111.0C171.2 114.4 171.6 117.8 171.9 121.1C172.2 124.4 172.6 127.8 172.8 131.1C173.0 134.4 173.3 137.7 173.2 141.2C173.1 144.7 172.7 148.8 172.4 152.1C172.1 155.4 171.8 158.4 171.5 160.9C171.2 163.4 170.8 165.9 170.3 167.2C169.8 168.4 169.0 168.6 168.4 168.4C167.8 168.2 167.2 167.6 166.5 165.9C165.8 164.2 164.6 161.1 164.0 158.4C163.4 155.7 163.0 152.8 162.7 149.6C162.4 146.4 162.1 142.4 162.1 139.5C162.1 136.6 162.4 135.3 162.4 132.4C162.4 129.5 162.1 125.7 161.9 122.3C161.7 118.9 161.3 115.6 161.1 112.3C160.9 109.0 160.7 105.6 160.6 102.2C160.5 98.8 160.4 95.0 160.6 92.1C160.8 89.2 161.1 86.7 161.5 84.6C161.9 82.5 162.5 79.6 163.1 79.6Z" fill="#deb887"/>
<path d="M166.9 108.5C167.2 109.1 167.6 114.4 167.8 117.3C168.0 120.2 168.1 123.2 168.1 126.1C168.1 129.0 168.0 132.9 167.8 134.9C167.6 136.9 167.2 138.9 166.9 138.1C166.6 137.3 166.3 132.7 166.1 129.9C165.9 127.1 165.6 123.8 165.6 121.1C165.6 118.4 165.7 115.6 165.9 113.5C166.1 111.4 166.6 107.9 166.9 108.5Z" fill="#ffe100"/>
<path d="M185.4 198.0C185.8 197.2 187.6 199.0 188.5 199.9C189.4 200.8 189.9 202.6 191.0 203.7C192.1 204.8 193.5 205.7 194.8 206.2C196.1 206.7 197.4 206.2 198.6 206.8C199.8 207.4 200.6 208.8 201.7 209.9C202.8 211.1 204.2 210.8 204.9 213.7C205.6 216.6 206.1 227.6 206.1 227.6L186.6 227.6C186.6 227.6 186.6 217.7 186.6 215.0C186.6 212.3 186.4 212.9 186.3 211.2C186.2 209.5 186.2 207.1 186.0 204.9C185.8 202.7 185.0 198.8 185.4 198.0Z" fill="#deb887"/>
<path d="M191.7 215.0C192.0 212.5 192.8 213.1 193.6 212.5C194.4 211.9 195.7 211.4 196.7 211.4C197.7 211.4 199.0 211.9 199.8 212.5C200.6 213.1 201.4 212.5 201.7 215.0C202.0 217.5 201.7 227.6 201.7 227.6L191.7 227.6C191.7 227.6 191.4 217.5 191.7 215.0Z" fill="#ffe100"/>
<path d="M39.5 215.6L46.3 215.6L46.3 227.6L39.5 227.6Z" fill="#fff"/>
<path d="M170.5 215.0L213.0 215.0L213.0 199.2L216.4 199.2L216.4 159.6L220.0 159.6L220.0 128.0L230.0 128.0L230.0 230.0L170.5 230.0Z" fill="#fff"/>
</g></g>
<rect x="213.5" y="427.5" width="224" height="223" fill="none" stroke="#000" stroke-width="1.3"/>
<path d="M224.17 650.50v3.4M224.17 427.50v-3.4M236.83 650.50v3.4M236.83 427.50v-3.4M262.17 650.50v3.4M262.17 427.50v-3.4M274.83 650.50v3.4M274.83 427.50v-3.4M300.17 650.50v3.4M300.17 427.50v-3.4M312.83 650.50v3.4M312.83 427.50v-3.4M338.17 650.50v3.4M338.17 427.50v-3.4M350.83 650.50v3.4M350.83 427.50v-3.4M376.17 650.50v3.4M376.17 427.50v-3.4M388.83 650.50v3.4M388.83 427.50v-3.4M414.17 650.50v3.4M414.17 427.50v-3.4M426.83 650.50v3.4M426.83 427.50v-3.4" stroke="#555" stroke-width="0.8" fill="none"/>
<path d="M249.50 650.50v6.3M249.50 427.50v-6.3M287.50 650.50v6.3M287.50 427.50v-6.3M325.50 650.50v6.3M325.50 427.50v-6.3M363.50 650.50v6.3M363.50 427.50v-6.3M401.50 650.50v6.3M401.50 427.50v-6.3M213.50 427.50h-6.3M213.50 459.36h-6.3M213.50 491.21h-6.3M213.50 554.93h-6.3M213.50 602.71h-6.3M213.50 650.50h-6.3M437.50 445.50h6.3M437.50 528.50h6.3" stroke="#000" stroke-width="1.1" fill="none"/>
<text x="240.981" y="668.9" font-size="9.4" class="sa" textLength="17.04" lengthAdjust="spacingAndGlyphs" stroke="#000" stroke-width="0.3" xml:space="preserve">60N</text>
<text x="278.981" y="668.9" font-size="9.4" class="sa" textLength="17.04" lengthAdjust="spacingAndGlyphs" stroke="#000" stroke-width="0.3" xml:space="preserve">30N</text>
<text x="322.725" y="668.9" font-size="9.4" class="sa" textLength="5.55" lengthAdjust="spacingAndGlyphs" stroke="#000" stroke-width="0.3" xml:space="preserve">0</text>
<text x="354.981" y="668.9" font-size="9.4" class="sa" textLength="17.04" lengthAdjust="spacingAndGlyphs" stroke="#000" stroke-width="0.3" xml:space="preserve">30S</text>
<text x="392.981" y="668.9" font-size="9.4" class="sa" textLength="17.04" lengthAdjust="spacingAndGlyphs" stroke="#000" stroke-width="0.3" xml:space="preserve">60S</text>
<text x="185.85" y="431" font-size="9.4" class="sa" textLength="16.65" lengthAdjust="spacingAndGlyphs" stroke="#000" stroke-width="0.3" xml:space="preserve">300</text>
<text x="185.85" y="462.857" font-size="9.4" class="sa" textLength="16.65" lengthAdjust="spacingAndGlyphs" stroke="#000" stroke-width="0.3" xml:space="preserve">400</text>
<text x="185.85" y="494.714" font-size="9.4" class="sa" textLength="16.65" lengthAdjust="spacingAndGlyphs" stroke="#000" stroke-width="0.3" xml:space="preserve">500</text>
<text x="185.85" y="558.429" font-size="9.4" class="sa" textLength="16.65" lengthAdjust="spacingAndGlyphs" stroke="#000" stroke-width="0.3" xml:space="preserve">700</text>
<text x="185.85" y="606.214" font-size="9.4" class="sa" textLength="16.65" lengthAdjust="spacingAndGlyphs" stroke="#000" stroke-width="0.3" xml:space="preserve">850</text>
<text x="180.3" y="654" font-size="9.4" class="sa" textLength="22.2" lengthAdjust="spacingAndGlyphs" stroke="#000" stroke-width="0.3" xml:space="preserve">1000</text>
<text x="448.5" y="449" font-size="9.4" class="sa" textLength="5.55" lengthAdjust="spacingAndGlyphs" stroke="#000" stroke-width="0.3" xml:space="preserve">8</text>
<text x="448.5" y="532" font-size="9.4" class="sa" textLength="5.55" lengthAdjust="spacingAndGlyphs" stroke="#000" stroke-width="0.3" xml:space="preserve">4</text>
<text transform="translate(171.5 592.8) rotate(-90) scale(1.1 1)" font-size="16.5" class="se" textLength="98.45" lengthAdjust="spacing" xml:space="preserve">Pressure (mb)</text>
<text transform="translate(472 583.1) rotate(-90) scale(1.08 1)" font-size="16.5" class="se" textLength="83.33" lengthAdjust="spacing" xml:space="preserve">Height (km)</text>
<text transform="translate(246.8 398.1) scale(1.08 1)" font-size="16.2" class="se" textLength="146.3" lengthAdjust="spacing" xml:space="preserve">b01.01ibis - b30.004</text>
<text transform="translate(213.2 418.1) scale(1.12 1)" font-size="14.6" class="se" textLength="116.96" lengthAdjust="spacing" xml:space="preserve">In-cloud liquid WP</text>
<text transform="translate(345.1 418.1) scale(1.12 1)" font-size="14.6" class="se" textLength="82.77" lengthAdjust="spacing" xml:space="preserve">g/m~S~2~N~</text>
</g>
<g>
<rect x="56.90" y="335.5" width="13.75" height="19.3" fill="#9370db"/>
<rect x="70.45" y="335.5" width="13.75" height="19.3" fill="#0000c8"/>
<rect x="84.00" y="335.5" width="13.75" height="19.3" fill="#3c64e6"/>
<rect x="97.55" y="335.5" width="13.75" height="19.3" fill="#789bf2"/>
<rect x="111.10" y="335.5" width="13.75" height="19.3" fill="#b0e0e6"/>
<rect x="124.65" y="335.5" width="13.75" height="19.3" fill="#20b2aa"/>
<rect x="138.20" y="335.5" width="13.75" height="19.3" fill="#c0f060"/>
<rect x="151.75" y="335.5" width="13.75" height="19.3" fill="#9abb32"/>
<rect x="165.30" y="335.5" width="13.75" height="19.3" fill="#f5e6be"/>
<rect x="178.85" y="335.5" width="13.75" height="19.3" fill="#deb887"/>
<rect x="192.40" y="335.5" width="13.75" height="19.3" fill="#ffe100"/>
<rect x="205.95" y="335.5" width="13.75" height="19.3" fill="#ffa500"/>
<rect x="219.50" y="335.5" width="13.75" height="19.3" fill="#ff4500"/>
<rect x="233.05" y="335.5" width="13.75" height="19.3" fill="#b22222"/>
<rect x="246.60" y="335.5" width="13.75" height="19.3" fill="#ffb6c1"/>
<rect x="260.15" y="335.5" width="13.75" height="19.3" fill="#ff1493"/>
<path d="M70.45 335.5v19.3M84.00 335.5v19.3M97.55 335.5v19.3M111.10 335.5v19.3M124.65 335.5v19.3M138.20 335.5v19.3M151.75 335.5v19.3M165.30 335.5v19.3M178.85 335.5v19.3M192.40 335.5v19.3M205.95 335.5v19.3M219.50 335.5v19.3M233.05 335.5v19.3M246.60 335.5v19.3M260.15 335.5v19.3" stroke="#000" stroke-width="0.9" fill="none"/>
<rect x="56.9" y="335.5" width="216.8" height="19.3" fill="none" stroke="#555" stroke-width="0.7"/>
<text x="67.45" y="368" font-size="10.8" class="sa" textLength="6" lengthAdjust="spacingAndGlyphs" stroke="#000" stroke-width="0.3" xml:space="preserve">5</text>
<text x="91.55" y="368" font-size="10.8" class="sa" textLength="12" lengthAdjust="spacingAndGlyphs" stroke="#000" stroke-width="0.3" xml:space="preserve">20</text>
<text x="118.65" y="368" font-size="10.8" class="sa" textLength="12" lengthAdjust="spacingAndGlyphs" stroke="#000" stroke-width="0.3" xml:space="preserve">40</text>
<text x="145.75" y="368" font-size="10.8" class="sa" textLength="12" lengthAdjust="spacingAndGlyphs" stroke="#000" stroke-width="0.3" xml:space="preserve">60</text>
<text x="172.85" y="368" font-size="10.8" class="sa" textLength="12" lengthAdjust="spacingAndGlyphs" stroke="#000" stroke-width="0.3" xml:space="preserve">80</text>
<text x="196.95" y="368" font-size="10.8" class="sa" textLength="18" lengthAdjust="spacingAndGlyphs" stroke="#000" stroke-width="0.3" xml:space="preserve">100</text>
<text x="224.05" y="368" font-size="10.8" class="sa" textLength="18" lengthAdjust="spacingAndGlyphs" stroke="#000" stroke-width="0.3" xml:space="preserve">120</text>
<text x="251.15" y="368" font-size="10.8" class="sa" textLength="18" lengthAdjust="spacingAndGlyphs" stroke="#000" stroke-width="0.3" xml:space="preserve">140</text>
</g>
<g>
<rect x="376.90" y="335.5" width="13.75" height="19.3" fill="#9370db"/>
<rect x="390.45" y="335.5" width="13.75" height="19.3" fill="#0000c8"/>
<rect x="404.00" y="335.5" width="13.75" height="19.3" fill="#3c64e6"/>
<rect x="417.55" y="335.5" width="13.75" height="19.3" fill="#789bf2"/>
<rect x="431.10" y="335.5" width="13.75" height="19.3" fill="#b0e0e6"/>
<rect x="444.65" y="335.5" width="13.75" height="19.3" fill="#20b2aa"/>
<rect x="458.20" y="335.5" width="13.75" height="19.3" fill="#c0f060"/>
<rect x="471.75" y="335.5" width="13.75" height="19.3" fill="#9abb32"/>
<rect x="485.30" y="335.5" width="13.75" height="19.3" fill="#f5e6be"/>
<rect x="498.85" y="335.5" width="13.75" height="19.3" fill="#deb887"/>
<rect x="512.40" y="335.5" width="13.75" height="19.3" fill="#ffe100"/>
<rect x="525.95" y="335.5" width="13.75" height="19.3" fill="#ffa500"/>
<rect x="539.50" y="335.5" width="13.75" height="19.3" fill="#ff4500"/>
<rect x="553.05" y="335.5" width="13.75" height="19.3" fill="#b22222"/>
<rect x="566.60" y="335.5" width="13.75" height="19.3" fill="#ffb6c1"/>
<rect x="580.15" y="335.5" width="13.75" height="19.3" fill="#ff1493"/>
<path d="M390.45 335.5v19.3M404.00 335.5v19.3M417.55 335.5v19.3M431.10 335.5v19.3M444.65 335.5v19.3M458.20 335.5v19.3M471.75 335.5v19.3M485.30 335.5v19.3M498.85 335.5v19.3M512.40 335.5v19.3M525.95 335.5v19.3M539.50 335.5v19.3M553.05 335.5v19.3M566.60 335.5v19.3M580.15 335.5v19.3" stroke="#000" stroke-width="0.9" fill="none"/>
<rect x="376.9" y="335.5" width="216.8" height="19.3" fill="none" stroke="#555" stroke-width="0.7"/>
<text x="387.45" y="368" font-size="10.8" class="sa" textLength="6" lengthAdjust="spacingAndGlyphs" stroke="#000" stroke-width="0.3" xml:space="preserve">5</text>
<text x="411.55" y="368" font-size="10.8" class="sa" textLength="12" lengthAdjust="spacingAndGlyphs" stroke="#000" stroke-width="0.3" xml:space="preserve">20</text>
<text x="438.65" y="368" font-size="10.8" class="sa" textLength="12" lengthAdjust="spacingAndGlyphs" stroke="#000" stroke-width="0.3" xml:space="preserve">40</text>
<text x="465.75" y="368" font-size="10.8" class="sa" textLength="12" lengthAdjust="spacingAndGlyphs" stroke="#000" stroke-width="0.3" xml:space="preserve">60</text>
<text x="492.85" y="368" font-size="10.8" class="sa" textLength="12" lengthAdjust="spacingAndGlyphs" stroke="#000" stroke-width="0.3" xml:space="preserve">80</text>
<text x="516.95" y="368" font-size="10.8" class="sa" textLength="18" lengthAdjust="spacingAndGlyphs" stroke="#000" stroke-width="0.3" xml:space="preserve">100</text>
<text x="544.05" y="368" font-size="10.8" class="sa" textLength="18" lengthAdjust="spacingAndGlyphs" stroke="#000" stroke-width="0.3" xml:space="preserve">120</text>
<text x="571.15" y="368" font-size="10.8" class="sa" textLength="18" lengthAdjust="spacingAndGlyphs" stroke="#000" stroke-width="0.3" xml:space="preserve">140</text>
</g>
<g>
<rect x="518.5" y="637.59" width="31.3" height="11.41" fill="#9370db"/>
<rect x="518.5" y="626.39" width="31.3" height="11.41" fill="#0000c8"/>
<rect x="518.5" y="615.18" width="31.3" height="11.41" fill="#3c64e6"/>
<rect x="518.5" y="603.97" width="31.3" height="11.41" fill="#789bf2"/>
<rect x="518.5" y="592.77" width="31.3" height="11.41" fill="#b0e0e6"/>
<rect x="518.5" y="581.56" width="31.3" height="11.41" fill="#20b2aa"/>
<rect x="518.5" y="570.36" width="31.3" height="11.41" fill="#c0f060"/>
<rect x="518.5" y="559.15" width="31.3" height="11.41" fill="#9abb32"/>
<rect x="518.5" y="547.94" width="31.3" height="11.41" fill="#f5e6be"/>
<rect x="518.5" y="536.74" width="31.3" height="11.41" fill="#deb887"/>
<rect x="518.5" y="525.53" width="31.3" height="11.41" fill="#ffe100"/>
<rect x="518.5" y="514.32" width="31.3" height="11.41" fill="#ffa500"/>
<rect x="518.5" y="503.12" width="31.3" height="11.41" fill="#ff4500"/>
<rect x="518.5" y="491.91" width="31.3" height="11.41" fill="#b22222"/>
<rect x="518.5" y="480.71" width="31.3" height="11.41" fill="#ffb6c1"/>
<rect x="518.5" y="469.50" width="31.3" height="11.41" fill="#ff1493"/>
<path d="M518.5 480.71h31.3M518.5 491.91h31.3M518.5 503.12h31.3M518.5 514.33h31.3M518.5 525.53h31.3M518.5 536.74h31.3M518.5 547.94h31.3M518.5 559.15h31.3M518.5 570.36h31.3M518.5 581.56h31.3M518.5 592.77h31.3M518.5 603.98h31.3M518.5 615.18h31.3M518.5 626.39h31.3M518.5 637.59h31.3" stroke="#000" stroke-width="0.9" fill="none"/>
<rect x="518.5" y="469.5" width="31.3" height="179.3" fill="none" stroke="#555" stroke-width="0.7"/>
<text x="554.2" y="641.494" font-size="10.8" class="sa" textLength="24.6" lengthAdjust="spacingAndGlyphs" stroke="#000" stroke-width="0.3" xml:space="preserve">-100</text>
<text x="557.2" y="630.287" font-size="10.8" class="sa" textLength="18.6" lengthAdjust="spacingAndGlyphs" stroke="#000" stroke-width="0.3" xml:space="preserve">-80</text>
<text x="557.2" y="619.081" font-size="10.8" class="sa" textLength="18.6" lengthAdjust="spacingAndGlyphs" stroke="#000" stroke-width="0.3" xml:space="preserve">-60</text>
<text x="557.2" y="607.875" font-size="10.8" class="sa" textLength="18.6" lengthAdjust="spacingAndGlyphs" stroke="#000" stroke-width="0.3" xml:space="preserve">-40</text>
<text x="557.2" y="596.669" font-size="10.8" class="sa" textLength="18.6" lengthAdjust="spacingAndGlyphs" stroke="#000" stroke-width="0.3" xml:space="preserve">-20</text>
<text x="557.2" y="585.462" font-size="10.8" class="sa" textLength="18.6" lengthAdjust="spacingAndGlyphs" stroke="#000" stroke-width="0.3" xml:space="preserve">-10</text>
<text x="560.2" y="574.256" font-size="10.8" class="sa" textLength="12.6" lengthAdjust="spacingAndGlyphs" stroke="#000" stroke-width="0.3" xml:space="preserve">-5</text>
<text x="563.5" y="563.05" font-size="10.8" class="sa" textLength="6" lengthAdjust="spacingAndGlyphs" stroke="#000" stroke-width="0.3" xml:space="preserve">0</text>
<text x="563.5" y="551.844" font-size="10.8" class="sa" textLength="6" lengthAdjust="spacingAndGlyphs" stroke="#000" stroke-width="0.3" xml:space="preserve">5</text>
<text x="560.5" y="540.637" font-size="10.8" class="sa" textLength="12" lengthAdjust="spacingAndGlyphs" stroke="#000" stroke-width="0.3" xml:space="preserve">10</text>
<text x="560.5" y="529.431" font-size="10.8" class="sa" textLength="12" lengthAdjust="spacingAndGlyphs" stroke="#000" stroke-width="0.3" xml:space="preserve">20</text>
<text x="560.5" y="518.225" font-size="10.8" class="sa" textLength="12" lengthAdjust="spacingAndGlyphs" stroke="#000" stroke-width="0.3" xml:space="preserve">40</text>
<text x="560.5" y="507.019" font-size="10.8" class="sa" textLength="12" lengthAdjust="spacingAndGlyphs" stroke="#000" stroke-width="0.3" xml:space="preserve">60</text>
<text x="560.5" y="495.812" font-size="10.8" class="sa" textLength="12" lengthAdjust="spacingAndGlyphs" stroke="#000" stroke-width="0.3" xml:space="preserve">80</text>
<text x="557.5" y="484.606" font-size="10.8" class="sa" textLength="18" lengthAdjust="spacingAndGlyphs" stroke="#000" stroke-width="0.3" xml:space="preserve">100</text>
</g>
<text transform="translate(80.3 324.6) scale(1 1)" font-size="12.2" class="se" textLength="19.8" lengthAdjust="spacingAndGlyphs" xml:space="preserve">MIN</text>
<text transform="translate(107.3 324.3) scale(1 1)" font-size="8" class="se" textLength="7.6" lengthAdjust="spacingAndGlyphs" font-weight="bold" style="fill:#b8b8b8" stroke="#b8b8b8" stroke-width="1.6" xml:space="preserve">=</text>
<text transform="translate(133 324.6) scale(1 1)" font-size="12.2" class="se" textLength="23.5" lengthAdjust="spacingAndGlyphs" xml:space="preserve">0.00</text>
<text transform="translate(168.9 324.6) scale(1 1)" font-size="12.2" class="se" textLength="22.5" lengthAdjust="spacingAndGlyphs" xml:space="preserve">MAX</text>
<text transform="translate(197.9 324.3) scale(1 1)" font-size="8" class="se" textLength="7.6" lengthAdjust="spacingAndGlyphs" font-weight="bold" style="fill:#b8b8b8" stroke="#b8b8b8" stroke-width="1.6" xml:space="preserve">=</text>
<text transform="translate(213.5 324.6) scale(1 1)" font-size="12.2" class="se" textLength="37.2" lengthAdjust="spacingAndGlyphs" xml:space="preserve">133.55</text>
<text transform="translate(400.3 324.6) scale(1 1)" font-size="12.2" class="se" textLength="19.8" lengthAdjust="spacingAndGlyphs" xml:space="preserve">MIN</text>
<text transform="translate(427.3 324.3) scale(1 1)" font-size="8" class="se" textLength="7.6" lengthAdjust="spacingAndGlyphs" font-weight="bold" style="fill:#b8b8b8" stroke="#b8b8b8" stroke-width="1.6" xml:space="preserve">=</text>
<text transform="translate(453 324.6) scale(1 1)" font-size="12.2" class="se" textLength="23.5" lengthAdjust="spacingAndGlyphs" xml:space="preserve">0.54</text>
<text transform="translate(488.9 324.6) scale(1 1)" font-size="12.2" class="se" textLength="22.5" lengthAdjust="spacingAndGlyphs" xml:space="preserve">MAX</text>
<text transform="translate(517.9 324.3) scale(1 1)" font-size="8" class="se" textLength="7.6" lengthAdjust="spacingAndGlyphs" font-weight="bold" style="fill:#b8b8b8" stroke="#b8b8b8" stroke-width="1.6" xml:space="preserve">=</text>
<text transform="translate(533.5 324.6) scale(1 1)" font-size="12.2" class="se" textLength="37.2" lengthAdjust="spacingAndGlyphs" xml:space="preserve">146.11</text>
<text transform="translate(461.8 450.3) scale(1 1)" font-size="12.2" class="se" textLength="19.8" lengthAdjust="spacingAndGlyphs" xml:space="preserve">MIN</text>
<text transform="translate(488.8 450) scale(1 1)" font-size="8" class="se" textLength="7.6" lengthAdjust="spacingAndGlyphs" font-weight="bold" style="fill:#b8b8b8" stroke="#b8b8b8" stroke-width="1.6" xml:space="preserve">=</text>
<text transform="translate(504.6 450.3) scale(1 1)" font-size="12.2" class="se" textLength="39.3" lengthAdjust="spacingAndGlyphs" xml:space="preserve">-42.25</text>
<text transform="translate(556.1 450.3) scale(1 1)" font-size="12.2" class="se" textLength="22.5" lengthAdjust="spacingAndGlyphs" xml:space="preserve">MAX</text>
<text transform="translate(585.4 450) scale(1 1)" font-size="8" class="se" textLength="7.6" lengthAdjust="spacingAndGlyphs" font-weight="bold" style="fill:#b8b8b8" stroke="#b8b8b8" stroke-width="1.6" xml:space="preserve">=</text>
<text transform="translate(605.8 450.3) scale(1 1)" font-size="12.2" class="se" textLength="30.6" lengthAdjust="spacingAndGlyphs" xml:space="preserve">13.43</text>
</svg>
</body>
</html>
